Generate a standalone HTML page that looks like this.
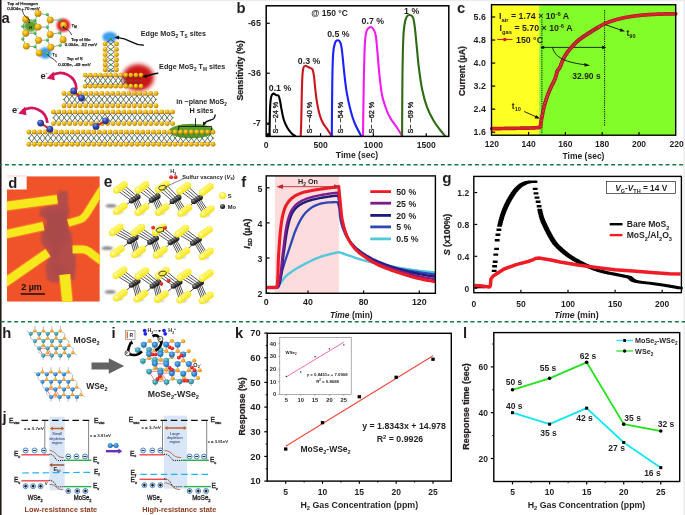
<!DOCTYPE html>
<html lang="en"><head><meta charset="utf-8"><title>Figure</title>
<style>
html,body{margin:0;padding:0;background:#fff;}
body{width:685px;height:515px;overflow:hidden;}
svg{display:block;font-family:"Liberation Sans",sans-serif;}
.b{font-weight:bold;}
.m{stroke:#231f20;stroke-width:0.32px;}
.s{stroke:#231f20;stroke-width:0.18px;}
.r{stroke:#231f20;stroke-width:0.28px;}
.i{font-style:italic;}
</style></head><body>
<svg width="685" height="515" viewBox="0 0 685 515">
<g id="defs">
<defs>
<filter id="soft" filterUnits="userSpaceOnUse" x="-10" y="-10" width="705" height="535"><feGaussianBlur stdDeviation="0.35"/></filter>
<radialGradient id="gy" cx="0.38" cy="0.32" r="0.78"><stop offset="0" stop-color="#ffe052"/><stop offset="0.4" stop-color="#eeb40c"/><stop offset="0.8" stop-color="#b98200"/><stop offset="1" stop-color="#7e5a00"/></radialGradient>
<radialGradient id="gg" cx="0.4" cy="0.35" r="0.75"><stop offset="0" stop-color="#7fe87a"/><stop offset="0.55" stop-color="#2fb345"/><stop offset="1" stop-color="#1b7a2c"/></radialGradient>
<radialGradient id="gb" cx="0.38" cy="0.3" r="0.8"><stop offset="0" stop-color="#8498e6"/><stop offset="0.4" stop-color="#3349b2"/><stop offset="1" stop-color="#172266"/></radialGradient>
<radialGradient id="gr" cx="0.4" cy="0.35" r="0.75"><stop offset="0" stop-color="#ff5a4a"/><stop offset="0.6" stop-color="#e2161a"/><stop offset="1" stop-color="#a00c0c"/></radialGradient>
<radialGradient id="gk" cx="0.4" cy="0.32" r="0.75"><stop offset="0" stop-color="#9a9a9a"/><stop offset="0.5" stop-color="#3a3a3a"/><stop offset="1" stop-color="#0a0a0a"/></radialGradient>
<radialGradient id="gt" cx="0.4" cy="0.35" r="0.75"><stop offset="0" stop-color="#7fd0dc"/><stop offset="0.6" stop-color="#2f96a8"/><stop offset="1" stop-color="#1b6a7a"/></radialGradient>
<radialGradient id="go" cx="0.4" cy="0.35" r="0.75"><stop offset="0" stop-color="#ffc860"/><stop offset="0.6" stop-color="#f39a1c"/><stop offset="1" stop-color="#b86c0a"/></radialGradient>
<radialGradient id="gbl" cx="0.4" cy="0.35" r="0.75"><stop offset="0" stop-color="#74bcee"/><stop offset="0.55" stop-color="#2a84d2"/><stop offset="1" stop-color="#185a9e"/></radialGradient>
<filter id="bl1" filterUnits="userSpaceOnUse" x="0" y="0" width="685" height="515"><feGaussianBlur stdDeviation="1.1"/></filter>
<filter id="bl2" filterUnits="userSpaceOnUse" x="0" y="0" width="685" height="515"><feGaussianBlur stdDeviation="2.2"/></filter>
<filter id="bl05" filterUnits="userSpaceOnUse" x="0" y="0" width="685" height="515"><feGaussianBlur stdDeviation="0.6"/></filter>
<filter id="bl3" filterUnits="userSpaceOnUse" x="0" y="0" width="685" height="515"><feGaussianBlur stdDeviation="3.2"/></filter>
<symbol id="sy" viewBox="-1 -1 2 2" overflow="visible"><circle r="1" fill="url(#gy)"/></symbol>
</defs>
</g>
<g filter="url(#soft)">
<g id="frame">
<rect x="-10" y="-10" width="705" height="535" fill="#fff" stroke="none" stroke-width="1" />
<rect x="-10" y="-10" width="705" height="11.2" fill="#ececec" stroke="none" stroke-width="1" />
<rect x="683.4" y="-10" width="11.6" height="535" fill="#ececec" stroke="none" stroke-width="1" />
<rect x="-10" y="-10" width="11.55" height="535" fill="#231815" stroke="none" stroke-width="1" />
<line x1="-1.83" y1="164.65" x2="690" y2="164.65" stroke="#137a42" stroke-width="1.5" stroke-dasharray="3.95 2.86"/>
<line x1="0.64" y1="321.65" x2="690" y2="321.65" stroke="#137a42" stroke-width="1.5" stroke-dasharray="3.95 2.86"/>
</g>
<g id="pa">
<ellipse cx="30.6" cy="26.2" rx="6.6" ry="5.8" fill="#5a9e2e" filter="url(#bl1)"/>
<circle cx="63.4" cy="25.2" r="6.8" fill="#e0242e" filter="url(#bl1)"/>
<ellipse cx="45.3" cy="53" rx="6.3" ry="5.8" fill="#3f9cea" filter="url(#bl1)"/>
<path d="M38,13.4L47.3,14.6M38,13.4L35,20.4M25.7,19.3L35,20.4M25.7,19.3L22.8,26.3M50.2,19.9L47.3,14.6M50.2,19.9L60.1,20.1M50.2,19.9L47.3,27.1M38,27.1L35,20.4M38,27.1L47.3,27.1M38,27.1L35,33.3M63.6,25.1L60.1,20.1M63.6,25.1L59.9,32.7M25.7,33.3L22.8,26.3M25.7,33.3L35,33.3M25.7,33.3L22.8,38.9M50.2,34.5L47.3,27.1M50.2,34.5L59.9,32.7M50.2,34.5L47.3,40.1M38.5,40.3L35,33.3M38.5,40.3L47.3,40.1M38.5,40.3L35,46.7M63.1,39.7L59.9,32.7M63.1,39.7L60.1,45.2M26.3,46.1L22.8,38.9M26.3,46.1L35,46.7M50.8,47.3L47.3,40.1M50.8,47.3L60.1,45.2M50.8,47.3L47.3,53.5M39.1,53.1L35,46.7M39.1,53.1L47.3,53.5" stroke="#7a7a7a" stroke-width="0.7" fill="none"/>
<circle cx="47.3" cy="14.6" r="1.55" fill="url(#gg)"/>
<circle cx="35" cy="20.4" r="1.55" fill="url(#gg)"/>
<circle cx="60.1" cy="20.1" r="1.55" fill="url(#gg)"/>
<circle cx="22.8" cy="26.3" r="1.55" fill="url(#gg)"/>
<circle cx="47.3" cy="27.1" r="1.55" fill="url(#gg)"/>
<circle cx="35" cy="33.3" r="1.55" fill="url(#gg)"/>
<circle cx="59.9" cy="32.7" r="1.55" fill="url(#gg)"/>
<circle cx="22.8" cy="38.9" r="1.55" fill="url(#gg)"/>
<circle cx="47.3" cy="40.1" r="1.55" fill="url(#gg)"/>
<circle cx="35" cy="46.7" r="1.55" fill="url(#gg)"/>
<circle cx="60.1" cy="45.2" r="1.55" fill="url(#gg)"/>
<circle cx="47.3" cy="53.5" r="1.55" fill="url(#gg)"/>
<circle cx="38" cy="13.4" r="3.45" fill="url(#gy)"/>
<circle cx="25.7" cy="19.3" r="3.45" fill="url(#gy)"/>
<circle cx="50.2" cy="19.9" r="3.45" fill="url(#gy)"/>
<circle cx="38" cy="27.1" r="3.45" fill="url(#gy)"/>
<circle cx="63.6" cy="25.1" r="3.45" fill="url(#gy)"/>
<circle cx="25.7" cy="33.3" r="3.45" fill="url(#gy)"/>
<circle cx="50.2" cy="34.5" r="3.45" fill="url(#gy)"/>
<circle cx="38.5" cy="40.3" r="3.45" fill="url(#gy)"/>
<circle cx="63.1" cy="39.7" r="3.45" fill="url(#gy)"/>
<circle cx="26.3" cy="46.1" r="3.45" fill="url(#gy)"/>
<circle cx="50.8" cy="47.3" r="3.45" fill="url(#gy)"/>
<circle cx="39.1" cy="53.1" r="3.45" fill="url(#gy)"/>
<circle cx="63.5" cy="27.2" r="0.9" fill="#111" />
<circle cx="29.3" cy="22.6" r="0.7" fill="#111" />
<text x="30.4" y="29.3" font-size="4.2" text-anchor="middle" fill="#111" class="b" >H</text>
<path d="M22.3,8.5 C22.6,14 25,17 28,18.2 C29.5,19 29.5,21 29.3,22.6" fill="none" stroke="#111" stroke-width="0.8"/>
<path d="M63.5,27.2 C66,30 69.5,29.5 71.5,35" fill="none" stroke="#111" stroke-width="0.8"/>
<path d="M47.5,54 C50,59 54,57.5 56.5,62.5" fill="none" stroke="#111" stroke-width="0.8"/>
<text x="7.2" y="4.6" font-size="4.4" text-anchor="start" fill="#231f20" stroke="#231f20" stroke-width="0.25">Top of Hexagon</text>
<text x="7.2" y="10.1" font-size="4.4" text-anchor="start" fill="#231f20" stroke="#231f20" stroke-width="0.25">0.004e, -70 meV</text>
<text x="71.6" y="27.2" font-size="4.3" text-anchor="start" fill="#231f20" stroke="#231f20" stroke-width="0.25"><tspan font-size="4.3">T</tspan><tspan font-size="2.84" dy="1.16">M</tspan></text>
<text x="80.7" y="40.8" font-size="4.4" text-anchor="middle" fill="#231f20" stroke="#231f20" stroke-width="0.25">Top of Mo</text>
<text x="81" y="46.2" font-size="4.4" text-anchor="middle" fill="#231f20" stroke="#231f20" stroke-width="0.25">0.004e, -82 meV</text>
<text x="52.3" y="56" font-size="4.3" text-anchor="start" fill="#231f20" stroke="#231f20" stroke-width="0.25"><tspan font-size="4.3">T</tspan><tspan font-size="2.84" dy="1.16">S</tspan></text>
<text x="74.7" y="60.2" font-size="4.4" text-anchor="middle" fill="#231f20" stroke="#231f20" stroke-width="0.25">Top of S</text>
<text x="74.5" y="65.7" font-size="4.4" text-anchor="middle" fill="#231f20" stroke="#231f20" stroke-width="0.25">0.008e, -49 meV</text>
<text x="1.6" y="23.3" font-size="14.8" text-anchor="start" fill="#231f20" class="b" >a</text>
<ellipse cx="109.8" cy="37" rx="7.4" ry="5.2" fill="#3f9cea" filter="url(#bl1)"/>
<ellipse cx="138.2" cy="77.6" rx="15.6" ry="13.4" fill="#cc1219" filter="url(#bl2)"/>
<ellipse cx="191.5" cy="131" rx="22.5" ry="7.2" fill="#5a9e2e" filter="url(#bl05)"/>
<path d="M107.2,41.35L114.4,46.85M114.4,41.35L107.2,46.85M107.2,46.85L114.4,52.05M114.4,46.85L107.2,52.05M107.2,52.05L114.4,57.15M114.4,52.05L107.2,57.15M107.2,57.15L114.4,62.15M114.4,57.15L107.2,62.15M107.2,62.15L114.4,67.15M114.4,62.15L107.2,67.15M107.2,67.15L114.4,72.35M114.4,67.15L107.2,72.35M107.2,69.7L110.8,72.3L114.4,69.7M105.1,43.9L110.8,39.2L116.4,43.9" stroke="#303030" stroke-width="0.7" fill="none"/>
<circle cx="110.8" cy="44.1" r="0.95" fill="#2aa840"/>
<circle cx="110.8" cy="49.45" r="0.95" fill="#2aa840"/>
<circle cx="110.8" cy="54.6" r="0.95" fill="#2aa840"/>
<circle cx="110.8" cy="59.65" r="0.95" fill="#2aa840"/>
<circle cx="110.8" cy="64.65" r="0.95" fill="#2aa840"/>
<circle cx="110.8" cy="69.75" r="0.95" fill="#2aa840"/>
<circle cx="110.8" cy="39" r="1" fill="#2aa840"/>
<circle cx="105.1" cy="43.9" r="2.45" fill="url(#gy)"/>
<circle cx="116.4" cy="43.9" r="2.45" fill="url(#gy)"/>
<circle cx="105.1" cy="49.4" r="2.45" fill="url(#gy)"/>
<circle cx="116.4" cy="49.4" r="2.45" fill="url(#gy)"/>
<circle cx="105.1" cy="54.6" r="2.45" fill="url(#gy)"/>
<circle cx="116.4" cy="54.6" r="2.45" fill="url(#gy)"/>
<circle cx="105.1" cy="59.7" r="2.45" fill="url(#gy)"/>
<circle cx="116.4" cy="59.7" r="2.45" fill="url(#gy)"/>
<circle cx="105.1" cy="64.7" r="2.45" fill="url(#gy)"/>
<circle cx="116.4" cy="64.7" r="2.45" fill="url(#gy)"/>
<circle cx="105.1" cy="69.7" r="2.45" fill="url(#gy)"/>
<circle cx="116.4" cy="69.7" r="2.45" fill="url(#gy)"/>
<path d="M84.9,80.21L87.74,84.35M87.74,76.95L84.9,81.09M87.74,76.95L92.81,84.35M92.81,76.95L87.74,84.35M92.81,76.95L97.88,84.35M97.88,76.95L92.81,84.35M97.88,76.95L102.95,84.35M102.95,76.95L97.88,84.35M102.95,76.95L108.03,84.35M108.03,76.95L102.95,84.35M108.03,76.95L113.1,84.35M113.1,76.95L108.03,84.35M113.1,76.95L118.17,84.35M118.17,76.95L113.1,84.35M118.17,76.95L123.25,84.35M123.25,76.95L118.17,84.35M123.25,76.95L128.32,84.35M128.32,76.95L123.25,84.35M128.32,76.95L133.39,84.35M133.39,76.95L128.32,84.35M133.39,76.95L138.46,84.35M138.46,76.95L133.39,84.35M138.46,76.95L141.3,81.09M141.3,80.21L138.46,84.35M85.2,75.1L87.74,76.95L90.27,75.1M85.2,86.2L87.74,84.35L90.27,86.2M90.27,75.1L92.81,76.95L95.35,75.1M90.27,86.2L92.81,84.35L95.35,86.2M95.35,75.1L97.88,76.95L100.42,75.1M95.35,86.2L97.88,84.35L100.42,86.2M100.42,75.1L102.95,76.95L105.49,75.1M100.42,86.2L102.95,84.35L105.49,86.2M105.49,75.1L108.03,76.95L110.56,75.1M105.49,86.2L108.03,84.35L110.56,86.2M110.56,75.1L113.1,76.95L115.64,75.1M110.56,86.2L113.1,84.35L115.64,86.2M115.64,75.1L118.17,76.95L120.71,75.1M115.64,86.2L118.17,84.35L120.71,86.2M120.71,75.1L123.25,76.95L125.78,75.1M120.71,86.2L123.25,84.35L125.78,86.2M125.78,75.1L128.32,76.95L130.85,75.1M125.78,86.2L128.32,84.35L130.85,86.2M130.85,75.1L133.39,76.95L135.93,75.1M130.85,86.2L133.39,84.35L135.93,86.2M135.93,75.1L138.46,76.95L141,75.1M135.93,86.2L138.46,84.35L141,86.2" stroke="#303030" stroke-width="0.7" fill="none"/>
<circle cx="85.2" cy="80.65" r="0.8" fill="#2a9c3c"/>
<circle cx="90.27" cy="80.65" r="0.8" fill="#2a9c3c"/>
<circle cx="95.35" cy="80.65" r="0.8" fill="#2a9c3c"/>
<circle cx="100.42" cy="80.65" r="0.8" fill="#2a9c3c"/>
<circle cx="105.49" cy="80.65" r="0.8" fill="#2a9c3c"/>
<circle cx="110.56" cy="80.65" r="0.8" fill="#2a9c3c"/>
<circle cx="115.64" cy="80.65" r="0.8" fill="#2a9c3c"/>
<circle cx="120.71" cy="80.65" r="0.8" fill="#2a9c3c"/>
<circle cx="125.78" cy="80.65" r="0.8" fill="#2a9c3c"/>
<circle cx="130.85" cy="80.65" r="0.8" fill="#2a9c3c"/>
<circle cx="135.93" cy="80.65" r="0.8" fill="#2a9c3c"/>
<circle cx="141" cy="80.65" r="0.8" fill="#2a9c3c"/>
<path d="M63.6,99.14L66.61,103.25M66.61,95.85L63.6,99.96M66.61,95.85L72.03,103.25M72.03,95.85L66.61,103.25M72.03,95.85L77.44,103.25M77.44,95.85L72.03,103.25M77.44,95.85L82.86,103.25M82.86,95.85L77.44,103.25M82.86,95.85L88.28,103.25M88.28,95.85L82.86,103.25M88.28,95.85L93.7,103.25M93.7,95.85L88.28,103.25M93.7,95.85L99.11,103.25M99.11,95.85L93.7,103.25M99.11,95.85L104.53,103.25M104.53,95.85L99.11,103.25M104.53,95.85L109.95,103.25M109.95,95.85L104.53,103.25M109.95,95.85L115.37,103.25M115.37,95.85L109.95,103.25M115.37,95.85L120.79,103.25M120.79,95.85L115.37,103.25M120.79,95.85L126.2,103.25M126.2,95.85L120.79,103.25M126.2,95.85L131.62,103.25M131.62,95.85L126.2,103.25M131.62,95.85L137.04,103.25M137.04,95.85L131.62,103.25M137.04,95.85L142.46,103.25M142.46,95.85L137.04,103.25M142.46,95.85L147.87,103.25M147.87,95.85L142.46,103.25M147.87,95.85L153.29,103.25M153.29,95.85L147.87,103.25M153.29,95.85L156.3,99.96M156.3,99.14L153.29,103.25M63.9,93.4L66.61,95.85L69.32,93.4M63.9,105.7L66.61,103.25L69.32,105.7M69.32,93.4L72.03,95.85L74.74,93.4M69.32,105.7L72.03,103.25L74.74,105.7M74.74,93.4L77.44,95.85L80.15,93.4M74.74,105.7L77.44,103.25L80.15,105.7M80.15,93.4L82.86,95.85L85.57,93.4M80.15,105.7L82.86,103.25L85.57,105.7M85.57,93.4L88.28,95.85L90.99,93.4M85.57,105.7L88.28,103.25L90.99,105.7M90.99,93.4L93.7,95.85L96.41,93.4M90.99,105.7L93.7,103.25L96.41,105.7M96.41,93.4L99.11,95.85L101.82,93.4M96.41,105.7L99.11,103.25L101.82,105.7M101.82,93.4L104.53,95.85L107.24,93.4M101.82,105.7L104.53,103.25L107.24,105.7M107.24,93.4L109.95,95.85L112.66,93.4M107.24,105.7L109.95,103.25L112.66,105.7M112.66,93.4L115.37,95.85L118.08,93.4M112.66,105.7L115.37,103.25L118.08,105.7M118.08,93.4L120.79,95.85L123.49,93.4M118.08,105.7L120.79,103.25L123.49,105.7M123.49,93.4L126.2,95.85L128.91,93.4M123.49,105.7L126.2,103.25L128.91,105.7M128.91,93.4L131.62,95.85L134.33,93.4M128.91,105.7L131.62,103.25L134.33,105.7M134.33,93.4L137.04,95.85L139.75,93.4M134.33,105.7L137.04,103.25L139.75,105.7M139.75,93.4L142.46,95.85L145.16,93.4M139.75,105.7L142.46,103.25L145.16,105.7M145.16,93.4L147.87,95.85L150.58,93.4M145.16,105.7L147.87,103.25L150.58,105.7M150.58,93.4L153.29,95.85L156,93.4M150.58,105.7L153.29,103.25L156,105.7" stroke="#303030" stroke-width="0.7" fill="none"/>
<circle cx="63.9" cy="99.55" r="0.8" fill="#2a9c3c"/>
<circle cx="69.32" cy="99.55" r="0.8" fill="#2a9c3c"/>
<circle cx="74.74" cy="99.55" r="0.8" fill="#2a9c3c"/>
<circle cx="80.15" cy="99.55" r="0.8" fill="#2a9c3c"/>
<circle cx="85.57" cy="99.55" r="0.8" fill="#2a9c3c"/>
<circle cx="90.99" cy="99.55" r="0.8" fill="#2a9c3c"/>
<circle cx="96.41" cy="99.55" r="0.8" fill="#2a9c3c"/>
<circle cx="101.82" cy="99.55" r="0.8" fill="#2a9c3c"/>
<circle cx="107.24" cy="99.55" r="0.8" fill="#2a9c3c"/>
<circle cx="112.66" cy="99.55" r="0.8" fill="#2a9c3c"/>
<circle cx="118.08" cy="99.55" r="0.8" fill="#2a9c3c"/>
<circle cx="123.49" cy="99.55" r="0.8" fill="#2a9c3c"/>
<circle cx="128.91" cy="99.55" r="0.8" fill="#2a9c3c"/>
<circle cx="134.33" cy="99.55" r="0.8" fill="#2a9c3c"/>
<circle cx="139.75" cy="99.55" r="0.8" fill="#2a9c3c"/>
<circle cx="145.16" cy="99.55" r="0.8" fill="#2a9c3c"/>
<circle cx="150.58" cy="99.55" r="0.8" fill="#2a9c3c"/>
<circle cx="156" cy="99.55" r="0.8" fill="#2a9c3c"/>
<path d="M53.1,117.34L56.11,121.45M56.11,114.05L53.1,118.16M56.11,114.05L61.53,121.45M61.53,114.05L56.11,121.45M61.53,114.05L66.95,121.45M66.95,114.05L61.53,121.45M66.95,114.05L72.36,121.45M72.36,114.05L66.95,121.45M72.36,114.05L77.78,121.45M77.78,114.05L72.36,121.45M77.78,114.05L83.2,121.45M83.2,114.05L77.78,121.45M83.2,114.05L88.62,121.45M88.62,114.05L83.2,121.45M88.62,114.05L94.04,121.45M94.04,114.05L88.62,121.45M94.04,114.05L99.45,121.45M99.45,114.05L94.04,121.45M99.45,114.05L104.87,121.45M104.87,114.05L99.45,121.45M104.87,114.05L110.29,121.45M110.29,114.05L104.87,121.45M110.29,114.05L115.71,121.45M115.71,114.05L110.29,121.45M115.71,114.05L121.13,121.45M121.13,114.05L115.71,121.45M121.13,114.05L126.55,121.45M126.55,114.05L121.13,121.45M126.55,114.05L131.96,121.45M131.96,114.05L126.55,121.45M131.96,114.05L137.38,121.45M137.38,114.05L131.96,121.45M137.38,114.05L142.8,121.45M142.8,114.05L137.38,121.45M142.8,114.05L148.22,121.45M148.22,114.05L142.8,121.45M148.22,114.05L153.64,121.45M153.64,114.05L148.22,121.45M153.64,114.05L159.05,121.45M159.05,114.05L153.64,121.45M159.05,114.05L164.47,121.45M164.47,114.05L159.05,121.45M164.47,114.05L169.89,121.45M169.89,114.05L164.47,121.45M169.89,114.05L172.9,118.16M172.9,117.34L169.89,121.45M53.4,111.9L56.11,114.05L58.82,111.9M53.4,123.6L56.11,121.45L58.82,123.6M58.82,111.9L61.53,114.05L64.24,111.9M58.82,123.6L61.53,121.45L64.24,123.6M64.24,111.9L66.95,114.05L69.65,111.9M64.24,123.6L66.95,121.45L69.65,123.6M69.65,111.9L72.36,114.05L75.07,111.9M69.65,123.6L72.36,121.45L75.07,123.6M75.07,111.9L77.78,114.05L80.49,111.9M75.07,123.6L77.78,121.45L80.49,123.6M80.49,111.9L83.2,114.05L85.91,111.9M80.49,123.6L83.2,121.45L85.91,123.6M85.91,111.9L88.62,114.05L91.33,111.9M85.91,123.6L88.62,121.45L91.33,123.6M91.33,111.9L94.04,114.05L96.75,111.9M91.33,123.6L94.04,121.45L96.75,123.6M96.75,111.9L99.45,114.05L102.16,111.9M96.75,123.6L99.45,121.45L102.16,123.6M102.16,111.9L104.87,114.05L107.58,111.9M102.16,123.6L104.87,121.45L107.58,123.6M107.58,111.9L110.29,114.05L113,111.9M107.58,123.6L110.29,121.45L113,123.6M113,111.9L115.71,114.05L118.42,111.9M113,123.6L115.71,121.45L118.42,123.6M118.42,111.9L121.13,114.05L123.84,111.9M118.42,123.6L121.13,121.45L123.84,123.6M123.84,111.9L126.55,114.05L129.25,111.9M123.84,123.6L126.55,121.45L129.25,123.6M129.25,111.9L131.96,114.05L134.67,111.9M129.25,123.6L131.96,121.45L134.67,123.6M134.67,111.9L137.38,114.05L140.09,111.9M134.67,123.6L137.38,121.45L140.09,123.6M140.09,111.9L142.8,114.05L145.51,111.9M140.09,123.6L142.8,121.45L145.51,123.6M145.51,111.9L148.22,114.05L150.93,111.9M145.51,123.6L148.22,121.45L150.93,123.6M150.93,111.9L153.64,114.05L156.35,111.9M150.93,123.6L153.64,121.45L156.35,123.6M156.35,111.9L159.05,114.05L161.76,111.9M156.35,123.6L159.05,121.45L161.76,123.6M161.76,111.9L164.47,114.05L167.18,111.9M161.76,123.6L164.47,121.45L167.18,123.6M167.18,111.9L169.89,114.05L172.6,111.9M167.18,123.6L169.89,121.45L172.6,123.6" stroke="#303030" stroke-width="0.7" fill="none"/>
<circle cx="53.4" cy="117.75" r="0.8" fill="#2a9c3c"/>
<circle cx="58.82" cy="117.75" r="0.8" fill="#2a9c3c"/>
<circle cx="64.24" cy="117.75" r="0.8" fill="#2a9c3c"/>
<circle cx="69.65" cy="117.75" r="0.8" fill="#2a9c3c"/>
<circle cx="75.07" cy="117.75" r="0.8" fill="#2a9c3c"/>
<circle cx="80.49" cy="117.75" r="0.8" fill="#2a9c3c"/>
<circle cx="85.91" cy="117.75" r="0.8" fill="#2a9c3c"/>
<circle cx="91.33" cy="117.75" r="0.8" fill="#2a9c3c"/>
<circle cx="96.75" cy="117.75" r="0.8" fill="#2a9c3c"/>
<circle cx="102.16" cy="117.75" r="0.8" fill="#2a9c3c"/>
<circle cx="107.58" cy="117.75" r="0.8" fill="#2a9c3c"/>
<circle cx="113" cy="117.75" r="0.8" fill="#2a9c3c"/>
<circle cx="118.42" cy="117.75" r="0.8" fill="#2a9c3c"/>
<circle cx="123.84" cy="117.75" r="0.8" fill="#2a9c3c"/>
<circle cx="129.25" cy="117.75" r="0.8" fill="#2a9c3c"/>
<circle cx="134.67" cy="117.75" r="0.8" fill="#2a9c3c"/>
<circle cx="140.09" cy="117.75" r="0.8" fill="#2a9c3c"/>
<circle cx="145.51" cy="117.75" r="0.8" fill="#2a9c3c"/>
<circle cx="150.93" cy="117.75" r="0.8" fill="#2a9c3c"/>
<circle cx="156.35" cy="117.75" r="0.8" fill="#2a9c3c"/>
<circle cx="161.76" cy="117.75" r="0.8" fill="#2a9c3c"/>
<circle cx="167.18" cy="117.75" r="0.8" fill="#2a9c3c"/>
<circle cx="172.6" cy="117.75" r="0.8" fill="#2a9c3c"/>
<path d="M28.6,137.74L31.61,141.85M31.61,134.45L28.6,138.56M31.61,134.45L37.02,141.85M37.02,134.45L31.61,141.85M37.02,134.45L42.44,141.85M42.44,134.45L37.02,141.85M42.44,134.45L47.85,141.85M47.85,134.45L42.44,141.85M47.85,134.45L53.27,141.85M53.27,134.45L47.85,141.85M53.27,134.45L58.68,141.85M58.68,134.45L53.27,141.85M58.68,134.45L64.1,141.85M64.1,134.45L58.68,141.85M64.1,134.45L69.51,141.85M69.51,134.45L64.1,141.85M69.51,134.45L74.92,141.85M74.92,134.45L69.51,141.85M74.92,134.45L80.34,141.85M80.34,134.45L74.92,141.85M80.34,134.45L85.75,141.85M85.75,134.45L80.34,141.85M85.75,134.45L91.17,141.85M91.17,134.45L85.75,141.85M91.17,134.45L96.58,141.85M96.58,134.45L91.17,141.85M96.58,134.45L102,141.85M102,134.45L96.58,141.85M102,134.45L107.41,141.85M107.41,134.45L102,141.85M107.41,134.45L112.83,141.85M112.83,134.45L107.41,141.85M112.83,134.45L118.24,141.85M118.24,134.45L112.83,141.85M118.24,134.45L123.66,141.85M123.66,134.45L118.24,141.85M123.66,134.45L129.07,141.85M129.07,134.45L123.66,141.85M129.07,134.45L134.49,141.85M134.49,134.45L129.07,141.85M134.49,134.45L139.9,141.85M139.9,134.45L134.49,141.85M139.9,134.45L145.32,141.85M145.32,134.45L139.9,141.85M145.32,134.45L150.73,141.85M150.73,134.45L145.32,141.85M150.73,134.45L156.15,141.85M156.15,134.45L150.73,141.85M156.15,134.45L161.56,141.85M161.56,134.45L156.15,141.85M161.56,134.45L166.97,141.85M166.97,134.45L161.56,141.85M166.97,134.45L172.39,141.85M172.39,134.45L166.97,141.85M172.39,134.45L177.8,141.85M177.8,134.45L172.39,141.85M177.8,134.45L183.22,141.85M183.22,134.45L177.8,141.85M183.22,134.45L188.63,141.85M188.63,134.45L183.22,141.85M188.63,134.45L194.05,141.85M194.05,134.45L188.63,141.85M194.05,134.45L199.46,141.85M199.46,134.45L194.05,141.85M199.46,134.45L204.88,141.85M204.88,134.45L199.46,141.85M204.88,134.45L210.29,141.85M210.29,134.45L204.88,141.85M210.29,134.45L213.3,138.56M213.3,137.74L210.29,141.85M28.9,132L31.61,134.45L34.31,132M28.9,144.3L31.61,141.85L34.31,144.3M34.31,132L37.02,134.45L39.73,132M34.31,144.3L37.02,141.85L39.73,144.3M39.73,132L42.44,134.45L45.14,132M39.73,144.3L42.44,141.85L45.14,144.3M45.14,132L47.85,134.45L50.56,132M45.14,144.3L47.85,141.85L50.56,144.3M50.56,132L53.27,134.45L55.97,132M50.56,144.3L53.27,141.85L55.97,144.3M55.97,132L58.68,134.45L61.39,132M55.97,144.3L58.68,141.85L61.39,144.3M61.39,132L64.1,134.45L66.8,132M61.39,144.3L64.1,141.85L66.8,144.3M66.8,132L69.51,134.45L72.22,132M66.8,144.3L69.51,141.85L72.22,144.3M72.22,132L74.92,134.45L77.63,132M72.22,144.3L74.92,141.85L77.63,144.3M77.63,132L80.34,134.45L83.05,132M77.63,144.3L80.34,141.85L83.05,144.3M83.05,132L85.75,134.45L88.46,132M83.05,144.3L85.75,141.85L88.46,144.3M88.46,132L91.17,134.45L93.88,132M88.46,144.3L91.17,141.85L93.88,144.3M93.88,132L96.58,134.45L99.29,132M93.88,144.3L96.58,141.85L99.29,144.3M99.29,132L102,134.45L104.71,132M99.29,144.3L102,141.85L104.71,144.3M104.71,132L107.41,134.45L110.12,132M104.71,144.3L107.41,141.85L110.12,144.3M110.12,132L112.83,134.45L115.54,132M110.12,144.3L112.83,141.85L115.54,144.3M115.54,132L118.24,134.45L120.95,132M115.54,144.3L118.24,141.85L120.95,144.3M120.95,132L123.66,134.45L126.36,132M120.95,144.3L123.66,141.85L126.36,144.3M126.36,132L129.07,134.45L131.78,132M126.36,144.3L129.07,141.85L131.78,144.3M131.78,132L134.49,134.45L137.19,132M131.78,144.3L134.49,141.85L137.19,144.3M137.19,132L139.9,134.45L142.61,132M137.19,144.3L139.9,141.85L142.61,144.3M142.61,132L145.32,134.45L148.02,132M142.61,144.3L145.32,141.85L148.02,144.3M148.02,132L150.73,134.45L153.44,132M148.02,144.3L150.73,141.85L153.44,144.3M153.44,132L156.15,134.45L158.85,132M153.44,144.3L156.15,141.85L158.85,144.3M158.85,132L161.56,134.45L164.27,132M158.85,144.3L161.56,141.85L164.27,144.3M164.27,132L166.97,134.45L169.68,132M164.27,144.3L166.97,141.85L169.68,144.3M169.68,132L172.39,134.45L175.1,132M169.68,144.3L172.39,141.85L175.1,144.3M175.1,132L177.8,134.45L180.51,132M175.1,144.3L177.8,141.85L180.51,144.3M180.51,132L183.22,134.45L185.93,132M180.51,144.3L183.22,141.85L185.93,144.3M185.93,132L188.63,134.45L191.34,132M185.93,144.3L188.63,141.85L191.34,144.3M191.34,132L194.05,134.45L196.76,132M191.34,144.3L194.05,141.85L196.76,144.3M196.76,132L199.46,134.45L202.17,132M196.76,144.3L199.46,141.85L202.17,144.3M202.17,132L204.88,134.45L207.59,132M202.17,144.3L204.88,141.85L207.59,144.3M207.59,132L210.29,134.45L213,132M207.59,144.3L210.29,141.85L213,144.3" stroke="#303030" stroke-width="0.7" fill="none"/>
<circle cx="28.9" cy="138.15" r="0.8" fill="#2a9c3c"/>
<circle cx="34.31" cy="138.15" r="0.8" fill="#2a9c3c"/>
<circle cx="39.73" cy="138.15" r="0.8" fill="#2a9c3c"/>
<circle cx="45.14" cy="138.15" r="0.8" fill="#2a9c3c"/>
<circle cx="50.56" cy="138.15" r="0.8" fill="#2a9c3c"/>
<circle cx="55.97" cy="138.15" r="0.8" fill="#2a9c3c"/>
<circle cx="61.39" cy="138.15" r="0.8" fill="#2a9c3c"/>
<circle cx="66.8" cy="138.15" r="0.8" fill="#2a9c3c"/>
<circle cx="72.22" cy="138.15" r="0.8" fill="#2a9c3c"/>
<circle cx="77.63" cy="138.15" r="0.8" fill="#2a9c3c"/>
<circle cx="83.05" cy="138.15" r="0.8" fill="#2a9c3c"/>
<circle cx="88.46" cy="138.15" r="0.8" fill="#2a9c3c"/>
<circle cx="93.88" cy="138.15" r="0.8" fill="#2a9c3c"/>
<circle cx="99.29" cy="138.15" r="0.8" fill="#2a9c3c"/>
<circle cx="104.71" cy="138.15" r="0.8" fill="#2a9c3c"/>
<circle cx="110.12" cy="138.15" r="0.8" fill="#2a9c3c"/>
<circle cx="115.54" cy="138.15" r="0.8" fill="#2a9c3c"/>
<circle cx="120.95" cy="138.15" r="0.8" fill="#2a9c3c"/>
<circle cx="126.36" cy="138.15" r="0.8" fill="#2a9c3c"/>
<circle cx="131.78" cy="138.15" r="0.8" fill="#2a9c3c"/>
<circle cx="137.19" cy="138.15" r="0.8" fill="#2a9c3c"/>
<circle cx="142.61" cy="138.15" r="0.8" fill="#2a9c3c"/>
<circle cx="148.02" cy="138.15" r="0.8" fill="#2a9c3c"/>
<circle cx="153.44" cy="138.15" r="0.8" fill="#2a9c3c"/>
<circle cx="158.85" cy="138.15" r="0.8" fill="#2a9c3c"/>
<circle cx="164.27" cy="138.15" r="0.8" fill="#2a9c3c"/>
<circle cx="169.68" cy="138.15" r="0.8" fill="#2a9c3c"/>
<circle cx="175.1" cy="138.15" r="0.8" fill="#2a9c3c"/>
<circle cx="180.51" cy="138.15" r="0.8" fill="#2a9c3c"/>
<circle cx="185.93" cy="138.15" r="0.8" fill="#2a9c3c"/>
<circle cx="191.34" cy="138.15" r="0.8" fill="#2a9c3c"/>
<circle cx="196.76" cy="138.15" r="0.8" fill="#2a9c3c"/>
<circle cx="202.17" cy="138.15" r="0.8" fill="#2a9c3c"/>
<circle cx="207.59" cy="138.15" r="0.8" fill="#2a9c3c"/>
<circle cx="213" cy="138.15" r="0.8" fill="#2a9c3c"/>
<ellipse cx="138.5" cy="79.5" rx="11.5" ry="8" fill="#cc1219" opacity="0.45" filter="url(#bl1)"/>
<ellipse cx="191.5" cy="133" rx="20" ry="4.6" fill="#5a9e2e" opacity="0.6" filter="url(#bl05)"/>
<circle cx="85.2" cy="75.1" r="2.4" fill="url(#gy)"/>
<circle cx="90.27" cy="75.1" r="2.4" fill="url(#gy)"/>
<circle cx="95.35" cy="75.1" r="2.4" fill="url(#gy)"/>
<circle cx="100.42" cy="75.1" r="2.4" fill="url(#gy)"/>
<circle cx="105.49" cy="75.1" r="2.4" fill="url(#gy)"/>
<circle cx="110.56" cy="75.1" r="2.4" fill="url(#gy)"/>
<circle cx="115.64" cy="75.1" r="2.4" fill="url(#gy)"/>
<circle cx="120.71" cy="75.1" r="2.4" fill="url(#gy)"/>
<circle cx="125.78" cy="75.1" r="2.4" fill="url(#gy)"/>
<circle cx="130.85" cy="75.1" r="2.4" fill="url(#gy)"/>
<circle cx="135.93" cy="75.1" r="2.4" fill="url(#gy)"/>
<circle cx="141" cy="75.1" r="2.4" fill="url(#gy)"/>
<circle cx="85.2" cy="86.2" r="2.4" fill="url(#gy)"/>
<circle cx="90.27" cy="86.2" r="2.4" fill="url(#gy)"/>
<circle cx="95.35" cy="86.2" r="2.4" fill="url(#gy)"/>
<circle cx="100.42" cy="86.2" r="2.4" fill="url(#gy)"/>
<circle cx="105.49" cy="86.2" r="2.4" fill="url(#gy)"/>
<circle cx="110.56" cy="86.2" r="2.4" fill="url(#gy)"/>
<circle cx="115.64" cy="86.2" r="2.4" fill="url(#gy)"/>
<circle cx="120.71" cy="86.2" r="2.4" fill="url(#gy)"/>
<circle cx="125.78" cy="86.2" r="2.4" fill="url(#gy)"/>
<circle cx="130.85" cy="86.2" r="2.4" fill="url(#gy)"/>
<circle cx="135.93" cy="86.2" r="2.4" fill="url(#gy)"/>
<circle cx="141" cy="86.2" r="2.4" fill="url(#gy)"/>
<circle cx="63.9" cy="93.4" r="2.45" fill="url(#gy)"/>
<circle cx="69.32" cy="93.4" r="2.45" fill="url(#gy)"/>
<circle cx="74.74" cy="93.4" r="2.45" fill="url(#gy)"/>
<circle cx="80.15" cy="93.4" r="2.45" fill="url(#gy)"/>
<circle cx="85.57" cy="93.4" r="2.45" fill="url(#gy)"/>
<circle cx="90.99" cy="93.4" r="2.45" fill="url(#gy)"/>
<circle cx="96.41" cy="93.4" r="2.45" fill="url(#gy)"/>
<circle cx="101.82" cy="93.4" r="2.45" fill="url(#gy)"/>
<circle cx="107.24" cy="93.4" r="2.45" fill="url(#gy)"/>
<circle cx="112.66" cy="93.4" r="2.45" fill="url(#gy)"/>
<circle cx="118.08" cy="93.4" r="2.45" fill="url(#gy)"/>
<circle cx="123.49" cy="93.4" r="2.45" fill="url(#gy)"/>
<circle cx="128.91" cy="93.4" r="2.45" fill="url(#gy)"/>
<circle cx="134.33" cy="93.4" r="2.45" fill="url(#gy)"/>
<circle cx="139.75" cy="93.4" r="2.45" fill="url(#gy)"/>
<circle cx="145.16" cy="93.4" r="2.45" fill="url(#gy)"/>
<circle cx="150.58" cy="93.4" r="2.45" fill="url(#gy)"/>
<circle cx="156" cy="93.4" r="2.45" fill="url(#gy)"/>
<circle cx="63.9" cy="105.7" r="2.45" fill="url(#gy)"/>
<circle cx="69.32" cy="105.7" r="2.45" fill="url(#gy)"/>
<circle cx="74.74" cy="105.7" r="2.45" fill="url(#gy)"/>
<circle cx="80.15" cy="105.7" r="2.45" fill="url(#gy)"/>
<circle cx="85.57" cy="105.7" r="2.45" fill="url(#gy)"/>
<circle cx="90.99" cy="105.7" r="2.45" fill="url(#gy)"/>
<circle cx="96.41" cy="105.7" r="2.45" fill="url(#gy)"/>
<circle cx="101.82" cy="105.7" r="2.45" fill="url(#gy)"/>
<circle cx="107.24" cy="105.7" r="2.45" fill="url(#gy)"/>
<circle cx="112.66" cy="105.7" r="2.45" fill="url(#gy)"/>
<circle cx="118.08" cy="105.7" r="2.45" fill="url(#gy)"/>
<circle cx="123.49" cy="105.7" r="2.45" fill="url(#gy)"/>
<circle cx="128.91" cy="105.7" r="2.45" fill="url(#gy)"/>
<circle cx="134.33" cy="105.7" r="2.45" fill="url(#gy)"/>
<circle cx="139.75" cy="105.7" r="2.45" fill="url(#gy)"/>
<circle cx="145.16" cy="105.7" r="2.45" fill="url(#gy)"/>
<circle cx="150.58" cy="105.7" r="2.45" fill="url(#gy)"/>
<circle cx="156" cy="105.7" r="2.45" fill="url(#gy)"/>
<circle cx="53.4" cy="111.9" r="2.45" fill="url(#gy)"/>
<circle cx="58.82" cy="111.9" r="2.45" fill="url(#gy)"/>
<circle cx="64.24" cy="111.9" r="2.45" fill="url(#gy)"/>
<circle cx="69.65" cy="111.9" r="2.45" fill="url(#gy)"/>
<circle cx="75.07" cy="111.9" r="2.45" fill="url(#gy)"/>
<circle cx="80.49" cy="111.9" r="2.45" fill="url(#gy)"/>
<circle cx="85.91" cy="111.9" r="2.45" fill="url(#gy)"/>
<circle cx="91.33" cy="111.9" r="2.45" fill="url(#gy)"/>
<circle cx="96.75" cy="111.9" r="2.45" fill="url(#gy)"/>
<circle cx="102.16" cy="111.9" r="2.45" fill="url(#gy)"/>
<circle cx="107.58" cy="111.9" r="2.45" fill="url(#gy)"/>
<circle cx="113" cy="111.9" r="2.45" fill="url(#gy)"/>
<circle cx="118.42" cy="111.9" r="2.45" fill="url(#gy)"/>
<circle cx="123.84" cy="111.9" r="2.45" fill="url(#gy)"/>
<circle cx="129.25" cy="111.9" r="2.45" fill="url(#gy)"/>
<circle cx="134.67" cy="111.9" r="2.45" fill="url(#gy)"/>
<circle cx="140.09" cy="111.9" r="2.45" fill="url(#gy)"/>
<circle cx="145.51" cy="111.9" r="2.45" fill="url(#gy)"/>
<circle cx="150.93" cy="111.9" r="2.45" fill="url(#gy)"/>
<circle cx="156.35" cy="111.9" r="2.45" fill="url(#gy)"/>
<circle cx="161.76" cy="111.9" r="2.45" fill="url(#gy)"/>
<circle cx="167.18" cy="111.9" r="2.45" fill="url(#gy)"/>
<circle cx="172.6" cy="111.9" r="2.45" fill="url(#gy)"/>
<circle cx="53.4" cy="123.6" r="2.45" fill="url(#gy)"/>
<circle cx="58.82" cy="123.6" r="2.45" fill="url(#gy)"/>
<circle cx="64.24" cy="123.6" r="2.45" fill="url(#gy)"/>
<circle cx="69.65" cy="123.6" r="2.45" fill="url(#gy)"/>
<circle cx="75.07" cy="123.6" r="2.45" fill="url(#gy)"/>
<circle cx="80.49" cy="123.6" r="2.45" fill="url(#gy)"/>
<circle cx="85.91" cy="123.6" r="2.45" fill="url(#gy)"/>
<circle cx="91.33" cy="123.6" r="2.45" fill="url(#gy)"/>
<circle cx="96.75" cy="123.6" r="2.45" fill="url(#gy)"/>
<circle cx="102.16" cy="123.6" r="2.45" fill="url(#gy)"/>
<circle cx="107.58" cy="123.6" r="2.45" fill="url(#gy)"/>
<circle cx="113" cy="123.6" r="2.45" fill="url(#gy)"/>
<circle cx="118.42" cy="123.6" r="2.45" fill="url(#gy)"/>
<circle cx="123.84" cy="123.6" r="2.45" fill="url(#gy)"/>
<circle cx="129.25" cy="123.6" r="2.45" fill="url(#gy)"/>
<circle cx="134.67" cy="123.6" r="2.45" fill="url(#gy)"/>
<circle cx="140.09" cy="123.6" r="2.45" fill="url(#gy)"/>
<circle cx="145.51" cy="123.6" r="2.45" fill="url(#gy)"/>
<circle cx="150.93" cy="123.6" r="2.45" fill="url(#gy)"/>
<circle cx="156.35" cy="123.6" r="2.45" fill="url(#gy)"/>
<circle cx="161.76" cy="123.6" r="2.45" fill="url(#gy)"/>
<circle cx="167.18" cy="123.6" r="2.45" fill="url(#gy)"/>
<circle cx="172.6" cy="123.6" r="2.45" fill="url(#gy)"/>
<circle cx="28.9" cy="132" r="2.45" fill="url(#gy)"/>
<circle cx="34.31" cy="132" r="2.45" fill="url(#gy)"/>
<circle cx="39.73" cy="132" r="2.45" fill="url(#gy)"/>
<circle cx="45.14" cy="132" r="2.45" fill="url(#gy)"/>
<circle cx="50.56" cy="132" r="2.45" fill="url(#gy)"/>
<circle cx="55.97" cy="132" r="2.45" fill="url(#gy)"/>
<circle cx="61.39" cy="132" r="2.45" fill="url(#gy)"/>
<circle cx="66.8" cy="132" r="2.45" fill="url(#gy)"/>
<circle cx="72.22" cy="132" r="2.45" fill="url(#gy)"/>
<circle cx="77.63" cy="132" r="2.45" fill="url(#gy)"/>
<circle cx="83.05" cy="132" r="2.45" fill="url(#gy)"/>
<circle cx="88.46" cy="132" r="2.45" fill="url(#gy)"/>
<circle cx="93.88" cy="132" r="2.45" fill="url(#gy)"/>
<circle cx="99.29" cy="132" r="2.45" fill="url(#gy)"/>
<circle cx="104.71" cy="132" r="2.45" fill="url(#gy)"/>
<circle cx="110.12" cy="132" r="2.45" fill="url(#gy)"/>
<circle cx="115.54" cy="132" r="2.45" fill="url(#gy)"/>
<circle cx="120.95" cy="132" r="2.45" fill="url(#gy)"/>
<circle cx="126.36" cy="132" r="2.45" fill="url(#gy)"/>
<circle cx="131.78" cy="132" r="2.45" fill="url(#gy)"/>
<circle cx="137.19" cy="132" r="2.45" fill="url(#gy)"/>
<circle cx="142.61" cy="132" r="2.45" fill="url(#gy)"/>
<circle cx="148.02" cy="132" r="2.45" fill="url(#gy)"/>
<circle cx="153.44" cy="132" r="2.45" fill="url(#gy)"/>
<circle cx="158.85" cy="132" r="2.45" fill="url(#gy)"/>
<circle cx="164.27" cy="132" r="2.45" fill="url(#gy)"/>
<circle cx="169.68" cy="132" r="2.45" fill="url(#gy)"/>
<circle cx="175.1" cy="132" r="2.45" fill="url(#gy)"/>
<circle cx="180.51" cy="132" r="2.45" fill="url(#gy)"/>
<circle cx="185.93" cy="132" r="2.45" fill="url(#gy)"/>
<circle cx="191.34" cy="132" r="2.45" fill="url(#gy)"/>
<circle cx="196.76" cy="132" r="2.45" fill="url(#gy)"/>
<circle cx="202.17" cy="132" r="2.45" fill="url(#gy)"/>
<circle cx="207.59" cy="132" r="2.45" fill="url(#gy)"/>
<circle cx="213" cy="132" r="2.45" fill="url(#gy)"/>
<circle cx="28.9" cy="144.3" r="2.45" fill="url(#gy)"/>
<circle cx="34.31" cy="144.3" r="2.45" fill="url(#gy)"/>
<circle cx="39.73" cy="144.3" r="2.45" fill="url(#gy)"/>
<circle cx="45.14" cy="144.3" r="2.45" fill="url(#gy)"/>
<circle cx="50.56" cy="144.3" r="2.45" fill="url(#gy)"/>
<circle cx="55.97" cy="144.3" r="2.45" fill="url(#gy)"/>
<circle cx="61.39" cy="144.3" r="2.45" fill="url(#gy)"/>
<circle cx="66.8" cy="144.3" r="2.45" fill="url(#gy)"/>
<circle cx="72.22" cy="144.3" r="2.45" fill="url(#gy)"/>
<circle cx="77.63" cy="144.3" r="2.45" fill="url(#gy)"/>
<circle cx="83.05" cy="144.3" r="2.45" fill="url(#gy)"/>
<circle cx="88.46" cy="144.3" r="2.45" fill="url(#gy)"/>
<circle cx="93.88" cy="144.3" r="2.45" fill="url(#gy)"/>
<circle cx="99.29" cy="144.3" r="2.45" fill="url(#gy)"/>
<circle cx="104.71" cy="144.3" r="2.45" fill="url(#gy)"/>
<circle cx="110.12" cy="144.3" r="2.45" fill="url(#gy)"/>
<circle cx="115.54" cy="144.3" r="2.45" fill="url(#gy)"/>
<circle cx="120.95" cy="144.3" r="2.45" fill="url(#gy)"/>
<circle cx="126.36" cy="144.3" r="2.45" fill="url(#gy)"/>
<circle cx="131.78" cy="144.3" r="2.45" fill="url(#gy)"/>
<circle cx="137.19" cy="144.3" r="2.45" fill="url(#gy)"/>
<circle cx="142.61" cy="144.3" r="2.45" fill="url(#gy)"/>
<circle cx="148.02" cy="144.3" r="2.45" fill="url(#gy)"/>
<circle cx="153.44" cy="144.3" r="2.45" fill="url(#gy)"/>
<circle cx="158.85" cy="144.3" r="2.45" fill="url(#gy)"/>
<circle cx="164.27" cy="144.3" r="2.45" fill="url(#gy)"/>
<circle cx="169.68" cy="144.3" r="2.45" fill="url(#gy)"/>
<circle cx="175.1" cy="144.3" r="2.45" fill="url(#gy)"/>
<circle cx="180.51" cy="144.3" r="2.45" fill="url(#gy)"/>
<circle cx="185.93" cy="144.3" r="2.45" fill="url(#gy)"/>
<circle cx="191.34" cy="144.3" r="2.45" fill="url(#gy)"/>
<circle cx="196.76" cy="144.3" r="2.45" fill="url(#gy)"/>
<circle cx="202.17" cy="144.3" r="2.45" fill="url(#gy)"/>
<circle cx="207.59" cy="144.3" r="2.45" fill="url(#gy)"/>
<circle cx="213" cy="144.3" r="2.45" fill="url(#gy)"/>
<line x1="73.7" y1="91" x2="81.5" y2="98" stroke="#d81e1e" stroke-width="1.9" />
<circle cx="73.7" cy="91" r="3.4" fill="url(#gb)"/>
<circle cx="81.5" cy="98" r="3.4" fill="url(#gb)"/>
<line x1="40.6" y1="123.1" x2="49.9" y2="129.2" stroke="#d81e1e" stroke-width="1.9" />
<circle cx="40.6" cy="123.1" r="3.4" fill="url(#gb)"/>
<circle cx="49.9" cy="129.2" r="3.4" fill="url(#gb)"/>
<line x1="96" y1="126.4" x2="105.5" y2="120.8" stroke="#d81e1e" stroke-width="1.9" />
<circle cx="96" cy="126.4" r="3.4" fill="url(#gb)"/>
<circle cx="105.5" cy="120.8" r="3.4" fill="url(#gb)"/>
<path d="M76.4,89.5 C76.5,76 62,68.5 50.5,76.3" fill="none" stroke="#d2145a" stroke-width="2.7"/>
<path d="M46.6,78.6 L53.6,71.6 L54.8,80.3Z" fill="#d2145a"/>
<path d="M47.4,122.8 C46,110 32,104 22.3,111.2" fill="none" stroke="#d2145a" stroke-width="2.7"/>
<path d="M18.3,113.6 L25.2,106.5 L26.5,115.2Z" fill="#d2145a"/>
<text x="40.6" y="78.6" font-size="9.3" text-anchor="start" fill="#231f20" class="b" ><tspan font-size="9.3">e</tspan><tspan font-size="5.12" dy="-3.53">-</tspan></text>
<text x="11.9" y="113.2" font-size="9.3" text-anchor="start" fill="#231f20" class="b" ><tspan font-size="9.3">e</tspan><tspan font-size="5.12" dy="-3.53">-</tspan></text>
<path d="M178.7,130.4V126.4H211.6V130.4M195.5,126.4V118.2" fill="none" stroke="#111" stroke-width="0.9"/>
<path d="M215.2,114.6 C215,122 208,118.5 204.2,123.6" fill="none" stroke="#111" stroke-width="1.4"/>
<path d="M202.6,126 L203.2,121.4 L206.3,123.8Z" fill="#111"/>
<path d="M143.8,45.2 C131,45 131,38.5 118,37.6" fill="none" stroke="#111" stroke-width="1.45"/>
<path d="M114.3,37.4 L119.2,35.5 L118.9,39.6Z" fill="#111"/>
<path d="M158.3,73.2 C152.5,73 150.5,75.8 145.5,76.3" fill="none" stroke="#111" stroke-width="1.45"/>
<path d="M142,76.6 L146.6,74.2 L146.8,78.3Z" fill="#111"/>
<text x="140.7" y="36" font-size="7.3" text-anchor="start" fill="#231f20" class="b" textLength="65.4" lengthAdjust="spacingAndGlyphs"><tspan font-size="7.3">Edge MoS</tspan><tspan font-size="4.82" dy="1.97">2</tspan><tspan font-size="7.3" dy="-1.97"> T</tspan><tspan font-size="4.82" dy="1.97">S</tspan><tspan font-size="7.3" dy="-1.97"> sites</tspan></text>
<text x="159.1" y="68.9" font-size="7.3" text-anchor="start" fill="#231f20" class="b" textLength="66.2" lengthAdjust="spacingAndGlyphs"><tspan font-size="7.3">Edge MoS</tspan><tspan font-size="4.82" dy="1.97">2</tspan><tspan font-size="7.3" dy="-1.97"> T</tspan><tspan font-size="4.82" dy="1.97">M</tspan><tspan font-size="7.3" dy="-1.97"> sites</tspan></text>
<text x="176.2" y="103.7" font-size="7.3" text-anchor="start" fill="#231f20" class="b" textLength="50.8" lengthAdjust="spacingAndGlyphs"><tspan font-size="7.3">in −plane MoS</tspan><tspan font-size="4.82" dy="1.97">2</tspan></text>
<text x="201.5" y="112.7" font-size="7.3" text-anchor="middle" fill="#231f20" class="b" >H sites</text>
</g>
<g id="pb">
<path d="M269.5,135.7C269.53,133.63 269.6,127.98 269.7,123.3C269.8,118.62 269.92,111.67 270.1,107.6C270.28,103.53 270.48,101.03 270.8,98.9C271.12,96.77 271.53,95.68 272,94.8C272.47,93.92 272.9,93.53 273.6,93.6C274.3,93.67 275.38,94.85 276.2,95.2C277.02,95.55 277.87,94.8 278.5,95.7C279.13,96.6 279.5,98.33 280,100.6C280.5,102.87 280.87,106.1 281.5,109.3C282.13,112.5 282.83,116.73 283.8,119.8C284.77,122.87 285.98,125.43 287.3,127.7C288.62,129.97 290.35,132.02 291.7,133.4C293.05,134.78 294.78,135.57 295.4,136" fill="none" stroke="#000" stroke-width="2.1" stroke-linejoin="round" stroke-linecap="round" />
<path d="M300.7,136C300.8,133.3 301.12,126.87 301.3,119.8C301.48,112.73 301.6,101.17 301.8,93.6C302,86.03 302.22,78.75 302.5,74.4C302.78,70.05 303.03,68.95 303.5,67.5C303.97,66.05 304.37,65.7 305.3,65.7C306.23,65.7 307.92,66.9 309.1,67.5C310.28,68.1 311.58,67.85 312.4,69.3C313.22,70.75 313.53,73.02 314,76.2C314.47,79.38 314.7,84.03 315.2,88.4C315.7,92.77 316.27,98.03 317,102.4C317.73,106.77 318.58,111.12 319.6,114.6C320.62,118.08 321.78,120.8 323.1,123.3C324.42,125.8 326.12,127.55 327.5,129.6C328.88,131.65 330.75,134.6 331.4,135.6" fill="none" stroke="#c8161d" stroke-width="2.1" stroke-linejoin="round" stroke-linecap="round" />
<path d="M331.8,136C331.88,126.92 332.08,95.12 332.3,81.5C332.52,67.88 332.65,60.73 333.1,54.3C333.55,47.87 334.22,45.25 335,42.9C335.78,40.55 336.88,40.2 337.8,40.2C338.72,40.2 339.78,41 340.5,42.9C341.22,44.8 341.52,46.98 342.1,51.6C342.68,56.22 343.23,63.82 344,70.6C344.77,77.38 345.57,85.52 346.7,92.3C347.83,99.08 349.45,106.1 350.8,111.3C352.15,116.5 353.08,119.43 354.8,123.5C356.52,127.57 360.05,133.67 361.1,135.7" fill="none" stroke="#1d20ff" stroke-width="2.1" stroke-linejoin="round" stroke-linecap="round" />
<path d="M363,136C363.13,126.92 363.48,96.92 363.8,81.5C364.12,66.08 364.45,51.88 364.9,43.5C365.35,35.12 365.68,33.92 366.5,31.2C367.32,28.48 368.72,27.65 369.8,27.2C370.88,26.75 372.02,27.15 373,28.5C373.98,29.85 374.97,31.45 375.7,35.3C376.43,39.15 376.8,45.27 377.4,51.6C378,57.93 378.53,66.07 379.3,73.3C380.07,80.53 380.88,89.13 382,95C383.12,100.87 384.57,104.57 386,108.5C387.43,112.43 388.73,115.35 390.6,118.6C392.47,121.85 395.3,125.15 397.2,128C399.1,130.85 401.2,134.42 402,135.7" fill="none" stroke="#f01bf0" stroke-width="2.1" stroke-linejoin="round" stroke-linecap="round" />
<path d="M402.1,136C402.15,126.92 402.22,97.37 402.4,81.5C402.58,65.63 402.85,50.3 403.2,40.8C403.55,31.3 403.92,28.5 404.5,24.5C405.08,20.5 405.78,18.38 406.7,16.8C407.62,15.22 408.95,14.85 410,15C411.05,15.15 412.2,15.67 413,17.7C413.8,19.73 414.18,22.45 414.8,27.2C415.42,31.95 416.02,39.4 416.7,46.2C417.38,53 417.98,60.75 418.9,68C419.82,75.25 420.83,83.13 422.2,89.7C423.57,96.27 425.17,102.18 427.1,107.4C429.03,112.62 431.55,117.15 433.8,121C436.05,124.85 438.75,128.05 440.6,130.5C442.45,132.95 444.18,134.83 444.9,135.7" fill="none" stroke="#2e6b12" stroke-width="2.1" stroke-linejoin="round" stroke-linecap="round" />
<line x1="266.5" y1="124.2" x2="269.8" y2="124.2" stroke="#000" stroke-width="1.2" />
<rect x="266.5" y="133.2" width="4" height="3" fill="#000" stroke="none" stroke-width="1" />
<rect x="266.2" y="5.8" width="182.6" height="130.6" fill="none" stroke="#000" stroke-width="1.5" />
<line x1="267" y1="23.27" x2="269.8" y2="23.27" stroke="#000" stroke-width="1.2" />
<line x1="267" y1="73.21" x2="269.8" y2="73.21" stroke="#000" stroke-width="1.2" />
<line x1="267" y1="123.15" x2="269.8" y2="123.15" stroke="#000" stroke-width="1.2" />
<line x1="320.55" y1="136" x2="320.55" y2="133.2" stroke="#000" stroke-width="1.2" />
<line x1="373.4" y1="136" x2="373.4" y2="133.2" stroke="#000" stroke-width="1.2" />
<line x1="426.25" y1="136" x2="426.25" y2="133.2" stroke="#000" stroke-width="1.2" />
<text x="260.9" y="26.07" font-size="9.0" text-anchor="end" fill="#231f20" class="b" >-65</text>
<text x="260.9" y="76.01" font-size="9.0" text-anchor="end" fill="#231f20" class="b" >-36</text>
<text x="260.9" y="125.95" font-size="9.0" text-anchor="end" fill="#231f20" class="b" >-7</text>
<text x="266.2" y="147.7" font-size="8.6" text-anchor="middle" fill="#231f20" class="b" >0</text>
<text x="320.55" y="147.7" font-size="8.6" text-anchor="middle" fill="#231f20" class="b" >500</text>
<text x="373.4" y="147.7" font-size="8.6" text-anchor="middle" fill="#231f20" class="b" >1000</text>
<text x="426.25" y="147.7" font-size="8.6" text-anchor="middle" fill="#231f20" class="b" >1500</text>
<text x="357" y="158.2" font-size="8.6" text-anchor="middle" fill="#231f20" class="b" >Time (sec)</text>
<text transform="translate(243.2 70.5) rotate(-90)" font-size="8.8" text-anchor="middle" fill="#231f20" class="b r" >Sensitivity (%)</text>
<text x="236.5" y="13.2" font-size="14.8" text-anchor="start" fill="#231f20" class="b" >b</text>
<text x="329.5" y="16.3" font-size="8.5" text-anchor="middle" fill="#231f20" class="b" >@ 150 °C</text>
<text x="280" y="90.8" font-size="8.8" text-anchor="middle" fill="#231f20" class="b" >0.1 %</text>
<text x="309.1" y="63.8" font-size="8.8" text-anchor="middle" fill="#231f20" class="b" >0.3 %</text>
<text x="338.4" y="36.8" font-size="8.8" text-anchor="middle" fill="#231f20" class="b" >0.5 %</text>
<text x="372.8" y="24" font-size="8.8" text-anchor="middle" fill="#231f20" class="b" >0.7 %</text>
<text x="411.7" y="13.5" font-size="8.8" text-anchor="middle" fill="#231f20" class="b" >1 %</text>
<text transform="translate(277.5 133.5) rotate(-90)" font-size="7.2" text-anchor="start" fill="#231f20" stroke="#231f20" stroke-width="0.35">S~ −24 %</text>
<text transform="translate(311.6 133.5) rotate(-90)" font-size="7.2" text-anchor="start" fill="#231f20" stroke="#231f20" stroke-width="0.35">S~ −40 %</text>
<text transform="translate(342.7 133.5) rotate(-90)" font-size="7.2" text-anchor="start" fill="#231f20" stroke="#231f20" stroke-width="0.35">S~ −54 %</text>
<text transform="translate(373.5 133.5) rotate(-90)" font-size="7.2" text-anchor="start" fill="#231f20" stroke="#231f20" stroke-width="0.35">S~ −62 %</text>
<text transform="translate(413.2 133.5) rotate(-90)" font-size="7.2" text-anchor="start" fill="#231f20" stroke="#231f20" stroke-width="0.35">S~ −69 %</text>
</g>
<g id="pc">
<rect x="491.5" y="4.7" width="47.7" height="130.5" fill="#feff24" stroke="none" stroke-width="1" />
<rect x="539.2" y="4.7" width="136.5" height="130.5" fill="#82fd2a" stroke="none" stroke-width="1" />
<line x1="541.9" y1="19.5" x2="541.9" y2="134" stroke="#000" stroke-width="1" stroke-dasharray="1.1 1.1"/>
<line x1="604.6" y1="10" x2="604.6" y2="125.5" stroke="#000" stroke-width="1" stroke-dasharray="1.1 1.1"/>
<line x1="541.8" y1="47.4" x2="604.6" y2="47.4" stroke="#000" stroke-width="0.8" />
<path d="M540.3,47.4 L544.2,45.7 L544.2,49.1Z" fill="#000"/>
<path d="M606.2,47.4 L602.2,45.6 L602.2,49.2Z" fill="#000"/>
<polyline points="491.8,128.6 492.21,128.6 492.63,128.6 493.04,128.59 493.46,128.59 493.87,128.59 494.29,128.59 494.7,128.58 495.11,128.58 495.53,128.58 495.94,128.57 496.36,128.57 496.77,128.57 497.19,128.56 497.6,128.56 498.01,128.55 498.43,128.55 498.84,128.55 499.26,128.54 499.67,128.54 500.08,128.53 500.5,128.53 500.91,128.52 501.33,128.52 501.74,128.51 502.16,128.51 502.57,128.5 502.98,128.49 503.4,128.49 503.81,128.48 504.23,128.48 504.64,128.47 505.05,128.47 505.47,128.46 505.88,128.45 506.3,128.45 506.71,128.44 507.13,128.43 507.54,128.43 507.95,128.42 508.37,128.41 508.78,128.41 509.2,128.4 509.61,128.39 510.02,128.39 510.44,128.38 510.85,128.37 511.27,128.37 511.68,128.36 512.1,128.35 512.51,128.34 512.92,128.34 513.34,128.33 513.75,128.32 514.17,128.31 514.58,128.31 514.99,128.3 515.41,128.29 515.82,128.29 516.24,128.28 516.65,128.27 517.07,128.27 517.49,128.26 517.9,128.25 518.32,128.25 518.74,128.24 519.16,128.24 519.57,128.23 519.99,128.22 520.41,128.22 520.83,128.21 521.25,128.21 521.66,128.2 522.08,128.19 522.5,128.19 522.92,128.18 523.34,128.17 523.76,128.17 524.18,128.16 524.59,128.15 525.01,128.14 525.43,128.14 525.85,128.13 526.27,128.12 526.68,128.11 527.1,128.1 527.52,128.09 527.94,128.08 528.35,128.07 528.77,128.06 529.19,128.05 529.6,128.04 530.02,128.02 530.43,128.01 530.84,128 531.26,127.98 531.67,127.97 532.08,127.95 532.5,127.94 532.91,127.92 533.32,127.9 533.73,127.88 534.14,127.86 534.55,127.84 534.96,127.82 535.36,127.8 535.77,127.78 536.17,127.75 536.58,127.73 536.98,127.7 537.39,127.68 537.79,127.65 538.19,127.62 538.59,127.59 539.05,127.51 539.51,127.37 539.87,127.21 540.06,127.02 540.19,126.79 540.3,126.5 540.4,126.16 540.49,125.78 540.56,125.37 540.63,124.93 540.69,124.47 540.75,124 540.8,123.52 540.85,123.03 540.91,122.56 540.97,122.1 541.04,121.65 541.11,121.24 541.19,120.83 541.27,120.42 541.35,120.02 541.44,119.61 541.52,119.2 541.6,118.8 541.68,118.39 541.76,117.99 541.85,117.58 541.93,117.17 542.01,116.77 542.09,116.36 542.17,115.96 542.25,115.55 542.33,115.14 542.4,114.73 542.48,114.33 542.56,113.92 542.63,113.51 542.71,113.11 542.78,112.7 542.86,112.29 542.94,111.88 543.02,111.48 543.1,111.07 543.19,110.67 543.27,110.26 543.36,109.86 543.45,109.45 543.54,109.05 543.63,108.64 543.72,108.24 543.82,107.84 543.91,107.43 544.01,107.03 544.11,106.63 544.21,106.22 544.31,105.82 544.41,105.42 544.52,105.02 544.62,104.62 544.73,104.22 544.84,103.82 544.95,103.42 545.06,103.03 545.18,102.63 545.29,102.23 545.41,101.83 545.53,101.44 545.66,101.04 545.78,100.65 545.91,100.25 546.03,99.86 546.16,99.46 546.29,99.07 546.42,98.68 546.56,98.28 546.69,97.89 546.83,97.5 546.97,97.11 547.1,96.72 547.24,96.33 547.38,95.94 547.53,95.55 547.67,95.16 547.81,94.77 547.96,94.38 548.1,93.99 548.25,93.61 548.4,93.22 548.55,92.84 548.7,92.45 548.86,92.07 549.01,91.69 549.17,91.3 549.33,90.92 549.5,90.54 549.66,90.16 549.82,89.78 549.99,89.4 550.16,89.02 550.33,88.64 550.5,88.26 550.67,87.88 550.84,87.51 551.01,87.13 551.18,86.75 551.36,86.38 551.54,86 551.72,85.63 551.91,85.26 552.1,84.89 552.29,84.52 552.48,84.16 552.68,83.79 552.87,83.42 553.07,83.06 553.26,82.69 553.45,82.32 553.64,81.95 553.83,81.58 554.01,81.21 554.18,80.84 554.35,80.46 554.51,80.08 554.66,79.7 554.82,79.31 554.96,78.93 555.11,78.54 555.25,78.15 555.39,77.76 555.52,77.36 555.66,76.97 555.78,76.58 555.91,76.18 556.04,75.79 556.15,75.39 556.26,74.98 556.36,74.58 556.46,74.17 556.55,73.76 556.65,73.35 556.75,72.94 556.86,72.54 556.97,72.15 557.09,71.76 557.23,71.38 557.38,71.01 557.56,70.65 557.78,70.3 558.01,69.96 558.26,69.62 558.51,69.29 558.77,68.95 559.03,68.62 559.29,68.28 559.52,67.94 559.74,67.59 559.94,67.23 560.11,66.86 560.28,66.49 560.44,66.11 560.59,65.72 560.74,65.33 560.88,64.94 561.03,64.55 561.17,64.16 561.31,63.77 561.45,63.37 561.6,62.98 561.75,62.6 561.91,62.21 562.07,61.84 562.24,61.46 562.41,61.08 562.58,60.7 562.76,60.32 562.93,59.95 563.11,59.57 563.29,59.19 563.47,58.82 563.66,58.45 563.84,58.08 564.03,57.71 564.23,57.34 564.42,56.98 564.62,56.61 564.82,56.25 565.03,55.9 565.23,55.54 565.45,55.19 565.66,54.84 565.89,54.49 566.11,54.15 566.34,53.8 566.58,53.46 566.82,53.12 567.06,52.78 567.3,52.45 567.55,52.11 567.8,51.78 568.05,51.45 568.3,51.12 568.56,50.79 568.81,50.46 569.07,50.14 569.33,49.81 569.59,49.49 569.85,49.17 570.12,48.85 570.39,48.54 570.66,48.23 570.93,47.92 571.21,47.61 571.49,47.3 571.77,47 572.05,46.69 572.34,46.39 572.62,46.09 572.9,45.78 573.19,45.48 573.47,45.18 573.75,44.88 574.04,44.57 574.32,44.27 574.61,43.97 574.9,43.67 575.19,43.37 575.48,43.07 575.77,42.78 576.06,42.48 576.36,42.19 576.66,41.91 576.96,41.63 577.26,41.35 577.57,41.07 577.88,40.8 578.19,40.54 578.51,40.27 578.83,40.01 579.15,39.76 579.48,39.51 579.81,39.25 580.14,39.01 580.47,38.76 580.81,38.52 581.14,38.27 581.48,38.03 581.82,37.79 582.16,37.56 582.51,37.32 582.85,37.09 583.2,36.85 583.54,36.62 583.88,36.39 584.23,36.16 584.57,35.92 584.92,35.69 585.26,35.46 585.61,35.23 585.95,35 586.29,34.77 586.64,34.54 586.98,34.31 587.33,34.08 587.67,33.85 588.02,33.63 588.37,33.4 588.71,33.17 589.06,32.95 589.41,32.73 589.76,32.5 590.11,32.28 590.46,32.06 590.81,31.84 591.16,31.62 591.51,31.4 591.86,31.18 592.22,30.96 592.57,30.74 592.92,30.52 593.28,30.31 593.63,30.09 593.98,29.87 594.34,29.66 594.69,29.44 595.05,29.23 595.4,29.02 595.76,28.81 596.11,28.59 596.47,28.38 596.82,28.17 597.18,27.95 597.53,27.74 597.89,27.52 598.24,27.3 598.6,27.09 598.96,26.87 599.31,26.66 599.67,26.44 600.03,26.23 600.39,26.02 600.74,25.81 601.1,25.6 601.47,25.4 601.83,25.2 602.19,25 602.56,24.8 602.92,24.61 603.29,24.43 603.66,24.24 604.03,24.06 604.4,23.89 604.77,23.72 605.15,23.56 605.53,23.39 605.91,23.23 606.29,23.07 606.67,22.91 607.05,22.75 607.44,22.59 607.82,22.44 608.21,22.29 608.6,22.14 608.99,21.99 609.38,21.85 609.77,21.7 610.16,21.56 610.55,21.42 610.94,21.28 611.34,21.15 611.73,21.02 612.13,20.88 612.52,20.76 612.92,20.63 613.31,20.5 613.71,20.38 614.1,20.26 614.5,20.15 614.9,20.03 615.29,19.92 615.69,19.8 616.09,19.69 616.48,19.58 616.88,19.47 617.28,19.37 617.68,19.26 618.08,19.15 618.48,19.05 618.89,18.94 619.29,18.84 619.69,18.74 620.09,18.64 620.5,18.54 620.9,18.44 621.31,18.35 621.71,18.25 622.12,18.16 622.52,18.07 622.93,17.98 623.33,17.89 623.74,17.8 624.14,17.72 624.55,17.63 624.96,17.55 625.36,17.47 625.77,17.39 626.18,17.32 626.59,17.24 626.99,17.17 627.4,17.1 627.81,17.03 628.21,16.97 628.62,16.9 629.03,16.83 629.44,16.77 629.85,16.7 630.25,16.64 630.66,16.58 631.07,16.52 631.48,16.45 631.89,16.39 632.3,16.33 632.71,16.27 633.12,16.21 633.53,16.16 633.94,16.1 634.35,16.04 634.77,15.99 635.18,15.93 635.59,15.88 636,15.82 636.41,15.77 636.82,15.72 637.23,15.67 637.65,15.62 638.06,15.57 638.47,15.52 638.88,15.48 639.3,15.43 639.71,15.38 640.12,15.34 640.53,15.3 640.95,15.26 641.36,15.21 641.77,15.17 642.18,15.14 642.6,15.1 643.01,15.06 643.42,15.03 643.83,14.99 644.25,14.96 644.66,14.93 645.07,14.89 645.48,14.86 645.9,14.83 646.31,14.81 646.72,14.78 647.14,14.75 647.55,14.72 647.96,14.69 648.37,14.66 648.79,14.64 649.2,14.61 649.61,14.58 650.03,14.56 650.44,14.53 650.86,14.51 651.27,14.48 651.68,14.46 652.1,14.44 652.51,14.41 652.92,14.39 653.34,14.37 653.75,14.35 654.17,14.33 654.58,14.31 654.99,14.29 655.41,14.27 655.82,14.25 656.24,14.23 656.65,14.22 657.06,14.2 657.48,14.18 657.89,14.17 658.31,14.15 658.72,14.14 659.13,14.13 659.55,14.11 659.96,14.1 660.38,14.09 660.79,14.08 661.2,14.07 661.62,14.05 662.03,14.04 662.45,14.03 662.86,14.02 663.27,14.01 663.69,14 664.1,13.99 664.52,13.98 664.93,13.97 665.34,13.96 665.76,13.95 666.17,13.94 666.59,13.93 667,13.92 667.41,13.91 667.83,13.9 668.24,13.89 668.66,13.88 669.07,13.87 669.49,13.87 669.9,13.86 670.31,13.85 670.73,13.84 671.14,13.84 671.56,13.83 671.97,13.83 672.39,13.82 672.8,13.82 673.21,13.81 673.63,13.81 674.04,13.81 674.46,13.8 674.87,13.8 675.29,13.8 675.7,13.8" fill="none" stroke="#a81824" stroke-width="3.7" stroke-linejoin="round" stroke-linecap="round"/>
<polyline points="491.8,128.6 492.21,128.6 492.63,128.6 493.04,128.59 493.46,128.59 493.87,128.59 494.29,128.59 494.7,128.58 495.11,128.58 495.53,128.58 495.94,128.57 496.36,128.57 496.77,128.57 497.19,128.56 497.6,128.56 498.01,128.55 498.43,128.55 498.84,128.55 499.26,128.54 499.67,128.54 500.08,128.53 500.5,128.53 500.91,128.52 501.33,128.52 501.74,128.51 502.16,128.51 502.57,128.5 502.98,128.49 503.4,128.49 503.81,128.48 504.23,128.48 504.64,128.47 505.05,128.47 505.47,128.46 505.88,128.45 506.3,128.45 506.71,128.44 507.13,128.43 507.54,128.43 507.95,128.42 508.37,128.41 508.78,128.41 509.2,128.4 509.61,128.39 510.02,128.39 510.44,128.38 510.85,128.37 511.27,128.37 511.68,128.36 512.1,128.35 512.51,128.34 512.92,128.34 513.34,128.33 513.75,128.32 514.17,128.31 514.58,128.31 514.99,128.3 515.41,128.29 515.82,128.29 516.24,128.28 516.65,128.27 517.07,128.27 517.49,128.26 517.9,128.25 518.32,128.25 518.74,128.24 519.16,128.24 519.57,128.23 519.99,128.22 520.41,128.22 520.83,128.21 521.25,128.21 521.66,128.2 522.08,128.19 522.5,128.19 522.92,128.18 523.34,128.17 523.76,128.17 524.18,128.16 524.59,128.15 525.01,128.14 525.43,128.14 525.85,128.13 526.27,128.12 526.68,128.11 527.1,128.1 527.52,128.09 527.94,128.08 528.35,128.07 528.77,128.06 529.19,128.05 529.6,128.04 530.02,128.02 530.43,128.01 530.84,128 531.26,127.98 531.67,127.97 532.08,127.95 532.5,127.94 532.91,127.92 533.32,127.9 533.73,127.88 534.14,127.86 534.55,127.84 534.96,127.82 535.36,127.8 535.77,127.78 536.17,127.75 536.58,127.73 536.98,127.7 537.39,127.68 537.79,127.65 538.19,127.62 538.59,127.59 539.05,127.51 539.51,127.37 539.87,127.21 540.06,127.02 540.19,126.79 540.3,126.5 540.4,126.16 540.49,125.78 540.56,125.37 540.63,124.93 540.69,124.47 540.75,124 540.8,123.52 540.85,123.03 540.91,122.56 540.97,122.1 541.04,121.65 541.11,121.24 541.19,120.83 541.27,120.42 541.35,120.02 541.44,119.61 541.52,119.2 541.6,118.8 541.68,118.39 541.76,117.99 541.85,117.58 541.93,117.17 542.01,116.77 542.09,116.36 542.17,115.96 542.25,115.55 542.33,115.14 542.4,114.73 542.48,114.33 542.56,113.92 542.63,113.51 542.71,113.11 542.78,112.7 542.86,112.29 542.94,111.88 543.02,111.48 543.1,111.07 543.19,110.67 543.27,110.26 543.36,109.86 543.45,109.45 543.54,109.05 543.63,108.64 543.72,108.24 543.82,107.84 543.91,107.43 544.01,107.03 544.11,106.63 544.21,106.22 544.31,105.82 544.41,105.42 544.52,105.02 544.62,104.62 544.73,104.22 544.84,103.82 544.95,103.42 545.06,103.03 545.18,102.63 545.29,102.23 545.41,101.83 545.53,101.44 545.66,101.04 545.78,100.65 545.91,100.25 546.03,99.86 546.16,99.46 546.29,99.07 546.42,98.68 546.56,98.28 546.69,97.89 546.83,97.5 546.97,97.11 547.1,96.72 547.24,96.33 547.38,95.94 547.53,95.55 547.67,95.16 547.81,94.77 547.96,94.38 548.1,93.99 548.25,93.61 548.4,93.22 548.55,92.84 548.7,92.45 548.86,92.07 549.01,91.69 549.17,91.3 549.33,90.92 549.5,90.54 549.66,90.16 549.82,89.78 549.99,89.4 550.16,89.02 550.33,88.64 550.5,88.26 550.67,87.88 550.84,87.51 551.01,87.13 551.18,86.75 551.36,86.38 551.54,86 551.72,85.63 551.91,85.26 552.1,84.89 552.29,84.52 552.48,84.16 552.68,83.79 552.87,83.42 553.07,83.06 553.26,82.69 553.45,82.32 553.64,81.95 553.83,81.58 554.01,81.21 554.18,80.84 554.35,80.46 554.51,80.08 554.66,79.7 554.82,79.31 554.96,78.93 555.11,78.54 555.25,78.15 555.39,77.76 555.52,77.36 555.66,76.97 555.78,76.58 555.91,76.18 556.04,75.79 556.15,75.39 556.26,74.98 556.36,74.58 556.46,74.17 556.55,73.76 556.65,73.35 556.75,72.94 556.86,72.54 556.97,72.15 557.09,71.76 557.23,71.38 557.38,71.01 557.56,70.65 557.78,70.3 558.01,69.96 558.26,69.62 558.51,69.29 558.77,68.95 559.03,68.62 559.29,68.28 559.52,67.94 559.74,67.59 559.94,67.23 560.11,66.86 560.28,66.49 560.44,66.11 560.59,65.72 560.74,65.33 560.88,64.94 561.03,64.55 561.17,64.16 561.31,63.77 561.45,63.37 561.6,62.98 561.75,62.6 561.91,62.21 562.07,61.84 562.24,61.46 562.41,61.08 562.58,60.7 562.76,60.32 562.93,59.95 563.11,59.57 563.29,59.19 563.47,58.82 563.66,58.45 563.84,58.08 564.03,57.71 564.23,57.34 564.42,56.98 564.62,56.61 564.82,56.25 565.03,55.9 565.23,55.54 565.45,55.19 565.66,54.84 565.89,54.49 566.11,54.15 566.34,53.8 566.58,53.46 566.82,53.12 567.06,52.78 567.3,52.45 567.55,52.11 567.8,51.78 568.05,51.45 568.3,51.12 568.56,50.79 568.81,50.46 569.07,50.14 569.33,49.81 569.59,49.49 569.85,49.17 570.12,48.85 570.39,48.54 570.66,48.23 570.93,47.92 571.21,47.61 571.49,47.3 571.77,47 572.05,46.69 572.34,46.39 572.62,46.09 572.9,45.78 573.19,45.48 573.47,45.18 573.75,44.88 574.04,44.57 574.32,44.27 574.61,43.97 574.9,43.67 575.19,43.37 575.48,43.07 575.77,42.78 576.06,42.48 576.36,42.19 576.66,41.91 576.96,41.63 577.26,41.35 577.57,41.07 577.88,40.8 578.19,40.54 578.51,40.27 578.83,40.01 579.15,39.76 579.48,39.51 579.81,39.25 580.14,39.01 580.47,38.76 580.81,38.52 581.14,38.27 581.48,38.03 581.82,37.79 582.16,37.56 582.51,37.32 582.85,37.09 583.2,36.85 583.54,36.62 583.88,36.39 584.23,36.16 584.57,35.92 584.92,35.69 585.26,35.46 585.61,35.23 585.95,35 586.29,34.77 586.64,34.54 586.98,34.31 587.33,34.08 587.67,33.85 588.02,33.63 588.37,33.4 588.71,33.17 589.06,32.95 589.41,32.73 589.76,32.5 590.11,32.28 590.46,32.06 590.81,31.84 591.16,31.62 591.51,31.4 591.86,31.18 592.22,30.96 592.57,30.74 592.92,30.52 593.28,30.31 593.63,30.09 593.98,29.87 594.34,29.66 594.69,29.44 595.05,29.23 595.4,29.02 595.76,28.81 596.11,28.59 596.47,28.38 596.82,28.17 597.18,27.95 597.53,27.74 597.89,27.52 598.24,27.3 598.6,27.09 598.96,26.87 599.31,26.66 599.67,26.44 600.03,26.23 600.39,26.02 600.74,25.81 601.1,25.6 601.47,25.4 601.83,25.2 602.19,25 602.56,24.8 602.92,24.61 603.29,24.43 603.66,24.24 604.03,24.06 604.4,23.89 604.77,23.72 605.15,23.56 605.53,23.39 605.91,23.23 606.29,23.07 606.67,22.91 607.05,22.75 607.44,22.59 607.82,22.44 608.21,22.29 608.6,22.14 608.99,21.99 609.38,21.85 609.77,21.7 610.16,21.56 610.55,21.42 610.94,21.28 611.34,21.15 611.73,21.02 612.13,20.88 612.52,20.76 612.92,20.63 613.31,20.5 613.71,20.38 614.1,20.26 614.5,20.15 614.9,20.03 615.29,19.92 615.69,19.8 616.09,19.69 616.48,19.58 616.88,19.47 617.28,19.37 617.68,19.26 618.08,19.15 618.48,19.05 618.89,18.94 619.29,18.84 619.69,18.74 620.09,18.64 620.5,18.54 620.9,18.44 621.31,18.35 621.71,18.25 622.12,18.16 622.52,18.07 622.93,17.98 623.33,17.89 623.74,17.8 624.14,17.72 624.55,17.63 624.96,17.55 625.36,17.47 625.77,17.39 626.18,17.32 626.59,17.24 626.99,17.17 627.4,17.1 627.81,17.03 628.21,16.97 628.62,16.9 629.03,16.83 629.44,16.77 629.85,16.7 630.25,16.64 630.66,16.58 631.07,16.52 631.48,16.45 631.89,16.39 632.3,16.33 632.71,16.27 633.12,16.21 633.53,16.16 633.94,16.1 634.35,16.04 634.77,15.99 635.18,15.93 635.59,15.88 636,15.82 636.41,15.77 636.82,15.72 637.23,15.67 637.65,15.62 638.06,15.57 638.47,15.52 638.88,15.48 639.3,15.43 639.71,15.38 640.12,15.34 640.53,15.3 640.95,15.26 641.36,15.21 641.77,15.17 642.18,15.14 642.6,15.1 643.01,15.06 643.42,15.03 643.83,14.99 644.25,14.96 644.66,14.93 645.07,14.89 645.48,14.86 645.9,14.83 646.31,14.81 646.72,14.78 647.14,14.75 647.55,14.72 647.96,14.69 648.37,14.66 648.79,14.64 649.2,14.61 649.61,14.58 650.03,14.56 650.44,14.53 650.86,14.51 651.27,14.48 651.68,14.46 652.1,14.44 652.51,14.41 652.92,14.39 653.34,14.37 653.75,14.35 654.17,14.33 654.58,14.31 654.99,14.29 655.41,14.27 655.82,14.25 656.24,14.23 656.65,14.22 657.06,14.2 657.48,14.18 657.89,14.17 658.31,14.15 658.72,14.14 659.13,14.13 659.55,14.11 659.96,14.1 660.38,14.09 660.79,14.08 661.2,14.07 661.62,14.05 662.03,14.04 662.45,14.03 662.86,14.02 663.27,14.01 663.69,14 664.1,13.99 664.52,13.98 664.93,13.97 665.34,13.96 665.76,13.95 666.17,13.94 666.59,13.93 667,13.92 667.41,13.91 667.83,13.9 668.24,13.89 668.66,13.88 669.07,13.87 669.49,13.87 669.9,13.86 670.31,13.85 670.73,13.84 671.14,13.84 671.56,13.83 671.97,13.83 672.39,13.82 672.8,13.82 673.21,13.81 673.63,13.81 674.04,13.81 674.46,13.8 674.87,13.8 675.29,13.8 675.7,13.8" fill="none" stroke="#d8202f" stroke-width="2.6" stroke-linejoin="round" stroke-linecap="round"/>
<circle cx="540.3" cy="126.24" r="1.55" fill="#e23a48" stroke="#98121e" stroke-width="0.55"/>
<circle cx="541.25" cy="120.54" r="1.55" fill="#e23a48" stroke="#98121e" stroke-width="0.55"/>
<circle cx="542.2" cy="115.8" r="1.55" fill="#e23a48" stroke="#98121e" stroke-width="0.55"/>
<circle cx="543.15" cy="110.84" r="1.55" fill="#e23a48" stroke="#98121e" stroke-width="0.55"/>
<circle cx="544.1" cy="106.66" r="1.55" fill="#e23a48" stroke="#98121e" stroke-width="0.55"/>
<circle cx="545.05" cy="103.08" r="1.55" fill="#e23a48" stroke="#98121e" stroke-width="0.55"/>
<circle cx="546" cy="99.96" r="1.55" fill="#e23a48" stroke="#98121e" stroke-width="0.55"/>
<circle cx="546.95" cy="97.14" r="1.55" fill="#e23a48" stroke="#98121e" stroke-width="0.55"/>
<circle cx="547.9" cy="94.53" r="1.55" fill="#e23a48" stroke="#98121e" stroke-width="0.55"/>
<circle cx="548.85" cy="92.09" r="1.55" fill="#e23a48" stroke="#98121e" stroke-width="0.55"/>
<circle cx="549.8" cy="89.83" r="1.55" fill="#e23a48" stroke="#98121e" stroke-width="0.55"/>
<circle cx="550.75" cy="87.7" r="1.55" fill="#e23a48" stroke="#98121e" stroke-width="0.55"/>
<circle cx="551.7" cy="85.67" r="1.55" fill="#e23a48" stroke="#98121e" stroke-width="0.55"/>
<circle cx="552.65" cy="83.85" r="1.55" fill="#e23a48" stroke="#98121e" stroke-width="0.55"/>
<circle cx="553.6" cy="82.05" r="1.55" fill="#e23a48" stroke="#98121e" stroke-width="0.55"/>
<circle cx="554.55" cy="79.98" r="1.55" fill="#e23a48" stroke="#98121e" stroke-width="0.55"/>
<circle cx="555.5" cy="77.43" r="1.55" fill="#e23a48" stroke="#98121e" stroke-width="0.55"/>
<circle cx="556.45" cy="74.22" r="1.55" fill="#e23a48" stroke="#98121e" stroke-width="0.55"/>
<circle cx="557.4" cy="70.98" r="1.55" fill="#e23a48" stroke="#98121e" stroke-width="0.55"/>
<circle cx="558.35" cy="69.46" r="1.55" fill="#e23a48" stroke="#98121e" stroke-width="0.55"/>
<circle cx="559.3" cy="68.26" r="1.55" fill="#e23a48" stroke="#98121e" stroke-width="0.55"/>
<circle cx="560.25" cy="66.56" r="1.55" fill="#e23a48" stroke="#98121e" stroke-width="0.55"/>
<circle cx="561.2" cy="64.05" r="1.55" fill="#e23a48" stroke="#98121e" stroke-width="0.55"/>
<circle cx="562.15" cy="61.66" r="1.55" fill="#e23a48" stroke="#98121e" stroke-width="0.55"/>
<circle cx="563.1" cy="59.6" r="1.55" fill="#e23a48" stroke="#98121e" stroke-width="0.55"/>
<circle cx="564.05" cy="57.67" r="1.55" fill="#e23a48" stroke="#98121e" stroke-width="0.55"/>
<circle cx="565" cy="55.94" r="1.55" fill="#e23a48" stroke="#98121e" stroke-width="0.55"/>
<circle cx="565.95" cy="54.4" r="1.55" fill="#e23a48" stroke="#98121e" stroke-width="0.55"/>
<circle cx="566.9" cy="53" r="1.55" fill="#e23a48" stroke="#98121e" stroke-width="0.55"/>
<circle cx="567.85" cy="51.7" r="1.55" fill="#e23a48" stroke="#98121e" stroke-width="0.55"/>
<circle cx="568.8" cy="50.48" r="1.55" fill="#e23a48" stroke="#98121e" stroke-width="0.55"/>
<circle cx="569.75" cy="49.29" r="1.55" fill="#e23a48" stroke="#98121e" stroke-width="0.55"/>
<circle cx="570.7" cy="48.18" r="1.55" fill="#e23a48" stroke="#98121e" stroke-width="0.55"/>
<circle cx="571.65" cy="47.13" r="1.55" fill="#e23a48" stroke="#98121e" stroke-width="0.55"/>
<circle cx="572.6" cy="46.11" r="1.55" fill="#e23a48" stroke="#98121e" stroke-width="0.55"/>
<circle cx="573.55" cy="45.09" r="1.55" fill="#e23a48" stroke="#98121e" stroke-width="0.55"/>
<circle cx="574.5" cy="44.09" r="1.55" fill="#e23a48" stroke="#98121e" stroke-width="0.55"/>
<circle cx="575.45" cy="43.1" r="1.55" fill="#e23a48" stroke="#98121e" stroke-width="0.55"/>
<circle cx="576.4" cy="42.16" r="1.55" fill="#e23a48" stroke="#98121e" stroke-width="0.55"/>
<circle cx="577.35" cy="41.27" r="1.55" fill="#e23a48" stroke="#98121e" stroke-width="0.55"/>
<circle cx="578.3" cy="40.45" r="1.55" fill="#e23a48" stroke="#98121e" stroke-width="0.55"/>
<circle cx="579.25" cy="39.68" r="1.55" fill="#e23a48" stroke="#98121e" stroke-width="0.55"/>
<circle cx="580.2" cy="38.96" r="1.55" fill="#e23a48" stroke="#98121e" stroke-width="0.55"/>
<circle cx="581.15" cy="38.27" r="1.55" fill="#e23a48" stroke="#98121e" stroke-width="0.55"/>
<circle cx="582.1" cy="37.6" r="1.55" fill="#e23a48" stroke="#98121e" stroke-width="0.55"/>
<circle cx="583.05" cy="36.95" r="1.55" fill="#e23a48" stroke="#98121e" stroke-width="0.55"/>
<circle cx="584" cy="36.31" r="1.55" fill="#e23a48" stroke="#98121e" stroke-width="0.55"/>
<circle cx="584.95" cy="35.67" r="1.55" fill="#e23a48" stroke="#98121e" stroke-width="0.55"/>
<circle cx="585.9" cy="35.03" r="1.55" fill="#e23a48" stroke="#98121e" stroke-width="0.55"/>
<circle cx="586.85" cy="34.4" r="1.55" fill="#e23a48" stroke="#98121e" stroke-width="0.55"/>
<circle cx="587.8" cy="33.77" r="1.55" fill="#e23a48" stroke="#98121e" stroke-width="0.55"/>
<circle cx="588.75" cy="33.15" r="1.55" fill="#e23a48" stroke="#98121e" stroke-width="0.55"/>
<circle cx="589.7" cy="32.54" r="1.55" fill="#e23a48" stroke="#98121e" stroke-width="0.55"/>
<circle cx="590.65" cy="31.94" r="1.55" fill="#e23a48" stroke="#98121e" stroke-width="0.55"/>
<circle cx="591.6" cy="31.34" r="1.55" fill="#e23a48" stroke="#98121e" stroke-width="0.55"/>
<circle cx="592.55" cy="30.75" r="1.55" fill="#e23a48" stroke="#98121e" stroke-width="0.55"/>
<circle cx="593.5" cy="30.17" r="1.55" fill="#e23a48" stroke="#98121e" stroke-width="0.55"/>
<circle cx="594.45" cy="29.59" r="1.55" fill="#e23a48" stroke="#98121e" stroke-width="0.55"/>
<circle cx="595.4" cy="29.02" r="1.55" fill="#e23a48" stroke="#98121e" stroke-width="0.55"/>
<circle cx="596.35" cy="28.45" r="1.55" fill="#e23a48" stroke="#98121e" stroke-width="0.55"/>
<circle cx="597.3" cy="27.88" r="1.55" fill="#e23a48" stroke="#98121e" stroke-width="0.55"/>
<circle cx="598.25" cy="27.3" r="1.55" fill="#e23a48" stroke="#98121e" stroke-width="0.55"/>
<circle cx="599.2" cy="26.73" r="1.55" fill="#e23a48" stroke="#98121e" stroke-width="0.55"/>
<path d="M552.5,47.3 C555,58 566,62.5 587,65" fill="none" stroke="#111" stroke-width="0.9"/>
<path d="M590,65.4 L584.4,63.1 L584.6,66.6Z" fill="#111"/>
<line x1="605.2" y1="24.6" x2="621.5" y2="30.3" stroke="#111" stroke-width="0.9" />
<path d="M625,31.5 L619.6,31.6 L620.8,28.2Z" fill="#111"/>
<line x1="524.2" y1="111.5" x2="536.5" y2="117" stroke="#111" stroke-width="0.9" />
<path d="M540.3,118.6 L534.6,118.4 L536,115.1Z" fill="#111"/>
<rect x="491.5" y="4.7" width="184.2" height="130.5" fill="none" stroke="#000" stroke-width="1.4" />
<line x1="492" y1="17" x2="495.2" y2="17" stroke="#000" stroke-width="1.2" />
<text x="485.8" y="20.2" font-size="8.8" text-anchor="end" fill="#231f20" class="b" >5.6</text>
<line x1="492" y1="40.04" x2="495.2" y2="40.04" stroke="#000" stroke-width="1.2" />
<text x="485.8" y="43.24" font-size="8.8" text-anchor="end" fill="#231f20" class="b" >4.8</text>
<line x1="492" y1="63.08" x2="495.2" y2="63.08" stroke="#000" stroke-width="1.2" />
<text x="485.8" y="66.28" font-size="8.8" text-anchor="end" fill="#231f20" class="b" >4.0</text>
<line x1="492" y1="86.12" x2="495.2" y2="86.12" stroke="#000" stroke-width="1.2" />
<text x="485.8" y="89.32" font-size="8.8" text-anchor="end" fill="#231f20" class="b" >3.2</text>
<line x1="492" y1="109.16" x2="495.2" y2="109.16" stroke="#000" stroke-width="1.2" />
<text x="485.8" y="112.36" font-size="8.8" text-anchor="end" fill="#231f20" class="b" >2.4</text>
<line x1="492" y1="132.2" x2="495.2" y2="132.2" stroke="#000" stroke-width="1.2" />
<text x="485.8" y="135.4" font-size="8.8" text-anchor="end" fill="#231f20" class="b" >1.6</text>
<line x1="528.6" y1="135" x2="528.6" y2="132" stroke="#000" stroke-width="1.2" />
<line x1="565.4" y1="135" x2="565.4" y2="132" stroke="#000" stroke-width="1.2" />
<line x1="602.2" y1="135" x2="602.2" y2="132" stroke="#000" stroke-width="1.2" />
<line x1="639" y1="135" x2="639" y2="132" stroke="#000" stroke-width="1.2" />
<text x="491.8" y="147.2" font-size="8.5" text-anchor="middle" fill="#231f20" class="b" >120</text>
<text x="528.6" y="147.2" font-size="8.5" text-anchor="middle" fill="#231f20" class="b" >140</text>
<text x="565.4" y="147.2" font-size="8.5" text-anchor="middle" fill="#231f20" class="b" >160</text>
<text x="602.2" y="147.2" font-size="8.5" text-anchor="middle" fill="#231f20" class="b" >180</text>
<text x="639" y="147.2" font-size="8.5" text-anchor="middle" fill="#231f20" class="b" >200</text>
<text x="676.6" y="147.2" font-size="8.5" text-anchor="middle" fill="#231f20" class="b" >220</text>
<text x="583.5" y="158.6" font-size="8.5" text-anchor="middle" fill="#231f20" class="b" >Time (sec)</text>
<text transform="translate(465.3 71) rotate(-90)" font-size="8.5" text-anchor="middle" fill="#231f20" class="b r" >Current (µA)</text>
<text x="457" y="13.2" font-size="14.8" text-anchor="start" fill="#231f20" class="b" >c</text>
<text x="499" y="19" font-size="8.8" text-anchor="start" fill="#231f20" class="b" ><tspan font-size="8.8">I</tspan><tspan font-size="5.81" dy="2.9">air</tspan><tspan font-size="8.8" dy="-2.9"> = 1.74 × 10</tspan><tspan font-size="5.81" dy="-3.34">-6</tspan><tspan font-size="8.8" dy="3.34"> A</tspan></text>
<text x="499.5" y="31.4" font-size="8.8" text-anchor="start" fill="#231f20" class="b" ><tspan font-size="8.8">I</tspan><tspan font-size="5.81" dy="2.9">gas</tspan><tspan font-size="8.8" dy="-2.9"> = 5.70 × 10</tspan><tspan font-size="5.81" dy="-3.34">-6</tspan><tspan font-size="8.8" dy="3.34"> A</tspan></text>
<line x1="497.3" y1="39.5" x2="512.5" y2="39.5" stroke="#d11b2d" stroke-width="1.1" />
<circle cx="504.8" cy="39.5" r="1.8" fill="#d11b2d" />
<text x="516" y="42.6" font-size="8.8" text-anchor="start" fill="#231f20" class="b" >150 °C</text>
<text x="511.8" y="108.5" font-size="8.5" text-anchor="start" fill="#231f20" class="b" ><tspan font-size="8.5">t</tspan><tspan font-size="5.61" dy="2.29">10</tspan></text>
<text x="626.5" y="36" font-size="8.5" text-anchor="start" fill="#231f20" class="b" ><tspan font-size="8.5">t</tspan><tspan font-size="5.61" dy="2.29">90</tspan></text>
<text x="586.5" y="78.5" font-size="8.5" text-anchor="middle" fill="#231f20" class="b" >32.90 s</text>
</g>
<g id="pd">
<clipPath id="cd"><rect x="6.9" y="176.2" width="92.9" height="125.5"/></clipPath>
<g clip-path="url(#cd)">
<rect x="6.9" y="176.2" width="92.9" height="125.5" fill="#f0532b" stroke="none" stroke-width="1" />
<path d="M58,191 L67.8,191 L68.2,205 L69.5,211 L67.2,218 L66.8,224 L68,229 L71.5,233.5 L72.5,242 L72,247 L75.5,252 L76,268 L74.5,279 L70,282.5 L51,282.5 L46.5,278 L45.5,266 L49,257 L49,251 L44,247 L41,242 L41,233 L44,228 L46.5,224 L46.5,219.5 L39.5,216 L39.5,210 L46,206 L57.5,204Z" fill="#b34d49" filter="url(#bl1)"/>
<path d="M47,212 L66,210 L68,236 L60,248 L55,262 L68,270 L60,277 L52,270 L53,250 L46,236Z" fill="#a2444c" opacity="0.5" filter="url(#bl2)"/>
<path d="M0,207 L57.3,199.3" fill="none" stroke="#f5772c" stroke-width="10.899999999999999" stroke-linecap="butt" stroke-linejoin="round" filter="url(#bl05)" opacity="0.9"/>
<path d="M0,235.6 L43.6,226" fill="none" stroke="#f5772c" stroke-width="10.5" stroke-linecap="butt" stroke-linejoin="round" filter="url(#bl05)" opacity="0.9"/>
<path d="M0,286 L48,252.6" fill="none" stroke="#f5772c" stroke-width="10.899999999999999" stroke-linecap="butt" stroke-linejoin="round" filter="url(#bl05)" opacity="0.9"/>
<path d="M64.7,274.6 L67.8,306" fill="none" stroke="#f5772c" stroke-width="12.600000000000001" stroke-linecap="butt" stroke-linejoin="round" filter="url(#bl05)" opacity="0.9"/>
<path d="M68.2,223.2 L80,219.6 Q83.5,218.3 85.5,215.3 L104,186" fill="none" stroke="#f5772c" stroke-width="9.3" stroke-linecap="butt" stroke-linejoin="round" filter="url(#bl05)" opacity="0.9"/>
<path d="M72.6,249.4 L83,249.4 Q86.5,249.6 89,251.6 L104,263" fill="none" stroke="#f5772c" stroke-width="9.9" stroke-linecap="butt" stroke-linejoin="round" filter="url(#bl05)" opacity="0.9"/>
<path d="M0,207 L57.3,199.3" fill="none" stroke="#f6e81c" stroke-width="8.7" stroke-linecap="butt" stroke-linejoin="round" filter="url(#bl05)"/>
<path d="M0,235.6 L43.6,226" fill="none" stroke="#f6e81c" stroke-width="8.3" stroke-linecap="butt" stroke-linejoin="round" filter="url(#bl05)"/>
<path d="M0,286 L48,252.6" fill="none" stroke="#f6e81c" stroke-width="8.7" stroke-linecap="butt" stroke-linejoin="round" filter="url(#bl05)"/>
<path d="M64.7,274.6 L67.8,306" fill="none" stroke="#f6e81c" stroke-width="10.4" stroke-linecap="butt" stroke-linejoin="round" filter="url(#bl05)"/>
<path d="M68.2,223.2 L80,219.6 Q83.5,218.3 85.5,215.3 L104,186" fill="none" stroke="#f6e81c" stroke-width="7.1" stroke-linecap="butt" stroke-linejoin="round" filter="url(#bl05)"/>
<path d="M72.6,249.4 L83,249.4 Q86.5,249.6 89,251.6 L104,263" fill="none" stroke="#f6e81c" stroke-width="7.7" stroke-linecap="butt" stroke-linejoin="round" filter="url(#bl05)"/>
</g>
<rect x="6.9" y="175.8" width="19.8" height="13.7" fill="#fff" stroke="none" stroke-width="1" />
<rect x="6.9" y="175.6" width="19.8" height="0.8" fill="#f9c0b0" stroke="none" stroke-width="1" />
<text x="8.2" y="187.8" font-size="14.8" text-anchor="start" fill="#231f20" class="b" >d</text>
<line x1="20.7" y1="294" x2="44.9" y2="294" stroke="#111" stroke-width="1.5" />
<text x="31.5" y="290" font-size="9" text-anchor="middle" fill="#111" class="b" >2 µm</text>
</g>
<g id="pe">
<radialGradient id="gye" cx="0.45" cy="0.35" r="0.8"><stop offset="0" stop-color="#ffffd0"/><stop offset="0.4" stop-color="#fdf24a"/><stop offset="0.85" stop-color="#f2de14"/><stop offset="1" stop-color="#e2c800"/></radialGradient>
<ellipse cx="111" cy="205.8" rx="5.5" ry="1.6" fill="#7a7a7a" filter="url(#bl1)"/>
<ellipse cx="118.4" cy="212.1" rx="5" ry="1.2" fill="#b5b5b5" filter="url(#bl1)"/>
<ellipse cx="139.9" cy="213.1" rx="5" ry="1.2" fill="#b5b5b5" filter="url(#bl1)"/>
<ellipse cx="160.3" cy="213.1" rx="5" ry="1.2" fill="#b5b5b5" filter="url(#bl1)"/>
<ellipse cx="182.8" cy="214.1" rx="5" ry="1.2" fill="#b5b5b5" filter="url(#bl1)"/>
<ellipse cx="205.3" cy="215.1" rx="5" ry="1.2" fill="#b5b5b5" filter="url(#bl1)"/>
<path d="M131.82,200.72L117.8,190.8M133.74,199.44L120.2,189.2M135.66,198.16L122.6,187.6M137.58,196.88L125,186M135,197.8L138.7,189.4M136.8,197.8L140.5,189.4M133.7,199.6L121.4,208M132.78,199.9L137.26,210.82M134.32,199.2L138.94,209.98M135.86,198.5L140.62,209.14M137.4,197.8L142.3,208.3M151.82,200.12L139.3,190.8M153.74,198.84L141.7,189.2M155.66,197.56L144.1,187.6M157.58,196.28L146.5,186M155,197.2L159.1,188.8M156.8,197.2L160.9,188.8M153.7,199L142.9,209M152.78,199.3L157.66,210.82M154.32,198.6L159.34,209.98M155.86,197.9L161.02,209.14M157.4,197.2L162.7,208.3M172.72,201.32L159.7,190.2M174.64,200.04L162.1,188.6M176.56,198.76L164.5,187M178.48,197.48L166.9,185.4M175.9,198.4L180.6,190.4M177.7,198.4L182.4,190.4M174.6,200.2L163.3,209M173.68,200.5L180.16,211.82M175.22,199.8L181.84,210.98M176.76,199.1L183.52,210.14M178.3,198.4L185.2,209.3M194.12,201.32L181.2,191.8M196.04,200.04L183.6,190.2M197.96,198.76L186,188.6M199.88,197.48L188.4,187M197.3,198.4L203.1,191.5M199.1,198.4L204.9,191.5M196,200.2L185.8,210M195.08,200.5L202.66,212.82M196.62,199.8L204.34,211.98M198.16,199.1L206.02,211.14M199.7,198.4L207.7,210.3" stroke="#2a2a2a" stroke-width="0.8" fill="none"/>
<circle cx="124.4" cy="205.6" r="3.45" fill="url(#gye)"/><circle cx="122.4" cy="207.05" r="3.45" fill="url(#gye)"/><circle cx="120.4" cy="208.5" r="3.45" fill="url(#gye)"/><circle cx="118.4" cy="209.95" r="3.45" fill="url(#gye)"/><circle cx="116.4" cy="211.4" r="3.45" fill="url(#gye)"/>
<circle cx="145.9" cy="206.6" r="3.45" fill="url(#gye)"/><circle cx="143.9" cy="208.05" r="3.45" fill="url(#gye)"/><circle cx="141.9" cy="209.5" r="3.45" fill="url(#gye)"/><circle cx="139.9" cy="210.95" r="3.45" fill="url(#gye)"/><circle cx="137.9" cy="212.4" r="3.45" fill="url(#gye)"/>
<circle cx="166.3" cy="206.6" r="3.45" fill="url(#gye)"/><circle cx="164.3" cy="208.05" r="3.45" fill="url(#gye)"/><circle cx="162.3" cy="209.5" r="3.45" fill="url(#gye)"/><circle cx="160.3" cy="210.95" r="3.45" fill="url(#gye)"/><circle cx="158.3" cy="212.4" r="3.45" fill="url(#gye)"/>
<circle cx="188.8" cy="207.6" r="3.45" fill="url(#gye)"/><circle cx="186.8" cy="209.05" r="3.45" fill="url(#gye)"/><circle cx="184.8" cy="210.5" r="3.45" fill="url(#gye)"/><circle cx="182.8" cy="211.95" r="3.45" fill="url(#gye)"/><circle cx="180.8" cy="213.4" r="3.45" fill="url(#gye)"/>
<circle cx="211.3" cy="208.6" r="3.45" fill="url(#gye)"/><circle cx="209.3" cy="210.05" r="3.45" fill="url(#gye)"/><circle cx="207.3" cy="211.5" r="3.45" fill="url(#gye)"/><circle cx="205.3" cy="212.95" r="3.45" fill="url(#gye)"/><circle cx="203.3" cy="214.4" r="3.45" fill="url(#gye)"/>
<circle cx="138" cy="196.77" r="2.6" fill="url(#gk)"/><circle cx="135.8" cy="198.12" r="2.6" fill="url(#gk)"/><circle cx="133.6" cy="199.47" r="2.6" fill="url(#gk)"/><circle cx="131.4" cy="200.82" r="2.6" fill="url(#gk)"/>
<circle cx="158" cy="196.17" r="2.6" fill="url(#gk)"/><circle cx="155.8" cy="197.52" r="2.6" fill="url(#gk)"/><circle cx="153.6" cy="198.88" r="2.6" fill="url(#gk)"/><circle cx="151.4" cy="200.22" r="2.6" fill="url(#gk)"/>
<circle cx="178.9" cy="197.38" r="2.6" fill="url(#gk)"/><circle cx="176.7" cy="198.72" r="2.6" fill="url(#gk)"/><circle cx="174.5" cy="200.08" r="2.6" fill="url(#gk)"/><circle cx="172.3" cy="201.43" r="2.6" fill="url(#gk)"/>
<circle cx="200.3" cy="197.38" r="2.6" fill="url(#gk)"/><circle cx="198.1" cy="198.72" r="2.6" fill="url(#gk)"/><circle cx="195.9" cy="200.08" r="2.6" fill="url(#gk)"/><circle cx="193.7" cy="201.43" r="2.6" fill="url(#gk)"/>
<circle cx="124.4" cy="184.5" r="3.45" fill="url(#gye)"/><circle cx="122.4" cy="185.95" r="3.45" fill="url(#gye)"/><circle cx="120.4" cy="187.4" r="3.45" fill="url(#gye)"/><circle cx="118.4" cy="188.85" r="3.45" fill="url(#gye)"/><circle cx="116.4" cy="190.3" r="3.45" fill="url(#gye)"/>
<circle cx="145.9" cy="184.5" r="3.45" fill="url(#gye)"/><circle cx="143.9" cy="185.95" r="3.45" fill="url(#gye)"/><circle cx="141.9" cy="187.4" r="3.45" fill="url(#gye)"/><circle cx="139.9" cy="188.85" r="3.45" fill="url(#gye)"/><circle cx="137.9" cy="190.3" r="3.45" fill="url(#gye)"/>
<circle cx="166.3" cy="183.9" r="3.45" fill="url(#gye)"/><circle cx="164.3" cy="185.35" r="3.45" fill="url(#gye)"/><circle cx="162.3" cy="186.8" r="3.45" fill="url(#gye)"/><circle cx="160.3" cy="188.25" r="3.45" fill="url(#gye)"/><circle cx="158.3" cy="189.7" r="3.45" fill="url(#gye)"/>
<circle cx="187.8" cy="185.5" r="3.45" fill="url(#gye)"/><circle cx="185.8" cy="186.95" r="3.45" fill="url(#gye)"/><circle cx="183.8" cy="188.4" r="3.45" fill="url(#gye)"/><circle cx="181.8" cy="189.85" r="3.45" fill="url(#gye)"/><circle cx="179.8" cy="191.3" r="3.45" fill="url(#gye)"/>
<circle cx="210.3" cy="186.6" r="3.45" fill="url(#gye)"/><circle cx="208.3" cy="188.05" r="3.45" fill="url(#gye)"/><circle cx="206.3" cy="189.5" r="3.45" fill="url(#gye)"/><circle cx="204.3" cy="190.95" r="3.45" fill="url(#gye)"/><circle cx="202.3" cy="192.4" r="3.45" fill="url(#gye)"/>
<ellipse cx="107.2" cy="248.2" rx="5.5" ry="1.6" fill="#7a7a7a" filter="url(#bl1)"/>
<ellipse cx="115.3" cy="254.9" rx="5" ry="1.2" fill="#b5b5b5" filter="url(#bl1)"/>
<ellipse cx="136.8" cy="255.5" rx="5" ry="1.2" fill="#b5b5b5" filter="url(#bl1)"/>
<ellipse cx="158.3" cy="255.9" rx="5" ry="1.2" fill="#b5b5b5" filter="url(#bl1)"/>
<ellipse cx="180.8" cy="256.9" rx="5" ry="1.2" fill="#b5b5b5" filter="url(#bl1)"/>
<ellipse cx="204.3" cy="257.5" rx="5" ry="1.2" fill="#b5b5b5" filter="url(#bl1)"/>
<path d="M129.82,241.42L113.7,233.2M131.74,240.14L116.1,231.6M133.66,238.86L118.5,230M135.58,237.58L120.9,228.4M133,238.5L134.6,232.2M134.8,238.5L136.4,232.2M131.7,240.3L118.3,250.8M130.78,240.6L134.16,253.22M132.32,239.9L135.84,252.38M133.86,239.2L137.52,251.54M135.4,238.5L139.2,250.7M150.22,242.12L135.2,233.6M152.14,240.84L137.6,232M154.06,239.56L140,230.4M155.98,238.28L142.4,228.8M153.4,239.2L156.1,231.8M155.2,239.2L157.9,231.8M152.1,241L139.8,251.4M151.18,241.3L155.66,253.62M152.72,240.6L157.34,252.78M154.26,239.9L159.02,251.94M155.8,239.2L160.7,251.1M170.62,242.52L156.7,233.2M172.54,241.24L159.1,231.6M174.46,239.96L161.5,230M176.38,238.68L163.9,228.4M173.8,239.6L178.6,233.2M175.6,239.6L180.4,233.2M172.5,241.4L161.3,251.8M171.58,241.7L178.16,254.62M173.12,241L179.84,253.78M174.66,240.3L181.52,252.94M176.2,239.6L183.2,252.1M193.12,243.12L179.2,234.6M195.04,241.84L181.6,233M196.96,240.56L184,231.4M198.88,239.28L186.4,229.8M196.3,240.2L202.1,234.3M198.1,240.2L203.9,234.3M195,242L183.8,252.8M194.08,242.3L201.66,255.22M195.62,241.6L203.34,254.38M197.16,240.9L205.02,253.54M198.7,240.2L206.7,252.7" stroke="#2a2a2a" stroke-width="0.8" fill="none"/>
<circle cx="121.3" cy="248.4" r="3.45" fill="url(#gye)"/><circle cx="119.3" cy="249.85" r="3.45" fill="url(#gye)"/><circle cx="117.3" cy="251.3" r="3.45" fill="url(#gye)"/><circle cx="115.3" cy="252.75" r="3.45" fill="url(#gye)"/><circle cx="113.3" cy="254.2" r="3.45" fill="url(#gye)"/>
<circle cx="142.8" cy="249" r="3.45" fill="url(#gye)"/><circle cx="140.8" cy="250.45" r="3.45" fill="url(#gye)"/><circle cx="138.8" cy="251.9" r="3.45" fill="url(#gye)"/><circle cx="136.8" cy="253.35" r="3.45" fill="url(#gye)"/><circle cx="134.8" cy="254.8" r="3.45" fill="url(#gye)"/>
<circle cx="164.3" cy="249.4" r="3.45" fill="url(#gye)"/><circle cx="162.3" cy="250.85" r="3.45" fill="url(#gye)"/><circle cx="160.3" cy="252.3" r="3.45" fill="url(#gye)"/><circle cx="158.3" cy="253.75" r="3.45" fill="url(#gye)"/><circle cx="156.3" cy="255.2" r="3.45" fill="url(#gye)"/>
<circle cx="186.8" cy="250.4" r="3.45" fill="url(#gye)"/><circle cx="184.8" cy="251.85" r="3.45" fill="url(#gye)"/><circle cx="182.8" cy="253.3" r="3.45" fill="url(#gye)"/><circle cx="180.8" cy="254.75" r="3.45" fill="url(#gye)"/><circle cx="178.8" cy="256.2" r="3.45" fill="url(#gye)"/>
<circle cx="210.3" cy="251" r="3.45" fill="url(#gye)"/><circle cx="208.3" cy="252.45" r="3.45" fill="url(#gye)"/><circle cx="206.3" cy="253.9" r="3.45" fill="url(#gye)"/><circle cx="204.3" cy="255.35" r="3.45" fill="url(#gye)"/><circle cx="202.3" cy="256.8" r="3.45" fill="url(#gye)"/>
<circle cx="136" cy="237.47" r="2.6" fill="url(#gk)"/><circle cx="133.8" cy="238.82" r="2.6" fill="url(#gk)"/><circle cx="131.6" cy="240.18" r="2.6" fill="url(#gk)"/><circle cx="129.4" cy="241.53" r="2.6" fill="url(#gk)"/>
<circle cx="156.4" cy="238.17" r="2.6" fill="url(#gk)"/><circle cx="154.2" cy="239.52" r="2.6" fill="url(#gk)"/><circle cx="152" cy="240.88" r="2.6" fill="url(#gk)"/><circle cx="149.8" cy="242.22" r="2.6" fill="url(#gk)"/>
<circle cx="176.8" cy="238.57" r="2.6" fill="url(#gk)"/><circle cx="174.6" cy="239.92" r="2.6" fill="url(#gk)"/><circle cx="172.4" cy="241.28" r="2.6" fill="url(#gk)"/><circle cx="170.2" cy="242.62" r="2.6" fill="url(#gk)"/>
<circle cx="199.3" cy="239.17" r="2.6" fill="url(#gk)"/><circle cx="197.1" cy="240.52" r="2.6" fill="url(#gk)"/><circle cx="194.9" cy="241.88" r="2.6" fill="url(#gk)"/><circle cx="192.7" cy="243.22" r="2.6" fill="url(#gk)"/>
<circle cx="120.3" cy="226.9" r="3.45" fill="url(#gye)"/><circle cx="118.3" cy="228.35" r="3.45" fill="url(#gye)"/><circle cx="116.3" cy="229.8" r="3.45" fill="url(#gye)"/><circle cx="114.3" cy="231.25" r="3.45" fill="url(#gye)"/><circle cx="112.3" cy="232.7" r="3.45" fill="url(#gye)"/>
<circle cx="141.8" cy="227.3" r="3.45" fill="url(#gye)"/><circle cx="139.8" cy="228.75" r="3.45" fill="url(#gye)"/><circle cx="137.8" cy="230.2" r="3.45" fill="url(#gye)"/><circle cx="135.8" cy="231.65" r="3.45" fill="url(#gye)"/><circle cx="133.8" cy="233.1" r="3.45" fill="url(#gye)"/>
<circle cx="163.3" cy="226.9" r="3.45" fill="url(#gye)"/><circle cx="161.3" cy="228.35" r="3.45" fill="url(#gye)"/><circle cx="159.3" cy="229.8" r="3.45" fill="url(#gye)"/><circle cx="157.3" cy="231.25" r="3.45" fill="url(#gye)"/><circle cx="155.3" cy="232.7" r="3.45" fill="url(#gye)"/>
<circle cx="185.8" cy="228.3" r="3.45" fill="url(#gye)"/><circle cx="183.8" cy="229.75" r="3.45" fill="url(#gye)"/><circle cx="181.8" cy="231.2" r="3.45" fill="url(#gye)"/><circle cx="179.8" cy="232.65" r="3.45" fill="url(#gye)"/><circle cx="177.8" cy="234.1" r="3.45" fill="url(#gye)"/>
<circle cx="209.3" cy="229.4" r="3.45" fill="url(#gye)"/><circle cx="207.3" cy="230.85" r="3.45" fill="url(#gye)"/><circle cx="205.3" cy="232.3" r="3.45" fill="url(#gye)"/><circle cx="203.3" cy="233.75" r="3.45" fill="url(#gye)"/><circle cx="201.3" cy="235.2" r="3.45" fill="url(#gye)"/>
<ellipse cx="110.2" cy="291.9" rx="5.5" ry="1.6" fill="#7a7a7a" filter="url(#bl1)"/>
<ellipse cx="118.4" cy="298.8" rx="5" ry="1.2" fill="#b5b5b5" filter="url(#bl1)"/>
<ellipse cx="138.9" cy="299.8" rx="5" ry="1.2" fill="#b5b5b5" filter="url(#bl1)"/>
<ellipse cx="159.3" cy="300.2" rx="5" ry="1.2" fill="#b5b5b5" filter="url(#bl1)"/>
<ellipse cx="181.8" cy="300.8" rx="5" ry="1.2" fill="#b5b5b5" filter="url(#bl1)"/>
<ellipse cx="204.3" cy="301.5" rx="5" ry="1.2" fill="#b5b5b5" filter="url(#bl1)"/>
<path d="M131.82,285.02L117.4,276.1M133.74,283.74L119.8,274.5M135.66,282.46L122.2,272.9M137.58,281.18L124.6,271.3M135,282.1L138.7,275.5M136.8,282.1L140.5,275.5M133.7,283.9L121.4,294.7M132.78,284.2L136.26,297.52M134.32,283.5L137.94,296.68M135.86,282.8L139.62,295.84M137.4,282.1L141.3,295M152.62,286.02L139.3,276.9M154.54,284.74L141.7,275.3M156.46,283.46L144.1,273.7M158.38,282.18L146.5,272.1M155.8,283.1L159.1,275.1M157.6,283.1L160.9,275.1M154.5,284.9L141.9,295.7M153.58,285.2L156.66,297.92M155.12,284.5L158.34,297.08M156.66,283.8L160.02,296.24M158.2,283.1L161.7,295.4M173.72,286.02L159.7,276.5M175.64,284.74L162.1,274.9M177.56,283.46L164.5,273.3M179.48,282.18L166.9,271.7M176.9,283.1L181,276.8M178.7,283.1L182.8,276.8M175.6,284.9L162.3,296.1M174.68,285.2L179.16,298.52M176.22,284.5L180.84,297.68M177.76,283.8L182.52,296.84M179.3,283.1L184.2,296M195.22,286.42L181.6,278.2M197.14,285.14L184,276.6M199.06,283.86L186.4,275M200.98,282.58L188.8,273.4M198.4,283.5L203.1,277.6M200.2,283.5L204.9,277.6M197.1,285.3L184.8,296.7M196.18,285.6L201.66,299.22M197.72,284.9L203.34,298.38M199.26,284.2L205.02,297.54M200.8,283.5L206.7,296.7" stroke="#2a2a2a" stroke-width="0.8" fill="none"/>
<circle cx="124.4" cy="292.3" r="3.45" fill="url(#gye)"/><circle cx="122.4" cy="293.75" r="3.45" fill="url(#gye)"/><circle cx="120.4" cy="295.2" r="3.45" fill="url(#gye)"/><circle cx="118.4" cy="296.65" r="3.45" fill="url(#gye)"/><circle cx="116.4" cy="298.1" r="3.45" fill="url(#gye)"/>
<circle cx="144.9" cy="293.3" r="3.45" fill="url(#gye)"/><circle cx="142.9" cy="294.75" r="3.45" fill="url(#gye)"/><circle cx="140.9" cy="296.2" r="3.45" fill="url(#gye)"/><circle cx="138.9" cy="297.65" r="3.45" fill="url(#gye)"/><circle cx="136.9" cy="299.1" r="3.45" fill="url(#gye)"/>
<circle cx="165.3" cy="293.7" r="3.45" fill="url(#gye)"/><circle cx="163.3" cy="295.15" r="3.45" fill="url(#gye)"/><circle cx="161.3" cy="296.6" r="3.45" fill="url(#gye)"/><circle cx="159.3" cy="298.05" r="3.45" fill="url(#gye)"/><circle cx="157.3" cy="299.5" r="3.45" fill="url(#gye)"/>
<circle cx="187.8" cy="294.3" r="3.45" fill="url(#gye)"/><circle cx="185.8" cy="295.75" r="3.45" fill="url(#gye)"/><circle cx="183.8" cy="297.2" r="3.45" fill="url(#gye)"/><circle cx="181.8" cy="298.65" r="3.45" fill="url(#gye)"/><circle cx="179.8" cy="300.1" r="3.45" fill="url(#gye)"/>
<circle cx="210.3" cy="295" r="3.45" fill="url(#gye)"/><circle cx="208.3" cy="296.45" r="3.45" fill="url(#gye)"/><circle cx="206.3" cy="297.9" r="3.45" fill="url(#gye)"/><circle cx="204.3" cy="299.35" r="3.45" fill="url(#gye)"/><circle cx="202.3" cy="300.8" r="3.45" fill="url(#gye)"/>
<circle cx="138" cy="281.08" r="2.6" fill="url(#gk)"/><circle cx="135.8" cy="282.43" r="2.6" fill="url(#gk)"/><circle cx="133.6" cy="283.78" r="2.6" fill="url(#gk)"/><circle cx="131.4" cy="285.12" r="2.6" fill="url(#gk)"/>
<circle cx="158.8" cy="282.08" r="2.6" fill="url(#gk)"/><circle cx="156.6" cy="283.43" r="2.6" fill="url(#gk)"/><circle cx="154.4" cy="284.78" r="2.6" fill="url(#gk)"/><circle cx="152.2" cy="286.12" r="2.6" fill="url(#gk)"/>
<circle cx="179.9" cy="282.08" r="2.6" fill="url(#gk)"/><circle cx="177.7" cy="283.43" r="2.6" fill="url(#gk)"/><circle cx="175.5" cy="284.78" r="2.6" fill="url(#gk)"/><circle cx="173.3" cy="286.12" r="2.6" fill="url(#gk)"/>
<circle cx="201.4" cy="282.48" r="2.6" fill="url(#gk)"/><circle cx="199.2" cy="283.82" r="2.6" fill="url(#gk)"/><circle cx="197" cy="285.18" r="2.6" fill="url(#gk)"/><circle cx="194.8" cy="286.52" r="2.6" fill="url(#gk)"/>
<circle cx="124" cy="269.8" r="3.45" fill="url(#gye)"/><circle cx="122" cy="271.25" r="3.45" fill="url(#gye)"/><circle cx="120" cy="272.7" r="3.45" fill="url(#gye)"/><circle cx="118" cy="274.15" r="3.45" fill="url(#gye)"/><circle cx="116" cy="275.6" r="3.45" fill="url(#gye)"/>
<circle cx="145.9" cy="270.6" r="3.45" fill="url(#gye)"/><circle cx="143.9" cy="272.05" r="3.45" fill="url(#gye)"/><circle cx="141.9" cy="273.5" r="3.45" fill="url(#gye)"/><circle cx="139.9" cy="274.95" r="3.45" fill="url(#gye)"/><circle cx="137.9" cy="276.4" r="3.45" fill="url(#gye)"/>
<circle cx="166.3" cy="270.2" r="3.45" fill="url(#gye)"/><circle cx="164.3" cy="271.65" r="3.45" fill="url(#gye)"/><circle cx="162.3" cy="273.1" r="3.45" fill="url(#gye)"/><circle cx="160.3" cy="274.55" r="3.45" fill="url(#gye)"/><circle cx="158.3" cy="276" r="3.45" fill="url(#gye)"/>
<circle cx="188.2" cy="271.9" r="3.45" fill="url(#gye)"/><circle cx="186.2" cy="273.35" r="3.45" fill="url(#gye)"/><circle cx="184.2" cy="274.8" r="3.45" fill="url(#gye)"/><circle cx="182.2" cy="276.25" r="3.45" fill="url(#gye)"/><circle cx="180.2" cy="277.7" r="3.45" fill="url(#gye)"/>
<circle cx="210.3" cy="272.7" r="3.45" fill="url(#gye)"/><circle cx="208.3" cy="274.15" r="3.45" fill="url(#gye)"/><circle cx="206.3" cy="275.6" r="3.45" fill="url(#gye)"/><circle cx="204.3" cy="277.05" r="3.45" fill="url(#gye)"/><circle cx="202.3" cy="278.5" r="3.45" fill="url(#gye)"/>
<ellipse cx="162.5" cy="187.70000000000002" rx="3.9" ry="2.3" fill="none" stroke="#111" stroke-width="0.7" transform="rotate(-12 162.5 187.70000000000002)"/>
<ellipse cx="160.1" cy="229.9" rx="3.9" ry="2.3" fill="none" stroke="#111" stroke-width="0.7" transform="rotate(-12 160.1 229.9)"/>
<ellipse cx="162.5" cy="273.5" rx="3.9" ry="2.3" fill="none" stroke="#111" stroke-width="0.7" transform="rotate(-12 162.5 273.5)"/>
<circle cx="171.1" cy="177.2" r="1.9" fill="url(#gr)"/>
<circle cx="175.6" cy="177.2" r="1.9" fill="url(#gr)"/>
<circle cx="153.1" cy="227.6" r="1.9" fill="url(#gr)"/>
<circle cx="165" cy="227.8" r="1.9" fill="url(#gr)"/>
<circle cx="168.5" cy="280.7" r="1.9" fill="url(#gr)"/>
<circle cx="161.3" cy="283.8" r="1.9" fill="url(#gr)"/>
<line x1="164" y1="187.6" x2="183.5" y2="178.6" stroke="#111" stroke-width="0.5" />
<text x="173.2" y="173.4" font-size="5.4" text-anchor="middle" fill="#231f20" class="b" ><tspan font-size="5.4">H</tspan><tspan font-size="3.56" dy="1.46">2</tspan></text>
<text x="182.2" y="178.9" font-size="5.9" text-anchor="start" fill="#231f20" class="b" textLength="52.5" lengthAdjust="spacingAndGlyphs"><tspan font-size="5.9">Sulfur vacancy (</tspan><tspan font-size="5.9" font-style="italic">V</tspan><tspan font-size="3.89" dy="1.59" font-style="italic">S</tspan><tspan font-size="5.9" dy="-1.59">)</tspan></text>
<circle cx="222.6" cy="195.6" r="3.7" fill="url(#gye)"/>
<circle cx="222.6" cy="206.4" r="2.5" fill="url(#gk)"/>
<text x="227.7" y="197.7" font-size="5.8" text-anchor="start" fill="#231f20" class="b" >S</text>
<text x="227.7" y="208.5" font-size="5.8" text-anchor="start" fill="#231f20" class="b" >Mo</text>
<text x="103.8" y="186.9" font-size="15.6" text-anchor="start" fill="#231f20" class="b" >e</text>
</g>
<g id="pf">
<rect x="274.9" y="176" width="64" height="117" fill="#fcdcdc" stroke="none" stroke-width="1" />
<polyline points="266.8,287.6 268.33,287.6 269.8,287.6 271.22,287.6 272.6,287.6 273.94,287.6 275.26,287.6 276.52,287.13 277.59,286.3 278.59,285.36 279.52,284.32 280.41,283.22 281.27,282.06 282.12,280.89 282.97,279.71 283.84,278.57 284.74,277.48 285.69,276.47 286.7,275.55 287.76,274.67 288.84,273.81 289.95,272.97 291.09,272.14 292.25,271.34 293.43,270.55 294.62,269.78 295.83,269.03 297.05,268.29 298.27,267.57 299.51,266.86 300.74,266.16 301.98,265.48 303.21,264.82 304.44,264.16 305.68,263.51 306.92,262.86 308.18,262.22 309.44,261.6 310.71,260.98 311.99,260.38 313.28,259.79 314.57,259.22 315.87,258.67 317.17,258.14 318.48,257.63 319.8,257.15 321.11,256.7 322.44,256.26 323.77,255.85 325.11,255.44 326.46,255.05 327.82,254.68 329.18,254.32 330.55,253.97 331.92,253.64 333.29,253.32 334.67,253.01 336.04,252.72 337.42,252.44 338.8,252.2 338.8,252.2 341.21,252.97 343.62,253.76 346.02,254.57 348.41,255.4 350.81,256.23 353.2,257.06 355.6,257.87 358.01,258.66 360.42,259.41 362.84,260.12 365.28,260.77 367.72,261.39 370.17,262 372.63,262.59 375.09,263.16 377.57,263.72 380.04,264.27 382.52,264.8 385.01,265.31 387.49,265.8 389.98,266.28 392.47,266.73 394.97,267.17 397.46,267.59 399.95,267.99 402.45,268.38 404.95,268.76 407.45,269.13 409.95,269.49 412.45,269.84 414.96,270.18 417.47,270.51 419.98,270.82 422.49,271.12 425.01,271.41 427.53,271.68 430.05,271.94 432.57,272.18 435.1,272.4" fill="none" stroke="#52c8dc" stroke-width="2.4" stroke-linejoin="round" />
<polyline points="266.8,287 268.36,287 269.79,287 271.1,287 272.3,287 273.38,287 274.35,287 275.21,287 275.96,287 276.6,287 277.13,286.92 277.5,285.81 277.86,284.79 278.2,283.8 278.54,282.81 278.87,281.82 279.19,280.82 279.51,279.82 279.82,278.82 280.13,277.82 280.43,276.82 280.73,275.81 281.02,274.81 281.32,273.8 281.61,272.79 281.9,271.78 282.2,270.78 282.49,269.77 282.78,268.76 283.08,267.76 283.38,266.75 283.68,265.75 283.99,264.74 284.3,263.74 284.62,262.74 284.94,261.75 285.26,260.75 285.58,259.75 285.91,258.76 286.24,257.76 286.57,256.77 286.89,255.77 287.22,254.78 287.56,253.78 287.89,252.79 288.22,251.8 288.55,250.8 288.89,249.81 289.22,248.82 289.56,247.82 289.9,246.83 290.23,245.84 290.57,244.85 290.9,243.85 291.24,242.86 291.58,241.87 291.91,240.87 292.24,239.88 292.56,238.88 292.88,237.87 293.21,236.87 293.54,235.88 293.87,234.88 294.22,233.9 294.58,232.92 294.96,231.95 295.35,230.98 295.75,230.01 296.16,229.04 296.58,228.06 297,227.08 297.44,226.1 297.88,225.13 298.34,224.16 298.8,223.19 299.28,222.24 299.77,221.3 300.28,220.36 300.79,219.45 301.32,218.55 301.87,217.67 302.43,216.81 303.01,215.97 303.6,215.16 304.22,214.37 304.88,213.58 305.57,212.79 306.3,212.01 307.07,211.25 307.85,210.51 308.67,209.8 309.5,209.11 310.34,208.47 311.2,207.87 312.07,207.31 312.94,206.81 313.84,206.33 314.77,205.86 315.73,205.41 316.71,204.98 317.71,204.59 318.72,204.23 319.73,203.92 320.74,203.65 321.75,203.43 322.77,203.22 323.8,203.03 324.83,202.85 325.88,202.68 326.92,202.54 327.97,202.43 329.02,202.35 330.07,202.3 331.11,202.28 332.15,202.25 333.2,202.24 334.25,202.22 335.3,202.21 336.35,202.2 337.4,202.2 337.6,202.4 338.01,203.47 338.39,204.54 338.71,205.62 338.94,206.72 339.13,207.83 339.3,208.94 339.44,210.07 339.57,211.2 339.69,212.34 339.8,213.47 339.91,214.61 340.03,215.75 340.16,216.88 340.3,218 340.46,219.12 340.65,220.23 340.87,221.33 341.11,222.43 341.39,223.54 341.69,224.64 342.02,225.74 342.37,226.84 342.74,227.92 343.13,229 343.53,230.07 343.96,231.12 344.39,232.15 344.84,233.17 345.32,234.17 345.84,235.17 346.4,236.16 347,237.13 347.63,238.1 348.28,239.05 348.96,239.98 349.66,240.89 350.37,241.78 351.08,242.64 351.8,243.48 352.56,244.31 353.33,245.13 354.13,245.93 354.96,246.72 355.8,247.5 356.66,248.27 357.53,249.01 358.41,249.75 359.3,250.46 360.2,251.16 361.11,251.84 362.01,252.51 362.93,253.16 363.86,253.8 364.8,254.42 365.76,255.03 366.74,255.63 367.72,256.21 368.71,256.78 369.7,257.33 370.7,257.87 371.71,258.4 372.72,258.91 373.73,259.41 374.75,259.89 375.78,260.37 376.81,260.83 377.85,261.29 378.9,261.73 379.95,262.17 381.01,262.59 382.06,263.01 383.12,263.42 384.19,263.82 385.25,264.21 386.31,264.59 387.38,264.98 388.45,265.36 389.52,265.74 390.59,266.11 391.67,266.48 392.75,266.84 393.83,267.19 394.92,267.53 396,267.85 397.09,268.16 398.19,268.46 399.28,268.74 400.38,269 401.48,269.24 402.58,269.47 403.69,269.7 404.8,269.91 405.92,270.12 407.03,270.32 408.15,270.51 409.27,270.7 410.39,270.88 411.52,271.06 412.64,271.24 413.76,271.41 414.89,271.59 416.01,271.76 417.13,271.93 418.25,272.1 419.37,272.27 420.49,272.44 421.61,272.6 422.73,272.77 423.86,272.93 424.98,273.09 426.1,273.24 427.23,273.4 428.35,273.55 429.47,273.7 430.6,273.84 431.72,273.99 432.85,274.13 433.97,274.26 435.1,274.4" fill="none" stroke="#2f46b4" stroke-width="2.3" stroke-linejoin="round" />
<polyline points="266.8,287.6 268.3,287.6 269.71,287.6 271.04,287.6 272.27,287.6 273.43,287.6 274.51,287.6 275.52,287.6 276.46,287.6 277.33,287.6 278.16,287.22 278.78,286.05 279.11,285.05 279.41,284.02 279.7,282.98 279.96,281.92 280.21,280.85 280.43,279.76 280.65,278.65 280.85,277.53 281.03,276.4 281.21,275.26 281.37,274.1 281.52,272.94 281.67,271.77 281.8,270.59 281.93,269.41 282.06,268.22 282.18,267.03 282.3,265.84 282.42,264.64 282.53,263.44 282.65,262.25 282.77,261.05 282.9,259.86 283.02,258.67 283.16,257.49 283.29,256.32 283.44,255.15 283.6,253.98 283.76,252.83 283.94,251.69 284.11,250.54 284.27,249.39 284.43,248.24 284.59,247.09 284.75,245.94 284.9,244.79 285.06,243.64 285.22,242.48 285.38,241.33 285.54,240.18 285.7,239.03 285.87,237.89 286.04,236.74 286.22,235.59 286.4,234.45 286.59,233.31 286.79,232.17 287,231.04 287.21,229.91 287.44,228.78 287.67,227.65 287.92,226.52 288.18,225.38 288.45,224.23 288.74,223.08 289.04,221.94 289.36,220.8 289.69,219.67 290.04,218.56 290.42,217.46 290.82,216.38 291.24,215.32 291.68,214.29 292.15,213.29 292.7,212.29 293.33,211.3 294.02,210.33 294.77,209.39 295.55,208.5 296.37,207.66 297.19,206.89 298.04,206.18 298.96,205.49 299.92,204.83 300.92,204.19 301.95,203.6 303,203.04 304.06,202.53 305.12,202.07 306.18,201.66 307.24,201.28 308.33,200.91 309.42,200.57 310.53,200.24 311.65,199.93 312.78,199.63 313.92,199.34 315.06,199.07 316.2,198.82 317.35,198.57 318.5,198.34 319.64,198.12 320.78,197.91 321.92,197.71 323.05,197.51 324.19,197.32 325.33,197.14 326.47,196.96 327.62,196.78 328.77,196.61 329.91,196.45 331.06,196.3 332.21,196.16 333.37,196.03 334.52,195.9 335.68,195.79 336.84,195.69 338,195.6 338.2,195.6 338.4,196.78 338.6,197.95 338.8,199.13 338.99,200.31 339.18,201.49 339.36,202.66 339.53,203.84 339.7,205.03 339.86,206.21 340,207.39 340.14,208.58 340.27,209.77 340.39,210.96 340.52,212.15 340.66,213.34 340.8,214.52 340.95,215.7 341.12,216.88 341.31,218.05 341.52,219.22 341.77,220.38 342.04,221.55 342.34,222.71 342.65,223.87 342.98,225.02 343.33,226.16 343.68,227.3 344.04,228.43 344.42,229.56 344.83,230.68 345.26,231.8 345.71,232.91 346.19,234.01 346.68,235.1 347.18,236.17 347.71,237.24 348.26,238.3 348.84,239.36 349.45,240.4 350.08,241.42 350.74,242.41 351.42,243.36 352.14,244.3 352.9,245.22 353.7,246.12 354.52,247.01 355.37,247.86 356.24,248.69 357.12,249.49 358.01,250.26 358.93,251 359.88,251.72 360.85,252.41 361.84,253.09 362.84,253.75 363.86,254.4 364.88,255.03 365.9,255.66 366.92,256.27 367.94,256.88 368.97,257.49 370.01,258.08 371.05,258.67 372.11,259.24 373.16,259.8 374.23,260.34 375.3,260.86 376.38,261.36 377.46,261.85 378.55,262.32 379.65,262.77 380.76,263.21 381.87,263.65 382.99,264.07 384.12,264.48 385.24,264.88 386.37,265.27 387.5,265.66 388.63,266.04 389.77,266.42 390.9,266.79 392.03,267.16 393.17,267.52 394.31,267.87 395.45,268.21 396.6,268.55 397.75,268.89 398.89,269.21 400.04,269.53 401.19,269.85 402.35,270.16 403.5,270.46 404.65,270.77 405.81,271.07 406.96,271.37 408.12,271.66 409.28,271.95 410.44,272.23 411.6,272.51 412.77,272.78 413.93,273.04 415.1,273.29 416.26,273.53 417.43,273.77 418.6,273.99 419.77,274.21 420.94,274.43 422.12,274.64 423.29,274.85 424.46,275.05 425.64,275.25 426.82,275.44 428,275.62 429.18,275.8 430.36,275.98 431.54,276.14 432.73,276.3 433.91,276.45 435.1,276.6" fill="none" stroke="#1c1b7c" stroke-width="2.4" stroke-linejoin="round" />
<polyline points="266.8,287.6 268.39,287.6 269.87,287.6 271.24,287.6 272.5,287.6 273.66,287.6 274.72,287.6 275.69,287.6 276.56,287.6 277.36,287.55 278.03,286.48 278.39,285.36 278.68,284.28 278.96,283.2 279.21,282.09 279.45,280.98 279.67,279.85 279.88,278.71 280.07,277.57 280.26,276.41 280.43,275.24 280.59,274.06 280.74,272.88 280.88,271.69 281.01,270.5 281.14,269.3 281.26,268.1 281.38,266.89 281.5,265.69 281.62,264.48 281.73,263.27 281.84,262.06 281.96,260.85 282.08,259.65 282.2,258.45 282.33,257.25 282.46,256.05 282.61,254.87 282.75,253.69 282.91,252.51 283.07,251.34 283.23,250.17 283.37,248.99 283.52,247.81 283.66,246.64 283.8,245.46 283.94,244.28 284.08,243.1 284.22,241.92 284.36,240.75 284.5,239.57 284.65,238.39 284.8,237.22 284.95,236.04 285.11,234.87 285.27,233.7 285.44,232.53 285.62,231.37 285.8,230.2 286,229.04 286.2,227.89 286.42,226.74 286.64,225.58 286.88,224.42 287.14,223.25 287.41,222.08 287.7,220.91 288.01,219.75 288.34,218.59 288.68,217.44 289.05,216.3 289.44,215.18 289.85,214.09 290.28,213.01 290.73,211.97 291.22,210.94 291.8,209.92 292.45,208.91 293.16,207.91 293.93,206.96 294.72,206.05 295.55,205.21 296.38,204.44 297.26,203.71 298.2,203 299.19,202.32 300.21,201.67 301.27,201.07 302.34,200.5 303.42,199.98 304.49,199.52 305.57,199.11 306.66,198.71 307.76,198.34 308.88,197.98 310.01,197.64 311.15,197.31 312.3,197 313.46,196.7 314.62,196.42 315.79,196.15 316.96,195.89 318.13,195.64 319.3,195.41 320.46,195.18 321.62,194.96 322.77,194.75 323.93,194.54 325.1,194.33 326.26,194.13 327.42,193.94 328.59,193.76 329.76,193.58 330.93,193.41 332.11,193.25 333.28,193.1 334.46,192.96 335.64,192.83 336.82,192.71 338,192.6 338.2,192.6 338.4,193.81 338.6,195.02 338.79,196.23 338.99,197.45 339.17,198.66 339.35,199.87 339.53,201.09 339.7,202.3 339.87,203.52 340.02,204.74 340.17,205.95 340.3,207.18 340.44,208.4 340.57,209.62 340.7,210.84 340.84,212.06 340.98,213.28 341.13,214.5 341.3,215.71 341.49,216.92 341.69,218.13 341.92,219.33 342.16,220.54 342.42,221.74 342.7,222.94 343,224.13 343.3,225.32 343.62,226.51 343.95,227.68 344.3,228.86 344.67,230.03 345.07,231.2 345.49,232.36 345.92,233.51 346.38,234.65 346.87,235.77 347.37,236.88 347.91,237.98 348.48,239.08 349.08,240.16 349.72,241.22 350.38,242.26 351.06,243.27 351.77,244.25 352.53,245.21 353.31,246.16 354.14,247.09 354.98,247.99 355.85,248.87 356.74,249.72 357.64,250.55 358.56,251.34 359.5,252.11 360.48,252.85 361.47,253.58 362.48,254.29 363.51,254.98 364.54,255.66 365.57,256.33 366.6,256.99 367.64,257.65 368.68,258.29 369.73,258.93 370.79,259.56 371.86,260.18 372.94,260.78 374.02,261.36 375.11,261.93 376.2,262.47 377.31,262.99 378.42,263.49 379.54,263.98 380.67,264.45 381.81,264.91 382.96,265.36 384.11,265.79 385.26,266.22 386.42,266.64 387.58,267.06 388.74,267.46 389.9,267.87 391.06,268.26 392.22,268.65 393.39,269.03 394.56,269.4 395.73,269.77 396.9,270.13 398.08,270.49 399.25,270.84 400.43,271.19 401.61,271.54 402.78,271.88 403.96,272.23 405.14,272.59 406.31,272.94 407.49,273.3 408.67,273.65 409.85,274 411.03,274.34 412.21,274.67 413.4,274.99 414.58,275.29 415.77,275.59 416.97,275.86 418.16,276.12 419.36,276.37 420.56,276.62 421.76,276.86 422.96,277.09 424.17,277.32 425.37,277.54 426.58,277.75 427.79,277.96 429.01,278.16 430.22,278.34 431.44,278.52 432.66,278.69 433.88,278.85 435.1,279" fill="none" stroke="#7a1f8c" stroke-width="2.4" stroke-linejoin="round" />
<polyline points="266.8,287.6 268.35,287.6 269.79,287.6 271.14,287.6 272.41,287.6 273.59,287.6 274.7,287.6 275.75,287.6 276.76,287.12 276.95,286.1 277.11,285.05 277.25,283.97 277.37,282.85 277.48,281.69 277.58,280.51 277.67,279.3 277.74,278.06 277.81,276.8 277.87,275.52 277.92,274.22 277.97,272.91 278.01,271.58 278.04,270.25 278.08,268.9 278.11,267.56 278.15,266.2 278.18,264.85 278.22,263.51 278.26,262.16 278.31,260.83 278.36,259.5 278.42,258.19 278.48,256.89 278.56,255.61 278.64,254.35 278.73,253.09 278.81,251.83 278.9,250.57 278.98,249.3 279.07,248.04 279.15,246.78 279.24,245.51 279.33,244.25 279.42,242.98 279.51,241.72 279.6,240.46 279.7,239.19 279.8,237.93 279.91,236.67 280.02,235.41 280.13,234.15 280.24,232.9 280.37,231.64 280.49,230.38 280.63,229.13 280.76,227.88 280.91,226.63 281.06,225.38 281.22,224.14 281.38,222.89 281.56,221.64 281.77,220.38 281.98,219.12 282.22,217.85 282.48,216.59 282.76,215.34 283.05,214.1 283.37,212.86 283.71,211.65 284.07,210.45 284.45,209.27 284.85,208.12 285.31,206.99 285.86,205.85 286.49,204.73 287.18,203.63 287.92,202.56 288.7,201.53 289.51,200.56 290.33,199.66 291.22,198.79 292.18,197.95 293.19,197.16 294.25,196.41 295.34,195.74 296.42,195.14 297.54,194.59 298.69,194.07 299.86,193.59 301.06,193.14 302.28,192.73 303.49,192.36 304.71,192.02 305.92,191.72 307.14,191.44 308.37,191.18 309.61,190.92 310.85,190.69 312.09,190.46 313.34,190.25 314.6,190.04 315.85,189.84 317.1,189.65 318.36,189.46 319.61,189.27 320.86,189.08 322.11,188.89 323.36,188.71 324.61,188.53 325.86,188.35 327.11,188.17 328.36,188 329.61,187.84 330.87,187.67 332.12,187.52 333.38,187.36 334.63,187.22 335.89,187.07 337.14,186.93 338.4,186.8 338.7,186.4 338.83,187.68 338.96,188.97 339.09,190.25 339.22,191.53 339.35,192.81 339.48,194.1 339.61,195.38 339.73,196.66 339.86,197.95 339.99,199.23 340.12,200.51 340.25,201.8 340.37,203.08 340.49,204.37 340.6,205.65 340.71,206.94 340.83,208.23 340.95,209.51 341.07,210.8 341.2,212.08 341.33,213.36 341.48,214.64 341.65,215.91 341.83,217.19 342.04,218.46 342.26,219.73 342.52,221 342.78,222.26 343.07,223.52 343.37,224.78 343.68,226.03 344,227.27 344.33,228.52 344.69,229.76 345.08,231 345.48,232.23 345.91,233.46 346.36,234.66 346.83,235.86 347.33,237.03 347.88,238.19 348.47,239.35 349.09,240.49 349.75,241.61 350.44,242.7 351.15,243.77 351.88,244.82 352.64,245.86 353.44,246.89 354.27,247.89 355.13,248.87 356.01,249.82 356.91,250.74 357.83,251.62 358.78,252.46 359.77,253.28 360.79,254.07 361.83,254.84 362.89,255.59 363.97,256.33 365.04,257.06 366.11,257.78 367.18,258.49 368.26,259.2 369.34,259.91 370.44,260.61 371.53,261.29 372.64,261.96 373.76,262.62 374.88,263.24 376.01,263.85 377.16,264.43 378.31,264.98 379.48,265.52 380.66,266.04 381.84,266.55 383.04,267.04 384.24,267.52 385.45,267.99 386.65,268.46 387.86,268.91 389.07,269.37 390.28,269.81 391.49,270.25 392.71,270.68 393.92,271.11 395.14,271.52 396.37,271.93 397.59,272.34 398.82,272.73 400.05,273.13 401.28,273.52 402.51,273.9 403.74,274.29 404.97,274.68 406.2,275.07 407.43,275.45 408.67,275.84 409.9,276.21 411.14,276.58 412.38,276.94 413.62,277.29 414.87,277.62 416.11,277.94 417.36,278.25 418.62,278.53 419.87,278.81 421.13,279.09 422.39,279.36 423.65,279.62 424.91,279.88 426.18,280.12 427.45,280.36 428.72,280.59 429.99,280.82 431.26,281.03 432.54,281.23 433.82,281.42 435.1,281.6" fill="none" stroke="#ee1c25" stroke-width="3.1" stroke-linejoin="round" />
<line x1="279" y1="186.7" x2="337" y2="186.7" stroke="#c0272d" stroke-width="0.9" />
<path d="M276.4,186.7 L283,184.3 L283,189.1Z" fill="#c0272d"/>
<path d="M340.6,186.7 L334,184.2 L334,189.2Z" fill="#c0272d"/>
<text x="308" y="183.6" font-size="7.2" text-anchor="middle" fill="#231f20" class="b" ><tspan font-size="7.2">H</tspan><tspan font-size="4.75" dy="1.94">2</tspan><tspan font-size="7.2" dy="-1.94"> On</tspan></text>
<rect x="266.2" y="175.9" width="169.2" height="117.4" fill="none" stroke="#000" stroke-width="1.4" />
<line x1="266.8" y1="187.8" x2="269.6" y2="187.8" stroke="#000" stroke-width="1.2" />
<text x="262.3" y="191.7" font-size="8.8" text-anchor="end" fill="#231f20" class="b" >5</text>
<line x1="266.8" y1="222.9" x2="269.6" y2="222.9" stroke="#000" stroke-width="1.2" />
<text x="262.3" y="226.8" font-size="8.8" text-anchor="end" fill="#231f20" class="b" >4</text>
<line x1="266.8" y1="258" x2="269.6" y2="258" stroke="#000" stroke-width="1.2" />
<text x="262.3" y="261.9" font-size="8.8" text-anchor="end" fill="#231f20" class="b" >3</text>
<line x1="266.8" y1="293.1" x2="269.6" y2="293.1" stroke="#000" stroke-width="1.2" />
<text x="262.3" y="297" font-size="8.8" text-anchor="end" fill="#231f20" class="b" >2</text>
<text x="266.2" y="305.2" font-size="8.8" text-anchor="middle" fill="#231f20" class="b" >0</text>
<line x1="308" y1="293" x2="308" y2="290.4" stroke="#000" stroke-width="1.2" />
<text x="308" y="305.2" font-size="8.8" text-anchor="middle" fill="#231f20" class="b" >40</text>
<line x1="363.6" y1="293" x2="363.6" y2="290.4" stroke="#000" stroke-width="1.2" />
<text x="363.6" y="305.2" font-size="8.8" text-anchor="middle" fill="#231f20" class="b" >80</text>
<line x1="419.3" y1="293" x2="419.3" y2="290.4" stroke="#000" stroke-width="1.2" />
<text x="419.3" y="305.2" font-size="8.8" text-anchor="middle" fill="#231f20" class="b" >120</text>
<text x="351.3" y="318.3" font-size="8.5" text-anchor="middle" fill="#231f20"><tspan class="b i">Time</tspan><tspan class="b"> (min)</tspan></text>
<text transform="translate(249.6 233.7) rotate(-90)" font-size="8.8" text-anchor="middle" fill="#231f20" class="b r" ><tspan font-size="8.8" font-style="italic">I</tspan><tspan font-size="5.81" dy="2.38" font-style="italic">SD</tspan><tspan font-size="8.8" dy="-2.38"> (µA)</tspan></text>
<text x="241.2" y="187" font-size="14.8" text-anchor="start" fill="#231f20" class="b" >f</text>
<line x1="370.3" y1="191.6" x2="391" y2="191.6" stroke="#ee1c25" stroke-width="2.8" />
<text x="396.2" y="195" font-size="8.8" text-anchor="start" fill="#231f20" class="b" >50 %</text>
<line x1="370.3" y1="203.2" x2="391" y2="203.2" stroke="#7a1f8c" stroke-width="2.8" />
<text x="396.2" y="206.6" font-size="8.8" text-anchor="start" fill="#231f20" class="b" >25 %</text>
<line x1="370.3" y1="215.4" x2="391" y2="215.4" stroke="#1c1b7c" stroke-width="2.8" />
<text x="396.2" y="218.8" font-size="8.8" text-anchor="start" fill="#231f20" class="b" >20 %</text>
<line x1="370.3" y1="226.9" x2="391" y2="226.9" stroke="#2f46b4" stroke-width="2.8" />
<text x="396.2" y="230.3" font-size="8.8" text-anchor="start" fill="#231f20" class="b" >5 %</text>
<line x1="370.3" y1="238.9" x2="391" y2="238.9" stroke="#52c8dc" stroke-width="2.8" />
<text x="396.2" y="242.3" font-size="8.8" text-anchor="start" fill="#231f20" class="b" >0.5 %</text>
</g>
<g id="pg">
<path d="M491.8,269.7h4.8v2.4h-4.8zM492.2,265h4.8v2.4h-4.8zM492.8,260.5h4.8v2.4h-4.8zM493.4,253.4h4.8v2.4h-4.8zM494.2,247.7h4.8v2.4h-4.8zM494.8,239.1h4.8v2.4h-4.8zM495.5,233.6h4.8v2.4h-4.8zM496.5,228.5h4.8v2.4h-4.8zM532.8,187.7h4.8v2.4h-4.8zM533.6,192.2h4.8v2.4h-4.8zM534.6,196.4h4.8v2.4h-4.8zM535.7,200.6h4.8v2.4h-4.8zM536.7,205h4.8v2.4h-4.8zM497.3,224.4h4.8v2.4h-4.8zM497.77,222.42h4.8v2.4h-4.8zM498.24,220.51h4.8v2.4h-4.8zM498.71,218.7h4.8v2.4h-4.8zM499.18,216.99h4.8v2.4h-4.8zM499.65,215.39h4.8v2.4h-4.8zM500.12,213.93h4.8v2.4h-4.8zM500.59,212.55h4.8v2.4h-4.8zM501.06,211.26h4.8v2.4h-4.8zM501.53,210.03h4.8v2.4h-4.8zM502,208.85h4.8v2.4h-4.8zM502.47,207.73h4.8v2.4h-4.8zM502.94,206.64h4.8v2.4h-4.8zM503.41,205.58h4.8v2.4h-4.8zM503.88,204.55h4.8v2.4h-4.8zM504.35,203.55h4.8v2.4h-4.8zM504.82,202.58h4.8v2.4h-4.8zM505.29,201.65h4.8v2.4h-4.8zM505.76,200.74h4.8v2.4h-4.8zM506.23,199.86h4.8v2.4h-4.8zM506.7,199h4.8v2.4h-4.8zM507.17,198.18h4.8v2.4h-4.8zM507.64,197.37h4.8v2.4h-4.8zM508.11,196.56h4.8v2.4h-4.8zM508.58,195.77h4.8v2.4h-4.8zM509.05,194.99h4.8v2.4h-4.8zM509.52,194.23h4.8v2.4h-4.8zM509.99,193.49h4.8v2.4h-4.8zM510.46,192.76h4.8v2.4h-4.8zM510.93,192.06h4.8v2.4h-4.8zM511.4,191.39h4.8v2.4h-4.8zM511.87,190.75h4.8v2.4h-4.8zM512.34,190.13h4.8v2.4h-4.8zM512.81,189.55h4.8v2.4h-4.8zM513.28,189.01h4.8v2.4h-4.8zM513.75,188.49h4.8v2.4h-4.8zM514.22,187.97h4.8v2.4h-4.8zM514.69,187.47h4.8v2.4h-4.8zM515.16,186.99h4.8v2.4h-4.8zM515.63,186.52h4.8v2.4h-4.8zM516.1,186.07h4.8v2.4h-4.8zM516.57,185.63h4.8v2.4h-4.8zM517.04,185.22h4.8v2.4h-4.8zM517.51,184.84h4.8v2.4h-4.8zM517.98,184.47h4.8v2.4h-4.8zM518.45,184.14h4.8v2.4h-4.8zM518.92,183.83h4.8v2.4h-4.8zM519.39,183.55h4.8v2.4h-4.8zM519.86,183.28h4.8v2.4h-4.8zM520.33,183.03h4.8v2.4h-4.8zM520.8,182.78h4.8v2.4h-4.8zM521.27,182.54h4.8v2.4h-4.8zM521.74,182.31h4.8v2.4h-4.8zM522.21,182.09h4.8v2.4h-4.8zM522.68,181.89h4.8v2.4h-4.8zM523.15,181.7h4.8v2.4h-4.8zM523.62,181.53h4.8v2.4h-4.8zM524.09,181.37h4.8v2.4h-4.8zM524.56,181.23h4.8v2.4h-4.8zM525.03,181.1h4.8v2.4h-4.8zM525.5,181h4.8v2.4h-4.8zM525.97,180.91h4.8v2.4h-4.8zM526.44,180.81h4.8v2.4h-4.8zM526.91,180.73h4.8v2.4h-4.8zM527.38,180.65h4.8v2.4h-4.8zM527.85,180.58h4.8v2.4h-4.8zM528.32,180.53h4.8v2.4h-4.8zM528.79,180.51h4.8v2.4h-4.8zM529.26,180.5h4.8v2.4h-4.8zM529.73,180.5h4.8v2.4h-4.8zM530.2,180.5h4.8v2.4h-4.8zM530.67,180.5h4.8v2.4h-4.8zM531.14,180.5h4.8v2.4h-4.8zM531.61,180.5h4.8v2.4h-4.8zM532.08,180.5h4.8v2.4h-4.8zM532.55,180.5h4.8v2.4h-4.8zM537.4,208.8h4.8v2.4h-4.8zM537.87,211h4.8v2.4h-4.8zM538.34,212.96h4.8v2.4h-4.8zM538.81,214.76h4.8v2.4h-4.8zM539.28,216.4h4.8v2.4h-4.8zM539.75,217.84h4.8v2.4h-4.8zM540.22,219.1h4.8v2.4h-4.8zM540.69,220.26h4.8v2.4h-4.8zM541.16,221.33h4.8v2.4h-4.8zM541.63,222.34h4.8v2.4h-4.8zM542.1,223.33h4.8v2.4h-4.8zM542.57,224.31h4.8v2.4h-4.8zM543.04,225.31h4.8v2.4h-4.8zM543.51,226.31h4.8v2.4h-4.8zM543.98,227.29h4.8v2.4h-4.8zM544.45,228.26h4.8v2.4h-4.8zM544.92,229.22h4.8v2.4h-4.8zM545.39,230.15h4.8v2.4h-4.8zM545.86,231.07h4.8v2.4h-4.8zM546.33,231.96h4.8v2.4h-4.8zM546.8,232.82h4.8v2.4h-4.8zM547.27,233.66h4.8v2.4h-4.8zM547.74,234.5h4.8v2.4h-4.8zM548.21,235.34h4.8v2.4h-4.8zM548.68,236.16h4.8v2.4h-4.8zM549.15,236.97h4.8v2.4h-4.8zM549.62,237.77h4.8v2.4h-4.8zM550.09,238.54h4.8v2.4h-4.8zM550.56,239.29h4.8v2.4h-4.8zM551.03,240.02h4.8v2.4h-4.8zM551.5,240.71h4.8v2.4h-4.8zM551.97,241.37h4.8v2.4h-4.8zM552.44,242h4.8v2.4h-4.8zM552.91,242.58h4.8v2.4h-4.8zM553.38,243.14h4.8v2.4h-4.8zM553.85,243.68h4.8v2.4h-4.8zM554.32,244.2h4.8v2.4h-4.8zM554.79,244.69h4.8v2.4h-4.8zM555.26,245.17h4.8v2.4h-4.8zM555.73,245.64h4.8v2.4h-4.8zM556.2,246.09h4.8v2.4h-4.8zM556.67,246.54h4.8v2.4h-4.8zM557.14,246.97h4.8v2.4h-4.8zM557.61,247.41h4.8v2.4h-4.8zM558.08,247.84h4.8v2.4h-4.8zM558.55,248.27h4.8v2.4h-4.8zM559.02,248.69h4.8v2.4h-4.8zM559.49,249.11h4.8v2.4h-4.8zM559.96,249.52h4.8v2.4h-4.8zM560.43,249.92h4.8v2.4h-4.8zM560.9,250.32h4.8v2.4h-4.8zM561.37,250.72h4.8v2.4h-4.8zM561.84,251.11h4.8v2.4h-4.8zM562.31,251.49h4.8v2.4h-4.8zM562.78,251.87h4.8v2.4h-4.8zM563.25,252.24h4.8v2.4h-4.8zM563.72,252.61h4.8v2.4h-4.8zM564.19,252.97h4.8v2.4h-4.8zM564.66,253.33h4.8v2.4h-4.8zM565.13,253.68h4.8v2.4h-4.8zM565.6,254.02h4.8v2.4h-4.8zM566.07,254.36h4.8v2.4h-4.8zM566.54,254.69h4.8v2.4h-4.8zM567.01,255.01h4.8v2.4h-4.8zM567.48,255.33h4.8v2.4h-4.8zM567.95,255.65h4.8v2.4h-4.8zM568.42,255.96h4.8v2.4h-4.8zM568.89,256.26h4.8v2.4h-4.8zM569.36,256.56h4.8v2.4h-4.8zM569.83,256.86h4.8v2.4h-4.8zM570.3,257.15h4.8v2.4h-4.8zM570.77,257.43h4.8v2.4h-4.8zM571.24,257.72h4.8v2.4h-4.8zM571.71,258h4.8v2.4h-4.8zM572.18,258.27h4.8v2.4h-4.8zM572.65,258.55h4.8v2.4h-4.8zM573.12,258.81h4.8v2.4h-4.8zM573.59,259.08h4.8v2.4h-4.8zM574.06,259.34h4.8v2.4h-4.8zM574.53,259.61h4.8v2.4h-4.8zM575,259.86h4.8v2.4h-4.8zM575.47,260.12h4.8v2.4h-4.8zM575.94,260.38h4.8v2.4h-4.8zM576.41,260.63h4.8v2.4h-4.8zM576.88,260.88h4.8v2.4h-4.8zM577.35,261.12h4.8v2.4h-4.8zM577.82,261.37h4.8v2.4h-4.8zM578.29,261.61h4.8v2.4h-4.8zM578.76,261.85h4.8v2.4h-4.8zM579.23,262.08h4.8v2.4h-4.8zM579.7,262.32h4.8v2.4h-4.8zM580.17,262.55h4.8v2.4h-4.8zM580.64,262.78h4.8v2.4h-4.8zM581.11,263h4.8v2.4h-4.8zM581.58,263.23h4.8v2.4h-4.8zM582.05,263.45h4.8v2.4h-4.8zM582.52,263.67h4.8v2.4h-4.8zM582.99,263.89h4.8v2.4h-4.8zM583.46,264.11h4.8v2.4h-4.8zM583.93,264.32h4.8v2.4h-4.8zM584.4,264.53h4.8v2.4h-4.8zM584.87,264.74h4.8v2.4h-4.8zM585.34,264.95h4.8v2.4h-4.8zM585.81,265.16h4.8v2.4h-4.8zM586.28,265.37h4.8v2.4h-4.8zM586.75,265.57h4.8v2.4h-4.8zM587.22,265.78h4.8v2.4h-4.8zM587.69,265.98h4.8v2.4h-4.8zM588.16,266.18h4.8v2.4h-4.8zM588.63,266.38h4.8v2.4h-4.8zM589.1,266.58h4.8v2.4h-4.8zM589.57,266.77h4.8v2.4h-4.8zM590.04,266.97h4.8v2.4h-4.8zM590.51,267.16h4.8v2.4h-4.8zM590.98,267.34h4.8v2.4h-4.8zM591.45,267.53h4.8v2.4h-4.8zM591.92,267.71h4.8v2.4h-4.8zM592.39,267.89h4.8v2.4h-4.8zM592.86,268.06h4.8v2.4h-4.8zM593.33,268.23h4.8v2.4h-4.8zM593.8,268.4h4.8v2.4h-4.8zM594.27,268.56h4.8v2.4h-4.8zM594.74,268.72h4.8v2.4h-4.8zM595.21,268.88h4.8v2.4h-4.8zM595.68,269.03h4.8v2.4h-4.8zM596.15,269.19h4.8v2.4h-4.8zM596.62,269.34h4.8v2.4h-4.8zM597.09,269.49h4.8v2.4h-4.8zM597.56,269.64h4.8v2.4h-4.8zM598.03,269.78h4.8v2.4h-4.8zM598.5,269.93h4.8v2.4h-4.8zM598.97,270.07h4.8v2.4h-4.8zM599.44,270.2h4.8v2.4h-4.8zM599.91,270.34h4.8v2.4h-4.8zM600.38,270.47h4.8v2.4h-4.8zM600.85,270.6h4.8v2.4h-4.8zM601.32,270.73h4.8v2.4h-4.8zM601.79,270.85h4.8v2.4h-4.8zM602.26,270.97h4.8v2.4h-4.8zM602.73,271.09h4.8v2.4h-4.8zM603.2,271.2h4.8v2.4h-4.8zM603.67,271.31h4.8v2.4h-4.8zM604.14,271.42h4.8v2.4h-4.8zM604.61,271.52h4.8v2.4h-4.8zM605.08,271.62h4.8v2.4h-4.8zM605.55,271.71h4.8v2.4h-4.8zM606.02,271.81h4.8v2.4h-4.8zM606.49,271.9h4.8v2.4h-4.8zM606.96,271.99h4.8v2.4h-4.8zM607.43,272.08h4.8v2.4h-4.8zM607.9,272.17h4.8v2.4h-4.8zM608.37,272.26h4.8v2.4h-4.8zM608.84,272.34h4.8v2.4h-4.8zM609.31,272.43h4.8v2.4h-4.8zM609.78,272.52h4.8v2.4h-4.8zM610.25,272.6h4.8v2.4h-4.8zM610.72,272.69h4.8v2.4h-4.8zM611.19,272.78h4.8v2.4h-4.8zM611.66,272.87h4.8v2.4h-4.8zM612.13,272.97h4.8v2.4h-4.8zM612.6,273.06h4.8v2.4h-4.8zM613.07,273.16h4.8v2.4h-4.8zM613.54,273.25h4.8v2.4h-4.8zM614.01,273.35h4.8v2.4h-4.8zM614.48,273.44h4.8v2.4h-4.8zM614.95,273.54h4.8v2.4h-4.8zM615.42,273.63h4.8v2.4h-4.8zM615.89,273.73h4.8v2.4h-4.8zM616.36,273.82h4.8v2.4h-4.8zM616.83,273.92h4.8v2.4h-4.8zM617.3,274.02h4.8v2.4h-4.8zM617.77,274.11h4.8v2.4h-4.8zM618.24,274.21h4.8v2.4h-4.8zM618.71,274.31h4.8v2.4h-4.8zM619.18,274.41h4.8v2.4h-4.8zM619.65,274.51h4.8v2.4h-4.8zM620.12,274.61h4.8v2.4h-4.8zM620.59,274.71h4.8v2.4h-4.8zM621.06,274.81h4.8v2.4h-4.8zM621.53,274.91h4.8v2.4h-4.8zM622,275h4.8v2.4h-4.8zM622.47,275.09h4.8v2.4h-4.8zM622.94,275.17h4.8v2.4h-4.8zM623.41,275.26h4.8v2.4h-4.8zM623.88,275.34h4.8v2.4h-4.8zM624.35,275.43h4.8v2.4h-4.8zM624.82,275.52h4.8v2.4h-4.8zM625.29,275.63h4.8v2.4h-4.8zM625.76,275.75h4.8v2.4h-4.8zM626.23,275.88h4.8v2.4h-4.8zM626.7,276.03h4.8v2.4h-4.8zM627.17,276.22h4.8v2.4h-4.8zM627.64,276.53h4.8v2.4h-4.8zM628.11,276.93h4.8v2.4h-4.8zM628.58,277.38h4.8v2.4h-4.8zM629.05,277.85h4.8v2.4h-4.8zM629.52,278.31h4.8v2.4h-4.8zM629.99,278.71h4.8v2.4h-4.8zM630.46,279.03h4.8v2.4h-4.8zM630.93,279.25h4.8v2.4h-4.8zM631.4,279.45h4.8v2.4h-4.8zM631.87,279.63h4.8v2.4h-4.8zM632.34,279.8h4.8v2.4h-4.8zM632.81,279.95h4.8v2.4h-4.8zM633.28,280.08h4.8v2.4h-4.8zM633.75,280.2h4.8v2.4h-4.8zM634.22,280.3h4.8v2.4h-4.8zM634.69,280.4h4.8v2.4h-4.8zM635.16,280.49h4.8v2.4h-4.8zM635.63,280.57h4.8v2.4h-4.8zM636.1,280.65h4.8v2.4h-4.8zM636.57,280.73h4.8v2.4h-4.8zM637.04,280.8h4.8v2.4h-4.8zM637.51,280.88h4.8v2.4h-4.8zM637.98,280.94h4.8v2.4h-4.8zM638.45,281.01h4.8v2.4h-4.8zM638.92,281.07h4.8v2.4h-4.8zM639.39,281.13h4.8v2.4h-4.8zM639.86,281.19h4.8v2.4h-4.8zM640.33,281.24h4.8v2.4h-4.8zM640.8,281.3h4.8v2.4h-4.8zM641.27,281.35h4.8v2.4h-4.8zM641.74,281.4h4.8v2.4h-4.8zM642.21,281.45h4.8v2.4h-4.8zM642.68,281.5h4.8v2.4h-4.8zM643.15,281.55h4.8v2.4h-4.8zM643.62,281.6h4.8v2.4h-4.8zM644.09,281.65h4.8v2.4h-4.8zM644.56,281.7h4.8v2.4h-4.8zM645.03,281.75h4.8v2.4h-4.8zM645.5,281.8h4.8v2.4h-4.8zM645.97,281.85h4.8v2.4h-4.8zM646.44,281.9h4.8v2.4h-4.8zM646.91,281.96h4.8v2.4h-4.8zM647.38,282.02h4.8v2.4h-4.8zM647.85,282.07h4.8v2.4h-4.8zM648.32,282.14h4.8v2.4h-4.8zM648.79,282.2h4.8v2.4h-4.8zM649.26,282.26h4.8v2.4h-4.8zM649.73,282.33h4.8v2.4h-4.8zM650.2,282.39h4.8v2.4h-4.8zM650.67,282.46h4.8v2.4h-4.8zM651.14,282.52h4.8v2.4h-4.8zM651.61,282.59h4.8v2.4h-4.8zM652.08,282.65h4.8v2.4h-4.8zM652.55,282.72h4.8v2.4h-4.8zM653.02,282.78h4.8v2.4h-4.8zM653.49,282.85h4.8v2.4h-4.8zM653.96,282.92h4.8v2.4h-4.8zM654.43,282.98h4.8v2.4h-4.8zM654.9,283.05h4.8v2.4h-4.8zM655.37,283.11h4.8v2.4h-4.8zM655.84,283.18h4.8v2.4h-4.8zM656.31,283.25h4.8v2.4h-4.8zM656.78,283.31h4.8v2.4h-4.8zM657.25,283.38h4.8v2.4h-4.8zM657.72,283.45h4.8v2.4h-4.8zM658.19,283.52h4.8v2.4h-4.8zM658.66,283.59h4.8v2.4h-4.8zM659.13,283.65h4.8v2.4h-4.8zM659.6,283.72h4.8v2.4h-4.8zM660.07,283.79h4.8v2.4h-4.8zM660.54,283.86h4.8v2.4h-4.8zM661.01,283.93h4.8v2.4h-4.8zM661.48,284.01h4.8v2.4h-4.8zM661.95,284.08h4.8v2.4h-4.8zM662.42,284.15h4.8v2.4h-4.8zM662.89,284.22h4.8v2.4h-4.8zM663.36,284.3h4.8v2.4h-4.8zM663.83,284.37h4.8v2.4h-4.8zM664.3,284.44h4.8v2.4h-4.8zM664.77,284.52h4.8v2.4h-4.8zM665.24,284.59h4.8v2.4h-4.8zM665.71,284.67h4.8v2.4h-4.8zM666.18,284.75h4.8v2.4h-4.8zM666.65,284.82h4.8v2.4h-4.8zM667.12,284.9h4.8v2.4h-4.8zM667.59,284.98h4.8v2.4h-4.8zM668.06,285.06h4.8v2.4h-4.8zM668.53,285.14h4.8v2.4h-4.8zM669,285.23h4.8v2.4h-4.8zM669.47,285.31h4.8v2.4h-4.8zM669.94,285.39h4.8v2.4h-4.8zM670.41,285.48h4.8v2.4h-4.8zM670.88,285.57h4.8v2.4h-4.8zM671.35,285.65h4.8v2.4h-4.8zM671.82,285.74h4.8v2.4h-4.8zM672.29,285.83h4.8v2.4h-4.8zM672.76,285.92h4.8v2.4h-4.8zM673.23,286.01h4.8v2.4h-4.8zM673.7,286.1h4.8v2.4h-4.8zM674.17,286.19h4.8v2.4h-4.8zM674.64,286.28h4.8v2.4h-4.8zM675.11,286.38h4.8v2.4h-4.8zM675.58,286.47h4.8v2.4h-4.8zM676.05,286.56h4.8v2.4h-4.8zM676.52,286.66h4.8v2.4h-4.8zM676.99,286.75h4.8v2.4h-4.8zM677.46,286.85h4.8v2.4h-4.8zM677.93,286.94h4.8v2.4h-4.8z" fill="#000"/>
<path d="M474.5,286.6h10.5v1.7h-10.5z" fill="#000"/>
<polyline points="474.4,285.4 480,285.8 489.4,287 490.4,285.5 490.9,279.1 493.2,275.9 504.1,269 516.1,264.6 528.1,261.5 533.5,259.6 535.3,258.4 538.9,258.1 552.2,260.3 560,262 578.2,265.1 596.5,267.5 614.7,269.7 633,271.1 651.2,272.4 669.5,273.7 680.6,274" fill="none" stroke="#ee1c25" stroke-width="3.5" stroke-linejoin="round" stroke-linecap="butt"/>
<rect x="473.8" y="176.4" width="207.6" height="116.3" fill="none" stroke="#000" stroke-width="1.4" />
<line x1="474.4" y1="192.56" x2="477.2" y2="192.56" stroke="#000" stroke-width="1.2" />
<text x="469.2" y="195.96" font-size="8.5" text-anchor="end" fill="#231f20" class="b" >1.2</text>
<line x1="474.4" y1="224.44" x2="477.2" y2="224.44" stroke="#000" stroke-width="1.2" />
<text x="469.2" y="227.84" font-size="8.5" text-anchor="end" fill="#231f20" class="b" >0.8</text>
<line x1="474.4" y1="256.32" x2="477.2" y2="256.32" stroke="#000" stroke-width="1.2" />
<text x="469.2" y="259.72" font-size="8.5" text-anchor="end" fill="#231f20" class="b" >0.4</text>
<line x1="474.4" y1="288.2" x2="477.2" y2="288.2" stroke="#000" stroke-width="1.2" />
<text x="469.2" y="291.6" font-size="8.5" text-anchor="end" fill="#231f20" class="b" >0</text>
<text x="473.8" y="306.5" font-size="8.5" text-anchor="middle" fill="#231f20" class="b" >0</text>
<line x1="520.9" y1="292.4" x2="520.9" y2="289.8" stroke="#000" stroke-width="1.2" />
<text x="520.9" y="306.5" font-size="8.5" text-anchor="middle" fill="#231f20" class="b" >50</text>
<line x1="568" y1="292.4" x2="568" y2="289.8" stroke="#000" stroke-width="1.2" />
<text x="568" y="306.5" font-size="8.5" text-anchor="middle" fill="#231f20" class="b" >100</text>
<line x1="615.1" y1="292.4" x2="615.1" y2="289.8" stroke="#000" stroke-width="1.2" />
<text x="615.1" y="306.5" font-size="8.5" text-anchor="middle" fill="#231f20" class="b" >150</text>
<line x1="662.2" y1="292.4" x2="662.2" y2="289.8" stroke="#000" stroke-width="1.2" />
<text x="662.2" y="306.5" font-size="8.5" text-anchor="middle" fill="#231f20" class="b" >200</text>
<text x="576.5" y="317.6" font-size="8.8" text-anchor="middle" fill="#231f20"><tspan class="b i">Time</tspan><tspan class="b"> (min)</tspan></text>
<text transform="translate(450.3 234.5) rotate(-90)" font-size="8.8" text-anchor="middle" fill="#231f20"><tspan class="b i r">S</tspan><tspan class="b r"> (x100%)</tspan></text>
<text x="442.3" y="183.1" font-size="15.2" text-anchor="start" fill="#231f20" class="b" >g</text>
<rect x="606.6" y="181.4" width="69" height="12.2" fill="#fff" stroke="#222" stroke-width="0.7" />
<text x="641.2" y="190.6" font-size="8.3" text-anchor="middle" fill="#231f20" class="b" ><tspan font-size="8.3" font-style="italic">V</tspan><tspan font-size="5.48" dy="2.24">G</tspan><tspan font-size="8.3" dy="-2.24">-</tspan><tspan font-size="8.3" font-style="italic">V</tspan><tspan font-size="5.48" dy="2.24">TH</tspan><tspan font-size="8.3" dy="-2.24"> = 14 V</tspan></text>
<line x1="609.7" y1="224.2" x2="622.5" y2="224.2" stroke="#000" stroke-width="2.4" />
<line x1="609.7" y1="235.1" x2="622.5" y2="235.1" stroke="#ee1c25" stroke-width="2.4" />
<text x="626.7" y="227.4" font-size="8.6" text-anchor="start" fill="#231f20" class="b" ><tspan font-size="8.6">Bare MoS</tspan><tspan font-size="5.68" dy="2.32">2</tspan></text>
<text x="626.7" y="238.2" font-size="8.6" text-anchor="start" fill="#231f20" class="b" ><tspan font-size="8.6">MoS</tspan><tspan font-size="5.68" dy="2.32">2</tspan><tspan font-size="8.6" dy="-2.32">/Al</tspan><tspan font-size="5.68" dy="2.32">2</tspan><tspan font-size="8.6" dy="-2.32">O</tspan><tspan font-size="5.68" dy="2.32">3</tspan></text>
</g>
<g id="ph">
<path d="M30.7,333.7l3.84,-2.71M30.7,333.7l-3.92,-2.59M30.7,333.7l-0.21,4.7M34.8,330.8l-3.84,2.71M34.8,330.8l3.92,2.59M34.8,330.8l0.21,-4.7M39.2,333.7l3.84,-2.71M39.2,333.7l-3.92,-2.59M39.2,333.7l-0.21,4.7M43.3,330.8l-3.84,2.71M43.3,330.8l3.92,2.59M43.3,330.8l0.21,-4.7M47.7,333.7l3.84,-2.71M47.7,333.7l-3.92,-2.59M47.7,333.7l-0.21,4.7M51.8,330.8l-3.84,2.71M51.8,330.8l3.92,2.59M51.8,330.8l0.21,-4.7M56.2,333.7l3.84,-2.71M56.2,333.7l-3.92,-2.59M56.2,333.7l-0.21,4.7M60.3,330.8l-3.84,2.71M60.3,330.8l3.92,2.59M60.3,330.8l0.21,-4.7M34.9,341l3.84,-2.71M34.9,341l-3.92,-2.59M34.9,341l-0.21,4.7M39,338.1l-3.84,2.71M39,338.1l3.92,2.59M39,338.1l0.21,-4.7M43.4,341l3.84,-2.71M43.4,341l-3.92,-2.59M43.4,341l-0.21,4.7M47.5,338.1l-3.84,2.71M47.5,338.1l3.92,2.59M47.5,338.1l0.21,-4.7M51.9,341l3.84,-2.71M51.9,341l-3.92,-2.59M51.9,341l-0.21,4.7M56,338.1l-3.84,2.71M56,338.1l3.92,2.59M56,338.1l0.21,-4.7M60.4,341l3.84,-2.71M60.4,341l-3.92,-2.59M60.4,341l-0.21,4.7M64.5,338.1l-3.84,2.71M64.5,338.1l3.92,2.59M64.5,338.1l0.21,-4.7M39.1,348.3l3.84,-2.71M39.1,348.3l-3.92,-2.59M39.1,348.3l-0.21,4.7M43.2,345.4l-3.84,2.71M43.2,345.4l3.92,2.59M43.2,345.4l0.21,-4.7M47.6,348.3l3.84,-2.71M47.6,348.3l-3.92,-2.59M47.6,348.3l-0.21,4.7M51.7,345.4l-3.84,2.71M51.7,345.4l3.92,2.59M51.7,345.4l0.21,-4.7M56.1,348.3l3.84,-2.71M56.1,348.3l-3.92,-2.59M56.1,348.3l-0.21,4.7M60.2,345.4l-3.84,2.71M60.2,345.4l3.92,2.59M60.2,345.4l0.21,-4.7M64.6,348.3l3.84,-2.71M64.6,348.3l-3.92,-2.59M64.6,348.3l-0.21,4.7M68.7,345.4l-3.84,2.71M68.7,345.4l3.92,2.59M68.7,345.4l0.21,-4.7M43.3,355.6l3.84,-2.71M43.3,355.6l-3.92,-2.59M43.3,355.6l-0.21,4.7M47.4,352.7l-3.84,2.71M47.4,352.7l3.92,2.59M47.4,352.7l0.21,-4.7M51.8,355.6l3.84,-2.71M51.8,355.6l-3.92,-2.59M51.8,355.6l-0.21,4.7M55.9,352.7l-3.84,2.71M55.9,352.7l3.92,2.59M55.9,352.7l0.21,-4.7M60.3,355.6l3.84,-2.71M60.3,355.6l-3.92,-2.59M60.3,355.6l-0.21,4.7M64.4,352.7l-3.84,2.71M64.4,352.7l3.92,2.59M64.4,352.7l0.21,-4.7M68.8,355.6l3.84,-2.71M68.8,355.6l-3.92,-2.59M68.8,355.6l-0.21,4.7M72.9,352.7l-3.84,2.71M72.9,352.7l3.92,2.59M72.9,352.7l0.21,-4.7" stroke="#8e8e8e" stroke-width="0.6" fill="none"/>
<path d="M39.1,348.3L47.6,348.3L51.8,355.6L43.3,355.6Z" stroke="#f03030" stroke-width="0.6" fill="none"/>
<circle cx="34.8" cy="330.8" r="1.6" fill="url(#go)"/>
<circle cx="43.3" cy="330.8" r="1.6" fill="url(#go)"/>
<circle cx="51.8" cy="330.8" r="1.6" fill="url(#go)"/>
<circle cx="60.3" cy="330.8" r="1.6" fill="url(#go)"/>
<circle cx="39" cy="338.1" r="1.6" fill="url(#go)"/>
<circle cx="47.5" cy="338.1" r="1.6" fill="url(#go)"/>
<circle cx="56" cy="338.1" r="1.6" fill="url(#go)"/>
<circle cx="64.5" cy="338.1" r="1.6" fill="url(#go)"/>
<circle cx="43.2" cy="345.4" r="1.6" fill="url(#go)"/>
<circle cx="51.7" cy="345.4" r="1.6" fill="url(#go)"/>
<circle cx="60.2" cy="345.4" r="1.6" fill="url(#go)"/>
<circle cx="68.7" cy="345.4" r="1.6" fill="url(#go)"/>
<circle cx="47.4" cy="352.7" r="1.6" fill="url(#go)"/>
<circle cx="55.9" cy="352.7" r="1.6" fill="url(#go)"/>
<circle cx="64.4" cy="352.7" r="1.6" fill="url(#go)"/>
<circle cx="72.9" cy="352.7" r="1.6" fill="url(#go)"/>
<circle cx="30.7" cy="333.7" r="2.05" fill="url(#gt)"/>
<circle cx="39.2" cy="333.7" r="2.05" fill="url(#gt)"/>
<circle cx="47.7" cy="333.7" r="2.05" fill="url(#gt)"/>
<circle cx="56.2" cy="333.7" r="2.05" fill="url(#gt)"/>
<circle cx="34.9" cy="341" r="2.05" fill="url(#gt)"/>
<circle cx="43.4" cy="341" r="2.05" fill="url(#gt)"/>
<circle cx="51.9" cy="341" r="2.05" fill="url(#gt)"/>
<circle cx="60.4" cy="341" r="2.05" fill="url(#gt)"/>
<circle cx="39.1" cy="348.3" r="2.05" fill="url(#gt)"/>
<circle cx="47.6" cy="348.3" r="2.05" fill="url(#gt)"/>
<circle cx="56.1" cy="348.3" r="2.05" fill="url(#gt)"/>
<circle cx="64.6" cy="348.3" r="2.05" fill="url(#gt)"/>
<circle cx="43.3" cy="355.6" r="2.05" fill="url(#gt)"/>
<circle cx="51.8" cy="355.6" r="2.05" fill="url(#gt)"/>
<circle cx="60.3" cy="355.6" r="2.05" fill="url(#gt)"/>
<circle cx="68.8" cy="355.6" r="2.05" fill="url(#gt)"/>
<path d="M38.2,374.2l4.1,-2.3M38.2,374.2l-4.19,-2.14M38.2,374.2l-0.18,4.7M42.3,371.9l-4.1,2.3M42.3,371.9l4.19,2.14M42.3,371.9l0.18,-4.7M46.8,374.2l4.1,-2.3M46.8,374.2l-4.19,-2.14M46.8,374.2l-0.18,4.7M50.9,371.9l-4.1,2.3M50.9,371.9l4.19,2.14M50.9,371.9l0.18,-4.7M55.4,374.2l4.1,-2.3M55.4,374.2l-4.19,-2.14M55.4,374.2l-0.18,4.7M59.5,371.9l-4.1,2.3M59.5,371.9l4.19,2.14M59.5,371.9l0.18,-4.7M64,374.2l4.1,-2.3M64,374.2l-4.19,-2.14M64,374.2l-0.18,4.7M68.1,371.9l-4.1,2.3M68.1,371.9l4.19,2.14M68.1,371.9l0.18,-4.7M42.5,381.8l4.1,-2.3M42.5,381.8l-4.19,-2.14M42.5,381.8l-0.18,4.7M46.6,379.5l-4.1,2.3M46.6,379.5l4.19,2.14M46.6,379.5l0.18,-4.7M51.1,381.8l4.1,-2.3M51.1,381.8l-4.19,-2.14M51.1,381.8l-0.18,4.7M55.2,379.5l-4.1,2.3M55.2,379.5l4.19,2.14M55.2,379.5l0.18,-4.7M59.7,381.8l4.1,-2.3M59.7,381.8l-4.19,-2.14M59.7,381.8l-0.18,4.7M63.8,379.5l-4.1,2.3M63.8,379.5l4.19,2.14M63.8,379.5l0.18,-4.7M68.3,381.8l4.1,-2.3M68.3,381.8l-4.19,-2.14M68.3,381.8l-0.18,4.7M72.4,379.5l-4.1,2.3M72.4,379.5l4.19,2.14M72.4,379.5l0.18,-4.7M46.8,389.4l4.1,-2.3M46.8,389.4l-4.19,-2.14M46.8,389.4l-0.18,4.7M50.9,387.1l-4.1,2.3M50.9,387.1l4.19,2.14M50.9,387.1l0.18,-4.7M55.4,389.4l4.1,-2.3M55.4,389.4l-4.19,-2.14M55.4,389.4l-0.18,4.7M59.5,387.1l-4.1,2.3M59.5,387.1l4.19,2.14M59.5,387.1l0.18,-4.7M64,389.4l4.1,-2.3M64,389.4l-4.19,-2.14M64,389.4l-0.18,4.7M68.1,387.1l-4.1,2.3M68.1,387.1l4.19,2.14M68.1,387.1l0.18,-4.7M72.6,389.4l4.1,-2.3M72.6,389.4l-4.19,-2.14M72.6,389.4l-0.18,4.7M76.7,387.1l-4.1,2.3M76.7,387.1l4.19,2.14M76.7,387.1l0.18,-4.7M51.1,397l4.1,-2.3M51.1,397l-4.19,-2.14M51.1,397l-0.18,4.7M55.2,394.7l-4.1,2.3M55.2,394.7l4.19,2.14M55.2,394.7l0.18,-4.7M59.7,397l4.1,-2.3M59.7,397l-4.19,-2.14M59.7,397l-0.18,4.7M63.8,394.7l-4.1,2.3M63.8,394.7l4.19,2.14M63.8,394.7l0.18,-4.7M68.3,397l4.1,-2.3M68.3,397l-4.19,-2.14M68.3,397l-0.18,4.7M72.4,394.7l-4.1,2.3M72.4,394.7l4.19,2.14M72.4,394.7l0.18,-4.7M76.9,397l4.1,-2.3M76.9,397l-4.19,-2.14M76.9,397l-0.18,4.7M81,394.7l-4.1,2.3M81,394.7l4.19,2.14M81,394.7l0.18,-4.7" stroke="#8e8e8e" stroke-width="0.6" fill="none"/>
<path d="M46.8,389.4L55.4,389.4L59.7,397L51.1,397Z" stroke="#f03030" stroke-width="0.6" fill="none"/>
<circle cx="42.3" cy="371.9" r="1.6" fill="url(#go)"/>
<circle cx="50.9" cy="371.9" r="1.6" fill="url(#go)"/>
<circle cx="59.5" cy="371.9" r="1.6" fill="url(#go)"/>
<circle cx="68.1" cy="371.9" r="1.6" fill="url(#go)"/>
<circle cx="46.6" cy="379.5" r="1.6" fill="url(#go)"/>
<circle cx="55.2" cy="379.5" r="1.6" fill="url(#go)"/>
<circle cx="63.8" cy="379.5" r="1.6" fill="url(#go)"/>
<circle cx="72.4" cy="379.5" r="1.6" fill="url(#go)"/>
<circle cx="50.9" cy="387.1" r="1.6" fill="url(#go)"/>
<circle cx="59.5" cy="387.1" r="1.6" fill="url(#go)"/>
<circle cx="68.1" cy="387.1" r="1.6" fill="url(#go)"/>
<circle cx="76.7" cy="387.1" r="1.6" fill="url(#go)"/>
<circle cx="55.2" cy="394.7" r="1.6" fill="url(#go)"/>
<circle cx="63.8" cy="394.7" r="1.6" fill="url(#go)"/>
<circle cx="72.4" cy="394.7" r="1.6" fill="url(#go)"/>
<circle cx="81" cy="394.7" r="1.6" fill="url(#go)"/>
<circle cx="38.2" cy="374.2" r="2.05" fill="url(#gbl)"/>
<circle cx="46.8" cy="374.2" r="2.05" fill="url(#gbl)"/>
<circle cx="55.4" cy="374.2" r="2.05" fill="url(#gbl)"/>
<circle cx="64" cy="374.2" r="2.05" fill="url(#gbl)"/>
<circle cx="42.5" cy="381.8" r="2.05" fill="url(#gbl)"/>
<circle cx="51.1" cy="381.8" r="2.05" fill="url(#gbl)"/>
<circle cx="59.7" cy="381.8" r="2.05" fill="url(#gbl)"/>
<circle cx="68.3" cy="381.8" r="2.05" fill="url(#gbl)"/>
<circle cx="46.8" cy="389.4" r="2.05" fill="url(#gbl)"/>
<circle cx="55.4" cy="389.4" r="2.05" fill="url(#gbl)"/>
<circle cx="64" cy="389.4" r="2.05" fill="url(#gbl)"/>
<circle cx="72.6" cy="389.4" r="2.05" fill="url(#gbl)"/>
<circle cx="51.1" cy="397" r="2.05" fill="url(#gbl)"/>
<circle cx="59.7" cy="397" r="2.05" fill="url(#gbl)"/>
<circle cx="68.3" cy="397" r="2.05" fill="url(#gbl)"/>
<circle cx="76.9" cy="397" r="2.05" fill="url(#gbl)"/>
<text x="73.6" y="342.8" font-size="9" text-anchor="start" fill="#231f20" class="b" textLength="26.2" lengthAdjust="spacingAndGlyphs"><tspan font-size="9">MoSe</tspan><tspan font-size="5.94" dy="2.43">2</tspan></text>
<text x="86.2" y="388.7" font-size="9" text-anchor="start" fill="#231f20" class="b" textLength="21.5" lengthAdjust="spacingAndGlyphs"><tspan font-size="9">WSe</tspan><tspan font-size="5.94" dy="2.43">2</tspan></text>
<text x="2.3" y="337.5" font-size="14.8" text-anchor="start" fill="#231f20" class="b" >h</text>
<path d="M91.5,362.6H108.8V358.2L124.2,366L108.8,373.8V369.4H91.5Z" fill="#646464"/>
</g>
<g id="pi">
<path d="M143.8,344.78L149.58,340.75M143.8,344.78l3.64,-2.1M143.8,344.78l-3.64,-2.1M143.8,344.78l0,4.2M154.84,344.78L149.58,340.75M154.84,344.78L160.44,340.75M154.84,344.78L154.84,350.03M154.84,344.78l3.64,-2.1M154.84,344.78l-3.64,-2.1M154.84,344.78l0,4.2M166.22,344.42L160.44,340.75M166.22,344.42L171.83,340.75M166.22,344.42L166.22,350.91M166.22,344.42l3.64,-2.1M166.22,344.42l-3.64,-2.1M166.22,344.42l0,4.2M177.61,344.78L171.83,340.75M177.61,344.78L183.22,341.27M177.61,344.78L177.61,350.91M177.61,344.78l3.64,-2.1M177.61,344.78l-3.64,-2.1M177.61,344.78l0,4.2M149.05,354.06L154.84,350.03M149.05,354.06L149.05,357.91M149.05,354.06l3.64,-2.1M149.05,354.06l-3.64,-2.1M149.05,354.06l0,4.2M160.44,354.06L154.84,350.03M160.44,354.06L166.22,350.91M160.44,354.06L160.44,359.67M160.44,354.06l3.64,-2.1M160.44,354.06l-3.64,-2.1M160.44,354.06l0,4.2M171.83,354.41L166.22,350.91M171.83,354.41L177.61,350.91M171.83,354.41L171.83,357.04M171.83,354.41l3.64,-2.1M171.83,354.41l-3.64,-2.1M171.83,354.41l0,4.2M183.22,354.41L177.61,350.91M183.22,354.41L188.82,350.91M183.22,354.41L183.22,360.54M183.22,354.41l3.64,-2.1M183.22,354.41l-3.64,-2.1M183.22,354.41l0,4.2M154.84,363.52L149.05,357.91M154.84,363.52L160.44,359.67M154.84,363.52L155.19,367.9M154.84,363.52l3.64,-2.1M154.84,363.52l-3.64,-2.1M154.84,363.52l0,4.2M166.22,364.05L160.44,359.67M166.22,364.05L166.22,369.65M166.22,364.05l3.64,-2.1M166.22,364.05l-3.64,-2.1M166.22,364.05l0,4.2M177.61,364.05L183.22,360.54M177.61,364.05L177.61,370.18M177.61,364.05l3.64,-2.1M177.61,364.05l-3.64,-2.1M177.61,364.05l0,4.2M188.82,364.05L183.22,360.54M188.82,364.05L194.25,360.54M188.82,364.05L188.82,370.18M188.82,364.05l3.64,-2.1M188.82,364.05l-3.64,-2.1M188.82,364.05l0,4.2M160.44,372.81L155.19,367.9M160.44,372.81L166.22,369.65M160.44,372.81L161.32,378.06M160.44,372.81l3.64,-2.1M160.44,372.81l-3.64,-2.1M160.44,372.81l0,4.2M171.83,373.33L166.22,369.65M171.83,373.33L177.61,370.18M171.83,373.33L172.7,378.41M171.83,373.33l3.64,-2.1M171.83,373.33l-3.64,-2.1M171.83,373.33l0,4.2M183.22,373.68L177.61,370.18M183.22,373.68L188.82,370.18M183.22,373.68L184.09,378.06M183.22,373.68l3.64,-2.1M183.22,373.68l-3.64,-2.1M183.22,373.68l0,4.2M194.25,373.68L188.82,370.18M194.25,373.68L199.86,370.18M194.25,373.68L198.11,378.06M194.25,373.68l3.64,-2.1M194.25,373.68l-3.64,-2.1M194.25,373.68l0,4.2M137.67,350.03l3.64,-2.1M137.67,350.03l-3.64,-2.1M137.67,350.03l0,4.2M149.05,349.68L154.84,350.03M149.05,349.68l3.64,-2.1M149.05,349.68l-3.64,-2.1M149.05,349.68l0,4.2M160.44,350.03L154.84,350.03M160.44,350.03L166.22,350.91M160.44,350.03l3.64,-2.1M160.44,350.03l-3.64,-2.1M160.44,350.03l0,4.2M142.92,360.89L149.05,357.91M142.92,360.89l3.64,-2.1M142.92,360.89l-3.64,-2.1M142.92,360.89l0,4.2M154.84,359.67L149.05,357.91M154.84,359.67L160.44,359.67M154.84,359.67l3.64,-2.1M154.84,359.67l-3.64,-2.1M154.84,359.67l0,4.2M166.22,360.54L160.44,359.67M166.22,360.54L171.83,357.04M166.22,360.54l3.64,-2.1M166.22,360.54l-3.64,-2.1M166.22,360.54l0,4.2M149.05,371.4L155.19,367.9M149.05,371.4l3.64,-2.1M149.05,371.4l-3.64,-2.1M149.05,371.4l0,4.2M160.44,370.18L155.19,367.9M160.44,370.18L166.22,369.65M160.44,370.18L161.32,378.06M160.44,370.18l3.64,-2.1M160.44,370.18l-3.64,-2.1M160.44,370.18l0,4.2M171.83,371.05L166.22,369.65M171.83,371.05L177.61,370.18M171.83,371.05L172.7,378.41M171.83,371.05l3.64,-2.1M171.83,371.05l-3.64,-2.1M171.83,371.05l0,4.2M155.19,382.09L161.32,378.06M155.19,382.09l3.64,-2.1M155.19,382.09l-3.64,-2.1M155.19,382.09l0,4.2M166.57,382.09L161.32,378.06M166.57,382.09L172.7,378.41M166.57,382.09l3.64,-2.1M166.57,382.09l-3.64,-2.1M166.57,382.09l0,4.2M179.71,381.57L172.7,378.41M179.71,381.57L184.09,378.06M179.71,381.57l3.64,-2.1M179.71,381.57l-3.64,-2.1M179.71,381.57l0,4.2M191.1,381.57L184.09,378.06M191.1,381.57L198.11,378.06M191.1,381.57l3.64,-2.1M191.1,381.57l-3.64,-2.1M191.1,381.57l0,4.2" stroke="#8e8e8e" stroke-width="0.6" fill="none"/>
<path d="M149.05,371.4L160.44,371.4L166.57,380.69L155.19,381.57Z" stroke="#f03030" stroke-width="0.6" fill="none"/>
<path d="M154.84,363.52L166.22,364.05L171.83,373.33L160.44,372.81Z" stroke="#f03030" stroke-width="0.6" fill="none"/>
<circle cx="149.58" cy="340.75" r="2" fill="url(#go)"/>
<circle cx="160.44" cy="340.75" r="2" fill="url(#go)"/>
<circle cx="171.83" cy="340.75" r="2" fill="url(#go)"/>
<circle cx="183.22" cy="341.27" r="2" fill="url(#go)"/>
<circle cx="154.84" cy="350.03" r="2" fill="url(#go)"/>
<circle cx="166.22" cy="350.91" r="2" fill="url(#go)"/>
<circle cx="177.61" cy="350.91" r="2" fill="url(#go)"/>
<circle cx="188.82" cy="350.91" r="2" fill="url(#go)"/>
<circle cx="149.05" cy="357.91" r="2" fill="url(#go)"/>
<circle cx="160.44" cy="359.67" r="2" fill="url(#go)"/>
<circle cx="171.83" cy="357.04" r="2" fill="url(#go)"/>
<circle cx="183.22" cy="360.54" r="2" fill="url(#go)"/>
<circle cx="194.25" cy="360.54" r="2" fill="url(#go)"/>
<circle cx="155.19" cy="367.9" r="2" fill="url(#go)"/>
<circle cx="166.22" cy="369.65" r="2" fill="url(#go)"/>
<circle cx="177.61" cy="370.18" r="2" fill="url(#go)"/>
<circle cx="188.82" cy="370.18" r="2" fill="url(#go)"/>
<circle cx="199.86" cy="370.18" r="2" fill="url(#go)"/>
<circle cx="161.32" cy="378.06" r="2" fill="url(#go)"/>
<circle cx="172.7" cy="378.41" r="2" fill="url(#go)"/>
<circle cx="184.09" cy="378.06" r="2" fill="url(#go)"/>
<circle cx="198.11" cy="378.06" r="2" fill="url(#go)"/>
<circle cx="137.67" cy="350.03" r="2.75" fill="url(#gt)"/>
<circle cx="149.05" cy="349.68" r="2.75" fill="url(#gt)"/>
<circle cx="160.44" cy="350.03" r="2.75" fill="url(#gt)"/>
<circle cx="142.92" cy="360.89" r="2.75" fill="url(#gt)"/>
<circle cx="154.84" cy="359.67" r="2.75" fill="url(#gt)"/>
<circle cx="166.22" cy="360.54" r="2.75" fill="url(#gt)"/>
<circle cx="149.05" cy="371.4" r="2.75" fill="url(#gt)"/>
<circle cx="160.44" cy="370.18" r="2.75" fill="url(#gt)"/>
<circle cx="171.83" cy="371.05" r="2.75" fill="url(#gt)"/>
<circle cx="155.19" cy="382.09" r="2.75" fill="url(#gt)"/>
<circle cx="166.57" cy="382.09" r="2.75" fill="url(#gt)"/>
<circle cx="179.71" cy="381.57" r="2.75" fill="url(#gt)"/>
<circle cx="191.1" cy="381.57" r="2.75" fill="url(#gt)"/>
<circle cx="143.8" cy="344.78" r="2.95" fill="url(#gbl)"/>
<circle cx="154.84" cy="344.78" r="2.95" fill="url(#gbl)"/>
<circle cx="166.22" cy="344.42" r="2.95" fill="url(#gbl)"/>
<circle cx="177.61" cy="344.78" r="2.95" fill="url(#gbl)"/>
<circle cx="149.05" cy="354.06" r="2.95" fill="url(#gbl)"/>
<circle cx="160.44" cy="354.06" r="2.95" fill="url(#gbl)"/>
<circle cx="171.83" cy="354.41" r="2.95" fill="url(#gbl)"/>
<circle cx="183.22" cy="354.41" r="2.95" fill="url(#gbl)"/>
<circle cx="154.84" cy="363.52" r="2.95" fill="url(#gbl)"/>
<circle cx="166.22" cy="364.05" r="2.95" fill="url(#gbl)"/>
<circle cx="177.61" cy="364.05" r="2.95" fill="url(#gbl)"/>
<circle cx="188.82" cy="364.05" r="2.95" fill="url(#gbl)"/>
<circle cx="160.44" cy="372.81" r="2.95" fill="url(#gbl)"/>
<circle cx="171.83" cy="373.33" r="2.95" fill="url(#gbl)"/>
<circle cx="183.22" cy="373.68" r="2.95" fill="url(#gbl)"/>
<circle cx="194.25" cy="373.68" r="2.95" fill="url(#gbl)"/>
<circle cx="152.56" cy="354.41" r="1.9" fill="url(#gr)"/>
<circle cx="155.71" cy="354.41" r="1.9" fill="url(#gr)"/>
<circle cx="169.55" cy="347.05" r="1.9" fill="url(#gr)"/>
<circle cx="172.18" cy="348.28" r="1.9" fill="url(#gr)"/>
<circle cx="178.84" cy="357.56" r="1.9" fill="url(#gr)"/>
<circle cx="181.46" cy="355.29" r="1.9" fill="url(#gr)"/>
<circle cx="169.55" cy="367.55" r="1.9" fill="url(#gr)"/>
<circle cx="171.83" cy="369.65" r="1.9" fill="url(#gr)"/>
<circle cx="157.46" cy="378.94" r="1.9" fill="url(#gr)"/>
<circle cx="159.92" cy="376.31" r="1.9" fill="url(#gr)"/>
<circle cx="191.98" cy="367.55" r="1.9" fill="url(#gr)"/>
<circle cx="194.6" cy="370.18" r="1.9" fill="url(#gr)"/>
<circle cx="184.09" cy="380.69" r="1.9" fill="url(#gr)"/>
<circle cx="187.07" cy="380.69" r="1.9" fill="url(#gr)"/>
<text x="193.3" y="366.8" font-size="5.6" text-anchor="start" fill="#231f20" class="b" ><tspan font-size="5.6">O</tspan><tspan font-size="3.7" dy="1.51">2</tspan><tspan font-size="3.7" dy="-3.64">-</tspan></text>
<rect x="125.4" y="330.4" width="9.6" height="9.1" fill="#fff" stroke="#8a8a8a" stroke-width="0.7" />
<rect x="126.6" y="331.6" width="1.3" height="6.8" fill="#d06a20" stroke="none" stroke-width="1" />
<text x="131.2" y="337.4" font-size="5" text-anchor="middle" fill="#231f20" class="b" >R</text>
<path d="M128,351 C128.5,347 129.5,345 131,342.6" fill="none" stroke="#000" stroke-width="2.6"/>
<path d="M131.6,340.3 L133.3,344.2 L129.2,343.4Z" fill="#000"/>
<path d="M129.5,354.3 C134,356 139,354.5 142,351.3" fill="none" stroke="#000" stroke-width="2.7"/>
<path d="M152.5,336.3 C155,335 157.5,335.5 159,337.4" fill="none" stroke="#000" stroke-width="2.7"/>
<path d="M161.6,341 C161.5,345 159,348.5 155.5,350.6" fill="none" stroke="#000" stroke-width="2.7"/>
<circle cx="127.5" cy="353.2" r="2.5" fill="#fff" stroke="#000" stroke-width="0.7"/>
<text x="127.3" y="354.3" font-size="3.4" text-anchor="middle" fill="#231f20" class="b" ><tspan font-size="3.4">e</tspan><tspan font-size="2.24" dy="-1.29">-</tspan></text>
<circle cx="160.4" cy="339" r="2.5" fill="#fff" stroke="#000" stroke-width="0.7"/>
<text x="160.2" y="340.1" font-size="3.4" text-anchor="middle" fill="#231f20" class="b" ><tspan font-size="3.4">e</tspan><tspan font-size="2.24" dy="-1.29">-</tspan></text>
<circle cx="144.7" cy="330.6" r="1.85" fill="#1c22f0" />
<circle cx="145.3" cy="333.8" r="1.85" fill="#1c22f0" />
<circle cx="164" cy="330.6" r="1.85" fill="#1c22f0" />
<circle cx="165.2" cy="333.8" r="1.85" fill="#1c22f0" />
<text x="147.4" y="332.4" font-size="5.3" text-anchor="start" fill="#231f20" class="b" ><tspan font-size="5.3">H</tspan><tspan font-size="3.5" dy="1.43">2</tspan></text>
<line x1="153.6" y1="330.8" x2="159.5" y2="330.8" stroke="#111" stroke-width="0.7" stroke-dasharray="1.3 0.8"/>
<path d="M161.3,330.8 L159,329.7 L159,331.9Z" fill="#111"/>
<text x="168.3" y="332.4" font-size="5.3" text-anchor="start" fill="#231f20" class="b" ><tspan font-size="5.3">H</tspan><tspan font-size="3.5" dy="1.43">2</tspan><tspan font-size="3.5" dy="-3.44">+</tspan></text>
<text x="147.7" y="396.6" font-size="9" text-anchor="start" fill="#231f20" class="b" textLength="51.3" lengthAdjust="spacingAndGlyphs"><tspan font-size="9">MoSe</tspan><tspan font-size="5.94" dy="2.43">2</tspan><tspan font-size="9" dy="-2.43">-WSe</tspan><tspan font-size="5.94" dy="2.43">2</tspan></text>
<text x="111.6" y="337.5" font-size="14.8" text-anchor="start" fill="#231f20" class="b" >i</text>
</g>
<g id="pj">
<rect x="49.6" y="416.7" width="15.1" height="73.7" fill="#d9e6f7" stroke="none" stroke-width="1" />
<line x1="21.4" y1="420.4" x2="91.8" y2="420.4" stroke="#111" stroke-width="1.1" stroke-dasharray="6.6 3.6"/>
<line x1="44.8" y1="420.4" x2="44.8" y2="454.3" stroke="#333" stroke-width="0.6" />
<line x1="88.6" y1="420.4" x2="88.6" y2="460" stroke="#333" stroke-width="0.6" />
<line x1="51.7" y1="428.5" x2="62.6" y2="428.5" stroke="#c2611f" stroke-width="1.5" />
<path d="M49.9,428.5l3,-1.9v3.8zM64.4,428.5l-3,-1.9v3.8z" fill="#c2611f"/>
<text x="57.1" y="435.4" font-size="3.9" text-anchor="middle" fill="#4c5c86" stroke="#4c5c86" stroke-width="0.1">Small</text>
<text x="57.1" y="439.8" font-size="3.9" text-anchor="middle" fill="#4c5c86" stroke="#4c5c86" stroke-width="0.1">depletion</text>
<text x="57.1" y="444.2" font-size="3.9" text-anchor="middle" fill="#4c5c86" stroke="#4c5c86" stroke-width="0.1">region</text>
<line x1="21.4" y1="454.8" x2="49.1" y2="454.8" stroke="#f0474b" stroke-width="1.4" />
<line x1="64.7" y1="460.3" x2="91.4" y2="460.3" stroke="#2bb24c" stroke-width="1.4" />
<line x1="21.4" y1="480.8" x2="49.1" y2="480.8" stroke="#f0474b" stroke-width="1.4" />
<line x1="64.7" y1="486.6" x2="91.4" y2="486.6" stroke="#2bb24c" stroke-width="1.4" />
<line x1="22.2" y1="473" x2="92.2" y2="472.3" stroke="#1cb4f2" stroke-width="1.2" stroke-dasharray="6.6 3.6"/>
<path d="M49.1,454.2 C56.12,454.8 54.56,460.6 58.46,460.6 L64.7,460.3" fill="none" stroke="#111" stroke-width="1" stroke-dasharray="1 0.9"/>
<path d="M49.1,480.2 C56.12,480.8 54.56,486.9 58.46,486.9 L64.7,486.6" fill="none" stroke="#111" stroke-width="1" stroke-dasharray="1 0.9"/>
<path d="M49.6,450.4 C56.9,451 55.34,457.5 63.7,457.6" fill="none" stroke="#a0522d" stroke-width="0.8"/>
<path d="M49.6,484.4 C56.9,484.4 55.34,489.5 62.7,489.6" fill="none" stroke="#a0522d" stroke-width="0.8"/>
<circle cx="25.6" cy="450.5" r="2.5" fill="#e4f0fc" stroke="#2b6fc2" stroke-width="0.8"/><path d="M24.1,450.5h3" stroke="#1a1a1a" stroke-width="0.9" fill="none"/>
<circle cx="34.6" cy="450.5" r="2.5" fill="#e4f0fc" stroke="#2b6fc2" stroke-width="0.8"/><path d="M33.1,450.5h3" stroke="#1a1a1a" stroke-width="0.9" fill="none"/>
<circle cx="43.8" cy="450.5" r="2.5" fill="#e4f0fc" stroke="#2b6fc2" stroke-width="0.8"/><path d="M42.3,450.5h3" stroke="#1a1a1a" stroke-width="0.9" fill="none"/>
<circle cx="68.3" cy="456.5" r="2.5" fill="#e4f0fc" stroke="#2b6fc2" stroke-width="0.8"/><path d="M66.8,456.5h3" stroke="#1a1a1a" stroke-width="0.9" fill="none"/>
<circle cx="76.4" cy="456.5" r="2.5" fill="#e4f0fc" stroke="#2b6fc2" stroke-width="0.8"/><path d="M74.9,456.5h3" stroke="#1a1a1a" stroke-width="0.9" fill="none"/>
<circle cx="85" cy="456.5" r="2.5" fill="#e4f0fc" stroke="#2b6fc2" stroke-width="0.8"/><path d="M83.5,456.5h3" stroke="#1a1a1a" stroke-width="0.9" fill="none"/>
<circle cx="25.6" cy="486.2" r="2.5" fill="#e4f0fc" stroke="#2b6fc2" stroke-width="0.8"/><path d="M24.1,486.2h3M25.6,484.7v3" stroke="#1a1a1a" stroke-width="0.9" fill="none"/><circle cx="25.6" cy="486.2" r="1.1" fill="#1a1a1a"/>
<circle cx="33.1" cy="486.2" r="2.5" fill="#e4f0fc" stroke="#2b6fc2" stroke-width="0.8"/><path d="M31.6,486.2h3M33.1,484.7v3" stroke="#1a1a1a" stroke-width="0.9" fill="none"/><circle cx="33.1" cy="486.2" r="1.1" fill="#1a1a1a"/>
<circle cx="40.6" cy="486.2" r="2.5" fill="#e4f0fc" stroke="#2b6fc2" stroke-width="0.8"/><path d="M39.1,486.2h3M40.6,484.7v3" stroke="#1a1a1a" stroke-width="0.9" fill="none"/><circle cx="40.6" cy="486.2" r="1.1" fill="#1a1a1a"/>
<circle cx="68.3" cy="491" r="2.5" fill="#e4f0fc" stroke="#2b6fc2" stroke-width="0.8"/><path d="M66.8,491h3M68.3,489.5v3" stroke="#1a1a1a" stroke-width="0.9" fill="none"/><circle cx="68.3" cy="491" r="1.1" fill="#1a1a1a"/>
<circle cx="77.3" cy="491" r="2.5" fill="#e4f0fc" stroke="#2b6fc2" stroke-width="0.8"/><path d="M75.8,491h3M77.3,489.5v3" stroke="#1a1a1a" stroke-width="0.9" fill="none"/><circle cx="77.3" cy="491" r="1.1" fill="#1a1a1a"/>
<circle cx="85.4" cy="491" r="2.5" fill="#e4f0fc" stroke="#2b6fc2" stroke-width="0.8"/><path d="M83.9,491h3M85.4,489.5v3" stroke="#1a1a1a" stroke-width="0.9" fill="none"/><circle cx="85.4" cy="491" r="1.1" fill="#1a1a1a"/>
<text x="9" y="422.6" font-size="6.6" text-anchor="start" fill="#231f20" class="m" ><tspan font-size="6.6">E</tspan><tspan font-size="3.96" dy="1.78">vac</tspan></text>
<text x="94" y="422.6" font-size="6.6" text-anchor="start" fill="#231f20" class="m" ><tspan font-size="6.6">E</tspan><tspan font-size="3.96" dy="1.78">vac</tspan></text>
<text x="13.9" y="456" font-size="6.6" text-anchor="start" fill="#231f20" class="m" ><tspan font-size="6.6">E</tspan><tspan font-size="3.96" dy="1.78">c</tspan></text>
<text x="92.9" y="461.8" font-size="6.6" text-anchor="start" fill="#231f20" class="m" ><tspan font-size="6.6">E</tspan><tspan font-size="3.96" dy="1.78">c</tspan></text>
<text x="94" y="474" font-size="6.6" text-anchor="start" fill="#231f20" class="m" ><tspan font-size="6.6">E</tspan><tspan font-size="3.96" dy="1.78">f</tspan></text>
<text x="13.9" y="482" font-size="6.6" text-anchor="start" fill="#231f20" class="m" ><tspan font-size="6.6">E</tspan><tspan font-size="3.96" dy="1.78">v</tspan></text>
<text x="92.9" y="488" font-size="6.6" text-anchor="start" fill="#231f20" class="m" ><tspan font-size="6.6">E</tspan><tspan font-size="3.96" dy="1.78">v</tspan></text>
<text x="23.9" y="430.3" font-size="3.8" text-anchor="start" fill="#231f20" stroke="#231f20" stroke-width="0.1" textLength="19.9" lengthAdjust="spacingAndGlyphs">x = 3.7eV</text>
<text x="90.1" y="436.5" font-size="3.8" text-anchor="start" fill="#231f20" stroke="#231f20" stroke-width="0.1" textLength="20.9" lengthAdjust="spacingAndGlyphs">x = 3.91eV</text>
<text x="27.8" y="500.2" font-size="6.4" text-anchor="start" fill="#231f20" class="m" textLength="14.9" lengthAdjust="spacingAndGlyphs"><tspan font-size="6.4">WSe</tspan><tspan font-size="4.22" dy="1.73">2</tspan></text>
<text x="73.7" y="500.2" font-size="6.4" text-anchor="start" fill="#231f20" class="m" textLength="17.7" lengthAdjust="spacingAndGlyphs"><tspan font-size="6.4">MoSe</tspan><tspan font-size="4.22" dy="1.73">2</tspan></text>
<text x="24.6" y="511.8" font-size="7.35" text-anchor="start" fill="#8c3b1e" class="b" textLength="72.6" lengthAdjust="spacingAndGlyphs">Low-resistance state</text>
<rect x="164" y="415.7" width="23.1" height="73" fill="#d9e6f7" stroke="none" stroke-width="1" />
<line x1="140.1" y1="420.4" x2="209.3" y2="420.4" stroke="#111" stroke-width="1.1" stroke-dasharray="6.6 3.6"/>
<line x1="162.5" y1="420.4" x2="162.5" y2="454.3" stroke="#333" stroke-width="0.6" />
<line x1="206.7" y1="420.4" x2="206.7" y2="460" stroke="#333" stroke-width="0.6" />
<line x1="166.2" y1="428" x2="184.9" y2="428" stroke="#c2611f" stroke-width="1.5" />
<path d="M164.4,428l3,-1.9v3.8zM186.7,428l-3,-1.9v3.8z" fill="#c2611f"/>
<text x="174.8" y="434.6" font-size="3.9" text-anchor="middle" fill="#4c5c86" stroke="#4c5c86" stroke-width="0.1">Large</text>
<text x="174.8" y="438.9" font-size="3.9" text-anchor="middle" fill="#4c5c86" stroke="#4c5c86" stroke-width="0.1">depletion</text>
<text x="174.8" y="443.4" font-size="3.9" text-anchor="middle" fill="#4c5c86" stroke="#4c5c86" stroke-width="0.1">region</text>
<line x1="139.5" y1="454.8" x2="164" y2="454.8" stroke="#f0474b" stroke-width="1.4" />
<line x1="182.2" y1="460.3" x2="208.9" y2="460.3" stroke="#2bb24c" stroke-width="1.4" />
<line x1="139.5" y1="479.3" x2="166" y2="479.3" stroke="#f0474b" stroke-width="1.4" />
<line x1="183.8" y1="486.6" x2="210.9" y2="486.6" stroke="#2bb24c" stroke-width="1.4" />
<line x1="140.3" y1="474.4" x2="209.7" y2="474.4" stroke="#1cb4f2" stroke-width="1.2" stroke-dasharray="6.6 3.6"/>
<path d="M164,454.2 C172.19,454.8 170.37,460.6 174.92,460.6 L182.2,460.3" fill="none" stroke="#111" stroke-width="1" stroke-dasharray="1 0.9"/>
<path d="M164,478.7 C172.19,479.3 170.37,486.9 174.92,486.9 L182.2,486.6" fill="none" stroke="#111" stroke-width="1" stroke-dasharray="1 0.9"/>
<path d="M164.5,450.4 C173.1,451 171.28,457.5 181.2,457.6" fill="none" stroke="#a0522d" stroke-width="0.8"/>
<path d="M164.5,482.9 C173.1,482.9 171.28,489.5 180.2,489.6" fill="none" stroke="#a0522d" stroke-width="0.8"/>
<circle cx="143.1" cy="450.5" r="2.5" fill="#e4f0fc" stroke="#2b6fc2" stroke-width="0.8"/><path d="M141.6,450.5h3" stroke="#1a1a1a" stroke-width="0.9" fill="none"/>
<circle cx="152.3" cy="450.5" r="2.5" fill="#e4f0fc" stroke="#2b6fc2" stroke-width="0.8"/><path d="M150.8,450.5h3" stroke="#1a1a1a" stroke-width="0.9" fill="none"/>
<circle cx="160.4" cy="450.5" r="2.5" fill="#e4f0fc" stroke="#2b6fc2" stroke-width="0.8"/><path d="M158.9,450.5h3" stroke="#1a1a1a" stroke-width="0.9" fill="none"/>
<circle cx="189.6" cy="456.5" r="2.5" fill="#e4f0fc" stroke="#2b6fc2" stroke-width="0.8"/><path d="M188.1,456.5h3" stroke="#1a1a1a" stroke-width="0.9" fill="none"/>
<circle cx="196.7" cy="456.5" r="2.5" fill="#e4f0fc" stroke="#2b6fc2" stroke-width="0.8"/><path d="M195.2,456.5h3" stroke="#1a1a1a" stroke-width="0.9" fill="none"/>
<circle cx="203.9" cy="456.5" r="2.5" fill="#e4f0fc" stroke="#2b6fc2" stroke-width="0.8"/><path d="M202.4,456.5h3" stroke="#1a1a1a" stroke-width="0.9" fill="none"/>
<circle cx="144.4" cy="485.2" r="2.5" fill="#e4f0fc" stroke="#2b6fc2" stroke-width="0.8"/><path d="M142.9,485.2h3M144.4,483.7v3" stroke="#1a1a1a" stroke-width="0.9" fill="none"/><circle cx="144.4" cy="485.2" r="1.1" fill="#1a1a1a"/>
<circle cx="152.5" cy="485.2" r="2.5" fill="#e4f0fc" stroke="#2b6fc2" stroke-width="0.8"/><path d="M151,485.2h3M152.5,483.7v3" stroke="#1a1a1a" stroke-width="0.9" fill="none"/><circle cx="152.5" cy="485.2" r="1.1" fill="#1a1a1a"/>
<circle cx="160.4" cy="485.2" r="2.5" fill="#e4f0fc" stroke="#2b6fc2" stroke-width="0.8"/><path d="M158.9,485.2h3M160.4,483.7v3" stroke="#1a1a1a" stroke-width="0.9" fill="none"/><circle cx="160.4" cy="485.2" r="1.1" fill="#1a1a1a"/>
<circle cx="189.6" cy="491" r="2.5" fill="#e4f0fc" stroke="#2b6fc2" stroke-width="0.8"/><path d="M188.1,491h3M189.6,489.5v3" stroke="#1a1a1a" stroke-width="0.9" fill="none"/><circle cx="189.6" cy="491" r="1.1" fill="#1a1a1a"/>
<circle cx="198.2" cy="491" r="2.5" fill="#e4f0fc" stroke="#2b6fc2" stroke-width="0.8"/><path d="M196.7,491h3M198.2,489.5v3" stroke="#1a1a1a" stroke-width="0.9" fill="none"/><circle cx="198.2" cy="491" r="1.1" fill="#1a1a1a"/>
<circle cx="206.1" cy="491" r="2.5" fill="#e4f0fc" stroke="#2b6fc2" stroke-width="0.8"/><path d="M204.6,491h3M206.1,489.5v3" stroke="#1a1a1a" stroke-width="0.9" fill="none"/><circle cx="206.1" cy="491" r="1.1" fill="#1a1a1a"/>
<text x="128.8" y="422.3" font-size="6.6" text-anchor="start" fill="#231f20" class="m" ><tspan font-size="6.6">E</tspan><tspan font-size="3.96" dy="1.78">vac</tspan></text>
<text x="210.6" y="422.3" font-size="6.6" text-anchor="start" fill="#231f20" class="m" ><tspan font-size="6.6">E</tspan><tspan font-size="3.96" dy="1.78">vac</tspan></text>
<text x="129.9" y="455.6" font-size="6.6" text-anchor="start" fill="#231f20" class="m" ><tspan font-size="6.6">E</tspan><tspan font-size="3.96" dy="1.78">c</tspan></text>
<text x="209.9" y="461.8" font-size="6.6" text-anchor="start" fill="#231f20" class="m" ><tspan font-size="6.6">E</tspan><tspan font-size="3.96" dy="1.78">c</tspan></text>
<text x="130.5" y="475.2" font-size="6.6" text-anchor="start" fill="#231f20" class="m" ><tspan font-size="6.6">E</tspan><tspan font-size="3.96" dy="1.78">f</tspan></text>
<text x="130.5" y="482.2" font-size="6.6" text-anchor="start" fill="#231f20" class="m" ><tspan font-size="6.6">E</tspan><tspan font-size="3.96" dy="1.78">v</tspan></text>
<text x="211.4" y="488" font-size="6.6" text-anchor="start" fill="#231f20" class="m" ><tspan font-size="6.6">E</tspan><tspan font-size="3.96" dy="1.78">v</tspan></text>
<text x="141.6" y="428.6" font-size="3.8" text-anchor="start" fill="#231f20" stroke="#231f20" stroke-width="0.1" textLength="19.2" lengthAdjust="spacingAndGlyphs">x = 3.7eV</text>
<text x="207.8" y="442.5" font-size="3.8" text-anchor="start" fill="#231f20" stroke="#231f20" stroke-width="0.1" textLength="20.2" lengthAdjust="spacingAndGlyphs">x = 3.91eV</text>
<text x="147" y="500.2" font-size="6.4" text-anchor="start" fill="#231f20" class="m" textLength="14.9" lengthAdjust="spacingAndGlyphs"><tspan font-size="6.4">WSe</tspan><tspan font-size="4.22" dy="1.73">2</tspan></text>
<text x="192.2" y="500.2" font-size="6.4" text-anchor="start" fill="#231f20" class="m" textLength="18.4" lengthAdjust="spacingAndGlyphs"><tspan font-size="6.4">MoSe</tspan><tspan font-size="4.22" dy="1.73">2</tspan></text>
<text x="142.3" y="511.8" font-size="7.35" text-anchor="start" fill="#8c3b1e" class="b" textLength="74" lengthAdjust="spacingAndGlyphs">High-resistance state</text>
<line x1="51" y1="465" x2="64.3" y2="465" stroke="#a0522d" stroke-width="1.5" />
<path d="M49.2,465l3,-1.9v3.8z" fill="#a0522d"/>
<text x="57" y="470.6" font-size="5.4" text-anchor="middle" fill="#231f20" class="b" ><tspan font-size="5.4">E</tspan><tspan font-size="3.56" dy="1.46">bi</tspan></text>
<text x="46.2" y="485.4" font-size="4.4" text-anchor="middle" fill="#231f20" class="b" >V</text>
<line x1="106" y1="451.2" x2="119" y2="451.2" stroke="#6a2db8" stroke-width="2.4" />
<path d="M122.3,451.2l-4,-2.6v5.2z" fill="#6a2db8"/>
<line x1="110.2" y1="445.6" x2="116" y2="445.6" stroke="#1a3a8a" stroke-width="1.2" />
<circle cx="110.2" cy="445.6" r="2.5" fill="url(#gbl)"/><circle cx="116.1" cy="445.6" r="2.5" fill="url(#gbl)"/>
<text x="2.6" y="421.8" font-size="14.8" text-anchor="start" fill="#231f20" class="b" >j</text>
</g>
<g id="pk">
<line x1="285.7" y1="446.2" x2="433" y2="355.67" stroke="#f0463c" stroke-width="1.1" />
<rect x="284" y="447.43" width="3.4" height="3.2" fill="#000" stroke="none" stroke-width="1" />
<rect x="320.82" y="421.04" width="3.4" height="3.2" fill="#000" stroke="none" stroke-width="1" />
<rect x="357.65" y="395.14" width="3.4" height="3.2" fill="#000" stroke="none" stroke-width="1" />
<rect x="394.48" y="375.65" width="3.4" height="3.2" fill="#000" stroke="none" stroke-width="1" />
<rect x="431.3" y="357.65" width="3.4" height="3.2" fill="#000" stroke="none" stroke-width="1" />
<rect x="267.2" y="333.3" width="184.1" height="147.8" fill="none" stroke="#000" stroke-width="1.4" />
<line x1="264.3" y1="481.1" x2="267.2" y2="481.1" stroke="#000" stroke-width="1.2" />
<text x="260.7" y="484.2" font-size="9.3" text-anchor="end" fill="#231f20" class="b" >10</text>
<line x1="264.3" y1="456.43" x2="267.2" y2="456.43" stroke="#000" stroke-width="1.2" />
<text x="260.7" y="459.53" font-size="9.3" text-anchor="end" fill="#231f20" class="b" >20</text>
<line x1="264.3" y1="431.77" x2="267.2" y2="431.77" stroke="#000" stroke-width="1.2" />
<text x="260.7" y="434.87" font-size="9.3" text-anchor="end" fill="#231f20" class="b" >30</text>
<line x1="264.3" y1="407.1" x2="267.2" y2="407.1" stroke="#000" stroke-width="1.2" />
<text x="260.7" y="410.2" font-size="9.3" text-anchor="end" fill="#231f20" class="b" >40</text>
<line x1="264.3" y1="382.43" x2="267.2" y2="382.43" stroke="#000" stroke-width="1.2" />
<text x="260.7" y="385.53" font-size="9.3" text-anchor="end" fill="#231f20" class="b" >50</text>
<line x1="264.3" y1="357.77" x2="267.2" y2="357.77" stroke="#000" stroke-width="1.2" />
<text x="260.7" y="360.87" font-size="9.3" text-anchor="end" fill="#231f20" class="b" >60</text>
<line x1="264.3" y1="333.1" x2="267.2" y2="333.1" stroke="#000" stroke-width="1.2" />
<text x="260.7" y="336.2" font-size="9.3" text-anchor="end" fill="#231f20" class="b" >70</text>
<line x1="265.6" y1="468.77" x2="267.2" y2="468.77" stroke="#000" stroke-width="0.9" />
<line x1="265.6" y1="444.1" x2="267.2" y2="444.1" stroke="#000" stroke-width="0.9" />
<line x1="265.6" y1="419.43" x2="267.2" y2="419.43" stroke="#000" stroke-width="0.9" />
<line x1="265.6" y1="394.77" x2="267.2" y2="394.77" stroke="#000" stroke-width="0.9" />
<line x1="265.6" y1="370.1" x2="267.2" y2="370.1" stroke="#000" stroke-width="0.9" />
<line x1="265.6" y1="345.43" x2="267.2" y2="345.43" stroke="#000" stroke-width="0.9" />
<line x1="285.7" y1="481" x2="285.7" y2="483.8" stroke="#000" stroke-width="1.2" />
<text x="285.7" y="495" font-size="8.5" text-anchor="middle" fill="#231f20" class="b" >5</text>
<line x1="322.52" y1="481" x2="322.52" y2="483.8" stroke="#000" stroke-width="1.2" />
<text x="322.52" y="495" font-size="8.5" text-anchor="middle" fill="#231f20" class="b" >10</text>
<line x1="359.35" y1="481" x2="359.35" y2="483.8" stroke="#000" stroke-width="1.2" />
<text x="359.35" y="495" font-size="8.5" text-anchor="middle" fill="#231f20" class="b" >15</text>
<line x1="396.18" y1="481" x2="396.18" y2="483.8" stroke="#000" stroke-width="1.2" />
<text x="396.18" y="495" font-size="8.5" text-anchor="middle" fill="#231f20" class="b" >20</text>
<line x1="433" y1="481" x2="433" y2="483.8" stroke="#000" stroke-width="1.2" />
<text x="433" y="495" font-size="8.5" text-anchor="middle" fill="#231f20" class="b" >25</text>
<line x1="304.11" y1="481" x2="304.11" y2="482.6" stroke="#000" stroke-width="0.9" />
<line x1="340.94" y1="481" x2="340.94" y2="482.6" stroke="#000" stroke-width="0.9" />
<line x1="377.76" y1="481" x2="377.76" y2="482.6" stroke="#000" stroke-width="0.9" />
<line x1="414.59" y1="481" x2="414.59" y2="482.6" stroke="#000" stroke-width="0.9" />
<text x="359.3" y="508" font-size="8.8" text-anchor="middle" fill="#231f20" class="b" ><tspan font-size="8.8">H</tspan><tspan font-size="5.81" dy="2.38">2</tspan><tspan font-size="8.8" dy="-2.38"> Gas Concentration (ppm)</tspan></text>
<text transform="translate(245.2 406.5) rotate(-90)" font-size="8.8" text-anchor="middle" fill="#231f20" class="b r" >Response (%)</text>
<text x="235" y="337.8" font-size="14.8" text-anchor="start" fill="#231f20" class="b" >k</text>
<text x="404" y="429.2" font-size="8.8" text-anchor="middle" fill="#231f20" class="b" >y = 1.8343x + 14.978</text>
<text x="400" y="441.9" font-size="8.8" text-anchor="middle" fill="#231f20" class="b" ><tspan font-size="8.8">R</tspan><tspan font-size="5.81" dy="-3.34">2</tspan><tspan font-size="8.8" dy="3.34"> = 0.9926</tspan></text>
<text x="300.5" y="451.6" font-size="8.5" text-anchor="start" fill="#231f20" class="b" ><tspan font-size="8.5">MoSe</tspan><tspan font-size="5.61" dy="2.29">2</tspan><tspan font-size="8.5" dy="-2.29">-WSe</tspan><tspan font-size="5.61" dy="2.29">2</tspan></text>
<rect x="279.8" y="337.5" width="71.4" height="57" fill="#fff" stroke="#777" stroke-width="0.6" />
<line x1="286.3" y1="376.85" x2="343.8" y2="342.18" stroke="#f048a0" stroke-width="0.8" />
<rect x="285.7" y="375.87" width="1.2" height="1.2" fill="#222" stroke="none" stroke-width="1" />
<rect x="300.07" y="371.29" width="1.2" height="1.2" fill="#222" stroke="none" stroke-width="1" />
<rect x="314.45" y="356.05" width="1.2" height="1.2" fill="#222" stroke="none" stroke-width="1" />
<rect x="328.82" y="348.18" width="1.2" height="1.2" fill="#222" stroke="none" stroke-width="1" />
<rect x="343.2" y="344.37" width="1.2" height="1.2" fill="#222" stroke="none" stroke-width="1" />
<line x1="278.4" y1="394.5" x2="279.8" y2="394.5" stroke="#555" stroke-width="0.5" />
<text x="276.3" y="396.4" font-size="5.8" text-anchor="end" fill="#231f20" class="b" >0</text>
<line x1="278.4" y1="381.8" x2="279.8" y2="381.8" stroke="#555" stroke-width="0.5" />
<text x="276.3" y="383.7" font-size="5.8" text-anchor="end" fill="#231f20" class="b" >10</text>
<line x1="278.4" y1="369.1" x2="279.8" y2="369.1" stroke="#555" stroke-width="0.5" />
<text x="276.3" y="371" font-size="5.8" text-anchor="end" fill="#231f20" class="b" >20</text>
<line x1="278.4" y1="356.4" x2="279.8" y2="356.4" stroke="#555" stroke-width="0.5" />
<text x="276.3" y="358.3" font-size="5.8" text-anchor="end" fill="#231f20" class="b" >30</text>
<line x1="278.4" y1="343.7" x2="279.8" y2="343.7" stroke="#555" stroke-width="0.5" />
<text x="276.3" y="345.6" font-size="5.8" text-anchor="end" fill="#231f20" class="b" >40</text>
<line x1="279" y1="388.15" x2="279.8" y2="388.15" stroke="#555" stroke-width="0.4" />
<line x1="279" y1="375.45" x2="279.8" y2="375.45" stroke="#555" stroke-width="0.4" />
<line x1="279" y1="362.75" x2="279.8" y2="362.75" stroke="#555" stroke-width="0.4" />
<line x1="279" y1="350.05" x2="279.8" y2="350.05" stroke="#555" stroke-width="0.4" />
<line x1="286.3" y1="394.5" x2="286.3" y2="395.8" stroke="#555" stroke-width="0.5" />
<text x="286.3" y="401.7" font-size="5.8" text-anchor="middle" fill="#231f20" class="b" >5</text>
<line x1="300.68" y1="394.5" x2="300.68" y2="395.8" stroke="#555" stroke-width="0.5" />
<text x="300.68" y="401.7" font-size="5.8" text-anchor="middle" fill="#231f20" class="b" >10</text>
<line x1="315.05" y1="394.5" x2="315.05" y2="395.8" stroke="#555" stroke-width="0.5" />
<text x="315.05" y="401.7" font-size="5.8" text-anchor="middle" fill="#231f20" class="b" >15</text>
<line x1="329.43" y1="394.5" x2="329.43" y2="395.8" stroke="#555" stroke-width="0.5" />
<text x="329.43" y="401.7" font-size="5.8" text-anchor="middle" fill="#231f20" class="b" >20</text>
<line x1="343.8" y1="394.5" x2="343.8" y2="395.8" stroke="#555" stroke-width="0.5" />
<text x="343.8" y="401.7" font-size="5.8" text-anchor="middle" fill="#231f20" class="b" >25</text>
<text x="285.5" y="353.8" font-size="4.4" text-anchor="start" fill="#231f20" class="b" ><tspan font-size="4.4">WSe</tspan><tspan font-size="2.9" dy="1.19">2</tspan></text>
<text x="327.2" y="376.4" font-size="4.3" text-anchor="middle" fill="#231f20" class="b" >y = 0.8451x + 7.0908</text>
<text x="327.6" y="382.9" font-size="4.3" text-anchor="middle" fill="#231f20" class="b" ><tspan font-size="4.3">R</tspan><tspan font-size="2.84" dy="-1.63">2</tspan><tspan font-size="4.3" dy="1.63"> = 0.8688</tspan></text>
</g>
<g id="pl">
<polyline points="512.5,412.7 549.58,424.15 586.65,408.12 623.73,442.47 660.8,467.66" fill="none" stroke="#12e6f2" stroke-width="1.8" stroke-linejoin="round" />
<polyline points="512.5,389.8 549.58,378.35 586.65,362.32 623.73,424.15 660.8,431.02" fill="none" stroke="#24e21c" stroke-width="1.8" stroke-linejoin="round" />
<rect x="511" y="411.2" width="3" height="3" fill="#000" stroke="none" stroke-width="1" />
<rect x="548.08" y="422.65" width="3" height="3" fill="#000" stroke="none" stroke-width="1" />
<rect x="585.15" y="406.62" width="3" height="3" fill="#000" stroke="none" stroke-width="1" />
<rect x="622.23" y="440.97" width="3" height="3" fill="#000" stroke="none" stroke-width="1" />
<rect x="659.3" y="466.16" width="3" height="3" fill="#000" stroke="none" stroke-width="1" />
<circle cx="512.5" cy="389.8" r="1.8" fill="#000" />
<circle cx="549.58" cy="378.35" r="1.8" fill="#000" />
<circle cx="586.65" cy="362.32" r="1.8" fill="#000" />
<circle cx="623.73" cy="424.15" r="1.8" fill="#000" />
<circle cx="660.8" cy="431.02" r="1.8" fill="#000" />
<rect x="493.8" y="332.6" width="185.9" height="148.9" fill="none" stroke="#000" stroke-width="1.4" />
<line x1="490.8" y1="458.5" x2="493.8" y2="458.5" stroke="#000" stroke-width="1.2" />
<text x="488" y="462" font-size="8.5" text-anchor="end" fill="#231f20" class="b" >20</text>
<line x1="490.8" y1="412.7" x2="493.8" y2="412.7" stroke="#000" stroke-width="1.2" />
<text x="488" y="416.2" font-size="8.5" text-anchor="end" fill="#231f20" class="b" >40</text>
<line x1="490.8" y1="366.9" x2="493.8" y2="366.9" stroke="#000" stroke-width="1.2" />
<text x="488" y="370.4" font-size="8.5" text-anchor="end" fill="#231f20" class="b" >60</text>
<line x1="492.2" y1="435.6" x2="493.8" y2="435.6" stroke="#000" stroke-width="0.9" />
<line x1="492.2" y1="389.8" x2="493.8" y2="389.8" stroke="#000" stroke-width="0.9" />
<line x1="492.2" y1="344" x2="493.8" y2="344" stroke="#000" stroke-width="0.9" />
<line x1="512.5" y1="481.5" x2="512.5" y2="484.4" stroke="#000" stroke-width="1.2" />
<text x="512.5" y="495" font-size="8.5" text-anchor="middle" fill="#231f20" class="b" >5</text>
<line x1="549.58" y1="481.5" x2="549.58" y2="484.4" stroke="#000" stroke-width="1.2" />
<text x="549.58" y="495" font-size="8.5" text-anchor="middle" fill="#231f20" class="b" >10</text>
<line x1="586.65" y1="481.5" x2="586.65" y2="484.4" stroke="#000" stroke-width="1.2" />
<text x="586.65" y="495" font-size="8.5" text-anchor="middle" fill="#231f20" class="b" >15</text>
<line x1="623.73" y1="481.5" x2="623.73" y2="484.4" stroke="#000" stroke-width="1.2" />
<text x="623.73" y="495" font-size="8.5" text-anchor="middle" fill="#231f20" class="b" >20</text>
<line x1="660.8" y1="481.5" x2="660.8" y2="484.4" stroke="#000" stroke-width="1.2" />
<text x="660.8" y="495" font-size="8.5" text-anchor="middle" fill="#231f20" class="b" >25</text>
<line x1="531.04" y1="481.5" x2="531.04" y2="483.2" stroke="#000" stroke-width="0.9" />
<line x1="568.11" y1="481.5" x2="568.11" y2="483.2" stroke="#000" stroke-width="0.9" />
<line x1="605.19" y1="481.5" x2="605.19" y2="483.2" stroke="#000" stroke-width="0.9" />
<line x1="642.26" y1="481.5" x2="642.26" y2="483.2" stroke="#000" stroke-width="0.9" />
<text x="586.5" y="508" font-size="8.8" text-anchor="middle" fill="#231f20" class="b" ><tspan font-size="8.8">H</tspan><tspan font-size="5.81" dy="2.38">2</tspan><tspan font-size="8.8" dy="-2.38"> Gas Concentration (ppm)</tspan></text>
<text transform="translate(468.8 406.5) rotate(-90)" font-size="8.9" text-anchor="middle" fill="#231f20" class="b r" >Response time (sec)</text>
<text x="463" y="337.6" font-size="14.8" text-anchor="start" fill="#231f20" class="b" >l</text>
<text x="514" y="384.6" font-size="8.5" text-anchor="middle" fill="#231f20" class="b" >50 s</text>
<text x="548" y="371" font-size="8.5" text-anchor="middle" fill="#231f20" class="b" >55 s</text>
<text x="588" y="359" font-size="8.5" text-anchor="middle" fill="#231f20" class="b" >62 s</text>
<text x="514.2" y="409" font-size="8.5" text-anchor="middle" fill="#231f20" class="b" >40 s</text>
<text x="548.5" y="435.8" font-size="8.5" text-anchor="middle" fill="#231f20" class="b" >35 s</text>
<text x="584.5" y="421.3" font-size="8.5" text-anchor="middle" fill="#231f20" class="b" >42 s</text>
<text x="632.6" y="421.3" font-size="8.5" text-anchor="middle" fill="#231f20" class="b" >35 s</text>
<text x="666" y="426.9" font-size="8.5" text-anchor="middle" fill="#231f20" class="b" >32 s</text>
<text x="616.6" y="451" font-size="8.5" text-anchor="middle" fill="#231f20" class="b" >27 s</text>
<text x="652.4" y="475.6" font-size="8.5" text-anchor="middle" fill="#231f20" class="b" >16 s</text>
<line x1="616.3" y1="340.5" x2="633" y2="340.5" stroke="#1be8f0" stroke-width="1.3" />
<rect x="623.2" y="339.1" width="2.8" height="2.8" fill="#000" stroke="none" stroke-width="1" />
<line x1="616.3" y1="351" x2="633" y2="351" stroke="#27e61e" stroke-width="1.3" />
<circle cx="624.6" cy="351" r="1.7" fill="#000" />
<text x="635.1" y="343.2" font-size="7.2" text-anchor="start" fill="#231f20" class="b" ><tspan font-size="7.2">MoSe</tspan><tspan font-size="4.75" dy="1.94">2</tspan><tspan font-size="7.2" dy="-1.94">-WSe</tspan><tspan font-size="4.75" dy="1.94">2</tspan></text>
<text x="635.1" y="353.6" font-size="7.2" text-anchor="start" fill="#231f20" class="b" ><tspan font-size="7.2">WSe</tspan><tspan font-size="4.75" dy="1.94">2</tspan></text>
</g>
</g>
</svg>
</body></html>
